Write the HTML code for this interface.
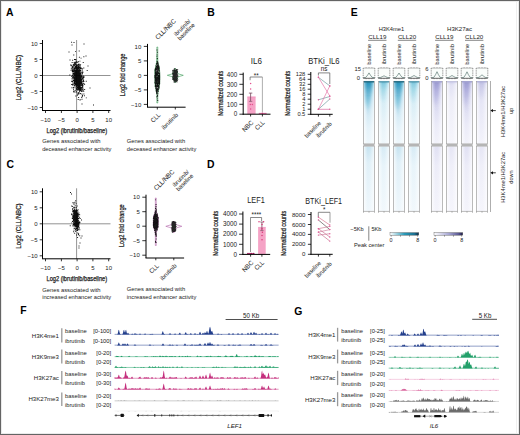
<!DOCTYPE html>
<html><head><meta charset="utf-8"><style>
html,body{margin:0;padding:0;background:#fff;}
svg{display:block;}
text{font-family:"Liberation Sans", sans-serif;}
</style></head><body>
<svg width="520" height="435" viewBox="0 0 520 435" font-family='"Liberation Sans", sans-serif'>
<defs><linearGradient id="k4b" x1="0" y1="0" x2="0" y2="1"><stop offset="0" stop-color="#2a8fb5"/><stop offset="0.04" stop-color="#48abd0"/><stop offset="0.12" stop-color="#7cc4e0"/><stop offset="0.25" stop-color="#a9d8ec"/><stop offset="0.45" stop-color="#cfe8f4"/><stop offset="0.75" stop-color="#e6f3fa"/><stop offset="1" stop-color="#eef7fc"/></linearGradient><linearGradient id="k4i" x1="0" y1="0" x2="0" y2="1"><stop offset="0" stop-color="#5aa8c0"/><stop offset="0.03" stop-color="#9ad6e8"/><stop offset="0.12" stop-color="#b8e2ee"/><stop offset="0.35" stop-color="#d8eef6"/><stop offset="0.7" stop-color="#e9f4f9"/><stop offset="1" stop-color="#eff7fb"/></linearGradient><linearGradient id="k4b2" x1="0" y1="0" x2="0" y2="1"><stop offset="0" stop-color="#c6e3f1"/><stop offset="0.25" stop-color="#e0f0f8"/><stop offset="1" stop-color="#eff7fc"/></linearGradient><linearGradient id="k4i2" x1="0" y1="0" x2="0" y2="1"><stop offset="0" stop-color="#d6ebf5"/><stop offset="0.3" stop-color="#e8f4fa"/><stop offset="1" stop-color="#f1f8fc"/></linearGradient><linearGradient id="acb" x1="0" y1="0" x2="0" y2="1"><stop offset="0" stop-color="#9c9ccf"/><stop offset="0.04" stop-color="#b4b4e0"/><stop offset="0.15" stop-color="#c6c6ea"/><stop offset="0.4" stop-color="#dcdcf2"/><stop offset="0.7" stop-color="#ebebf8"/><stop offset="1" stop-color="#f2f2fa"/></linearGradient><linearGradient id="aci" x1="0" y1="0" x2="0" y2="1"><stop offset="0" stop-color="#d0d0ec"/><stop offset="0.05" stop-color="#e2e2f4"/><stop offset="0.3" stop-color="#eeeef8"/><stop offset="1" stop-color="#f6f6fc"/></linearGradient><linearGradient id="aci8" x1="0" y1="0" x2="0" y2="1"><stop offset="0" stop-color="#c0c0e4"/><stop offset="0.05" stop-color="#d4d4ee"/><stop offset="0.3" stop-color="#e6e6f6"/><stop offset="1" stop-color="#f3f3fb"/></linearGradient><linearGradient id="acb2" x1="0" y1="0" x2="0" y2="1"><stop offset="0" stop-color="#e0e0f3"/><stop offset="0.3" stop-color="#ececf8"/><stop offset="1" stop-color="#f4f4fb"/></linearGradient><linearGradient id="aci2" x1="0" y1="0" x2="0" y2="1"><stop offset="0" stop-color="#e6e6f5"/><stop offset="0.3" stop-color="#efeff9"/><stop offset="1" stop-color="#f5f5fc"/></linearGradient><linearGradient id="vk4" x1="0" y1="0" x2="0" y2="1"><stop offset="0" stop-color="#1286b0" stop-opacity="0.5"/><stop offset="1" stop-color="#1286b0" stop-opacity="0"/></linearGradient><linearGradient id="vk4i" x1="0" y1="0" x2="0" y2="1"><stop offset="0" stop-color="#3aa8c8" stop-opacity="0.22"/><stop offset="1" stop-color="#3aa8c8" stop-opacity="0"/></linearGradient><linearGradient id="vac" x1="0" y1="0" x2="0" y2="1"><stop offset="0" stop-color="#7a78c0" stop-opacity="0.35"/><stop offset="1" stop-color="#7a78c0" stop-opacity="0"/></linearGradient><linearGradient id="vaci" x1="0" y1="0" x2="0" y2="1"><stop offset="0" stop-color="#9a98d0" stop-opacity="0.2"/><stop offset="1" stop-color="#9a98d0" stop-opacity="0"/></linearGradient><filter id="bl" x="-50%" y="-20%" width="200%" height="140%"><feGaussianBlur stdDeviation="1.3"/></filter><linearGradient id="hmask" x1="0" y1="0" x2="1" y2="0"><stop offset="0" stop-color="#ffffff" stop-opacity="0.55"/><stop offset="0.35" stop-color="#ffffff" stop-opacity="0.0"/><stop offset="0.6" stop-color="#ffffff" stop-opacity="0.05"/><stop offset="1" stop-color="#ffffff" stop-opacity="0.6"/></linearGradient><linearGradient id="cb1" x1="0" y1="0" x2="1" y2="0"><stop offset="0" stop-color="#ffffff" stop-opacity="1"/><stop offset="0.5" stop-color="#2a9ab8" stop-opacity="1"/><stop offset="0.85" stop-color="#1a6f90" stop-opacity="1"/><stop offset="1" stop-color="#0f2a45" stop-opacity="1"/></linearGradient><linearGradient id="cb2" x1="0" y1="0" x2="1" y2="0"><stop offset="0" stop-color="#ffffff" stop-opacity="1"/><stop offset="0.5" stop-color="#a8a8d4" stop-opacity="1"/><stop offset="0.85" stop-color="#5c5a94" stop-opacity="1"/><stop offset="1" stop-color="#1a1a40" stop-opacity="1"/></linearGradient></defs>
<rect x="0" y="0" width="520" height="435" fill="#fff"/>
<text x="6.00" y="15.50" font-size="10.4" fill="#000" font-weight="bold" >A</text>
<text x="207.30" y="15.80" font-size="10.4" fill="#000" font-weight="bold" >B</text>
<text x="6.50" y="167.50" font-size="10.4" fill="#000" font-weight="bold" >C</text>
<text x="207.00" y="167.60" font-size="10.4" fill="#000" font-weight="bold" >D</text>
<text x="350.80" y="15.60" font-size="10.4" fill="#000" font-weight="bold" >E</text>
<text x="20.30" y="314.30" font-size="10.4" fill="#000" font-weight="bold" >F</text>
<text x="294.30" y="314.60" font-size="10.4" fill="#000" font-weight="bold" >G</text>
<line x1="76.60" y1="40.00" x2="76.60" y2="110.50" stroke="#777" stroke-width="0.8" />
<line x1="42.50" y1="75.50" x2="110.50" y2="75.50" stroke="#777" stroke-width="0.8" />
<path d="M78.15 75.34h0.95v0.95h-0.95zM76.35 75.53h0.95v0.95h-0.95zM76.02 70.89h0.95v0.95h-0.95zM79.04 84.36h0.95v0.95h-0.95zM78.59 83.87h0.95v0.95h-0.95zM77.95 79.63h0.95v0.95h-0.95zM77.79 66.03h0.95v0.95h-0.95zM78.72 80.37h0.95v0.95h-0.95zM72.05 65.86h0.95v0.95h-0.95zM75.49 71.15h0.95v0.95h-0.95zM77.37 79.04h0.95v0.95h-0.95zM76.22 80.46h0.95v0.95h-0.95zM78.34 79.06h0.95v0.95h-0.95zM80.48 72.66h0.95v0.95h-0.95zM80.30 80.70h0.95v0.95h-0.95zM75.11 72.93h0.95v0.95h-0.95zM76.72 74.75h0.95v0.95h-0.95zM78.27 81.20h0.95v0.95h-0.95zM74.77 74.07h0.95v0.95h-0.95zM79.50 73.59h0.95v0.95h-0.95zM77.12 71.69h0.95v0.95h-0.95zM74.29 79.84h0.95v0.95h-0.95zM80.14 77.34h0.95v0.95h-0.95zM74.92 63.73h0.95v0.95h-0.95zM75.34 76.32h0.95v0.95h-0.95zM77.48 80.31h0.95v0.95h-0.95zM77.89 67.36h0.95v0.95h-0.95zM79.84 81.44h0.95v0.95h-0.95zM79.16 86.53h0.95v0.95h-0.95zM74.46 77.81h0.95v0.95h-0.95zM76.37 81.09h0.95v0.95h-0.95zM74.08 74.04h0.95v0.95h-0.95zM75.29 70.64h0.95v0.95h-0.95zM73.78 85.53h0.95v0.95h-0.95zM76.60 67.40h0.95v0.95h-0.95zM79.64 86.55h0.95v0.95h-0.95zM70.18 64.49h0.95v0.95h-0.95zM75.89 79.38h0.95v0.95h-0.95zM78.49 69.63h0.95v0.95h-0.95zM78.44 84.30h0.95v0.95h-0.95zM78.38 78.65h0.95v0.95h-0.95zM79.85 87.55h0.95v0.95h-0.95zM78.84 80.45h0.95v0.95h-0.95zM78.80 66.67h0.95v0.95h-0.95zM79.15 83.33h0.95v0.95h-0.95zM74.27 64.00h0.95v0.95h-0.95zM73.91 82.58h0.95v0.95h-0.95zM79.32 75.81h0.95v0.95h-0.95zM79.73 68.37h0.95v0.95h-0.95zM77.33 80.67h0.95v0.95h-0.95zM78.91 79.17h0.95v0.95h-0.95zM79.84 77.82h0.95v0.95h-0.95zM75.79 72.66h0.95v0.95h-0.95zM78.11 83.90h0.95v0.95h-0.95zM78.61 71.21h0.95v0.95h-0.95zM77.41 86.70h0.95v0.95h-0.95zM75.84 67.92h0.95v0.95h-0.95zM76.45 76.04h0.95v0.95h-0.95zM76.08 86.30h0.95v0.95h-0.95zM75.43 85.34h0.95v0.95h-0.95zM77.99 71.83h0.95v0.95h-0.95zM80.01 84.47h0.95v0.95h-0.95zM77.81 79.30h0.95v0.95h-0.95zM78.61 78.03h0.95v0.95h-0.95zM77.70 75.86h0.95v0.95h-0.95zM77.68 80.80h0.95v0.95h-0.95zM79.08 82.07h0.95v0.95h-0.95zM79.53 90.30h0.95v0.95h-0.95zM76.07 74.20h0.95v0.95h-0.95zM79.25 76.94h0.95v0.95h-0.95zM77.81 74.80h0.95v0.95h-0.95zM73.04 89.15h0.95v0.95h-0.95zM76.87 69.61h0.95v0.95h-0.95zM78.07 79.65h0.95v0.95h-0.95zM78.32 74.18h0.95v0.95h-0.95zM76.30 78.89h0.95v0.95h-0.95zM79.93 93.06h0.95v0.95h-0.95zM76.57 73.37h0.95v0.95h-0.95zM76.91 75.54h0.95v0.95h-0.95zM73.99 59.02h0.95v0.95h-0.95zM75.45 83.68h0.95v0.95h-0.95zM79.27 76.58h0.95v0.95h-0.95zM81.18 82.68h0.95v0.95h-0.95zM75.10 65.80h0.95v0.95h-0.95zM78.33 74.77h0.95v0.95h-0.95zM72.19 84.23h0.95v0.95h-0.95zM74.90 84.21h0.95v0.95h-0.95zM74.48 81.53h0.95v0.95h-0.95zM79.99 78.19h0.95v0.95h-0.95zM77.53 76.04h0.95v0.95h-0.95zM78.17 82.29h0.95v0.95h-0.95zM80.53 76.44h0.95v0.95h-0.95zM77.41 83.94h0.95v0.95h-0.95zM76.88 95.14h0.95v0.95h-0.95zM77.36 83.06h0.95v0.95h-0.95zM78.88 77.90h0.95v0.95h-0.95zM78.81 78.49h0.95v0.95h-0.95zM72.69 66.94h0.95v0.95h-0.95zM75.59 81.08h0.95v0.95h-0.95zM73.18 70.25h0.95v0.95h-0.95zM79.87 85.38h0.95v0.95h-0.95zM76.33 86.75h0.95v0.95h-0.95zM74.72 77.03h0.95v0.95h-0.95zM81.33 82.08h0.95v0.95h-0.95zM79.95 71.15h0.95v0.95h-0.95zM77.62 83.55h0.95v0.95h-0.95zM78.76 64.01h0.95v0.95h-0.95zM75.82 76.39h0.95v0.95h-0.95zM78.44 79.66h0.95v0.95h-0.95zM76.17 86.91h0.95v0.95h-0.95zM81.40 84.52h0.95v0.95h-0.95zM77.98 86.61h0.95v0.95h-0.95zM78.88 72.11h0.95v0.95h-0.95zM77.59 77.79h0.95v0.95h-0.95zM77.77 86.42h0.95v0.95h-0.95zM74.55 61.87h0.95v0.95h-0.95zM77.56 64.79h0.95v0.95h-0.95zM76.13 79.12h0.95v0.95h-0.95zM79.05 76.96h0.95v0.95h-0.95zM80.21 77.55h0.95v0.95h-0.95zM79.47 76.62h0.95v0.95h-0.95zM81.95 86.87h0.95v0.95h-0.95zM78.63 72.59h0.95v0.95h-0.95zM73.36 64.64h0.95v0.95h-0.95zM78.02 64.07h0.95v0.95h-0.95zM76.22 68.89h0.95v0.95h-0.95zM77.01 75.76h0.95v0.95h-0.95zM77.27 73.12h0.95v0.95h-0.95zM78.74 88.85h0.95v0.95h-0.95zM79.85 80.53h0.95v0.95h-0.95zM74.30 75.72h0.95v0.95h-0.95zM79.15 73.36h0.95v0.95h-0.95zM74.61 66.16h0.95v0.95h-0.95zM79.77 83.67h0.95v0.95h-0.95zM79.00 77.08h0.95v0.95h-0.95zM74.76 78.12h0.95v0.95h-0.95zM74.58 66.70h0.95v0.95h-0.95zM76.71 83.12h0.95v0.95h-0.95zM74.81 71.07h0.95v0.95h-0.95zM75.75 66.92h0.95v0.95h-0.95zM77.09 69.24h0.95v0.95h-0.95zM76.08 61.45h0.95v0.95h-0.95zM72.44 72.79h0.95v0.95h-0.95zM77.19 81.81h0.95v0.95h-0.95zM73.53 62.31h0.95v0.95h-0.95zM76.45 78.95h0.95v0.95h-0.95zM79.49 82.17h0.95v0.95h-0.95zM78.47 81.42h0.95v0.95h-0.95zM79.73 85.83h0.95v0.95h-0.95zM73.00 80.00h0.95v0.95h-0.95zM80.82 82.94h0.95v0.95h-0.95zM75.96 75.07h0.95v0.95h-0.95zM74.89 89.83h0.95v0.95h-0.95zM82.93 80.12h0.95v0.95h-0.95zM78.01 70.90h0.95v0.95h-0.95zM78.45 89.48h0.95v0.95h-0.95zM79.66 80.73h0.95v0.95h-0.95zM76.31 71.05h0.95v0.95h-0.95zM79.27 78.96h0.95v0.95h-0.95zM76.77 76.80h0.95v0.95h-0.95zM75.63 70.32h0.95v0.95h-0.95zM78.16 82.91h0.95v0.95h-0.95zM74.70 71.40h0.95v0.95h-0.95zM81.84 94.63h0.95v0.95h-0.95zM72.03 81.23h0.95v0.95h-0.95zM78.77 81.13h0.95v0.95h-0.95zM79.50 88.14h0.95v0.95h-0.95zM78.32 76.58h0.95v0.95h-0.95zM77.96 64.19h0.95v0.95h-0.95zM75.94 79.17h0.95v0.95h-0.95zM82.26 85.77h0.95v0.95h-0.95zM74.65 67.77h0.95v0.95h-0.95zM77.86 78.95h0.95v0.95h-0.95zM74.77 74.40h0.95v0.95h-0.95zM81.19 91.02h0.95v0.95h-0.95zM73.32 69.14h0.95v0.95h-0.95zM80.75 88.27h0.95v0.95h-0.95zM80.45 89.04h0.95v0.95h-0.95zM77.11 71.27h0.95v0.95h-0.95zM73.87 62.77h0.95v0.95h-0.95zM78.33 76.64h0.95v0.95h-0.95zM76.38 72.22h0.95v0.95h-0.95zM78.42 80.05h0.95v0.95h-0.95zM78.19 81.24h0.95v0.95h-0.95zM78.70 74.89h0.95v0.95h-0.95zM75.45 77.35h0.95v0.95h-0.95zM76.73 72.89h0.95v0.95h-0.95zM77.48 76.30h0.95v0.95h-0.95zM77.61 77.02h0.95v0.95h-0.95zM74.35 76.14h0.95v0.95h-0.95zM79.88 79.81h0.95v0.95h-0.95zM77.15 79.89h0.95v0.95h-0.95zM75.45 79.97h0.95v0.95h-0.95zM75.85 64.51h0.95v0.95h-0.95zM78.12 70.88h0.95v0.95h-0.95zM70.58 69.87h0.95v0.95h-0.95zM79.87 70.16h0.95v0.95h-0.95zM73.91 74.51h0.95v0.95h-0.95zM77.77 71.99h0.95v0.95h-0.95zM78.01 80.30h0.95v0.95h-0.95zM79.95 86.82h0.95v0.95h-0.95zM78.52 76.89h0.95v0.95h-0.95zM80.67 87.95h0.95v0.95h-0.95zM75.65 83.78h0.95v0.95h-0.95zM78.71 76.05h0.95v0.95h-0.95zM79.34 75.07h0.95v0.95h-0.95zM79.70 80.96h0.95v0.95h-0.95zM82.66 75.62h0.95v0.95h-0.95zM77.73 85.21h0.95v0.95h-0.95zM83.01 77.62h0.95v0.95h-0.95zM78.88 74.76h0.95v0.95h-0.95zM78.02 83.50h0.95v0.95h-0.95zM76.71 69.32h0.95v0.95h-0.95zM79.99 79.40h0.95v0.95h-0.95zM77.90 82.19h0.95v0.95h-0.95zM79.09 82.66h0.95v0.95h-0.95zM77.51 78.38h0.95v0.95h-0.95zM78.54 75.42h0.95v0.95h-0.95zM75.01 70.07h0.95v0.95h-0.95zM74.01 77.06h0.95v0.95h-0.95zM72.46 74.15h0.95v0.95h-0.95zM77.93 72.52h0.95v0.95h-0.95zM77.55 80.76h0.95v0.95h-0.95zM73.92 75.49h0.95v0.95h-0.95zM79.81 89.09h0.95v0.95h-0.95zM76.15 84.24h0.95v0.95h-0.95zM73.08 75.80h0.95v0.95h-0.95zM79.90 82.18h0.95v0.95h-0.95zM75.61 64.50h0.95v0.95h-0.95zM73.85 81.19h0.95v0.95h-0.95zM73.44 64.98h0.95v0.95h-0.95zM73.64 72.87h0.95v0.95h-0.95zM77.80 77.23h0.95v0.95h-0.95zM79.27 81.21h0.95v0.95h-0.95zM80.98 86.94h0.95v0.95h-0.95zM75.07 68.37h0.95v0.95h-0.95zM74.02 70.03h0.95v0.95h-0.95zM77.17 76.49h0.95v0.95h-0.95zM74.12 80.26h0.95v0.95h-0.95zM76.19 68.86h0.95v0.95h-0.95zM76.38 75.71h0.95v0.95h-0.95zM75.50 76.61h0.95v0.95h-0.95zM78.56 81.65h0.95v0.95h-0.95zM75.68 76.45h0.95v0.95h-0.95zM71.10 75.88h0.95v0.95h-0.95zM76.53 70.55h0.95v0.95h-0.95zM76.47 67.10h0.95v0.95h-0.95zM74.31 78.00h0.95v0.95h-0.95zM76.34 75.37h0.95v0.95h-0.95zM78.94 80.06h0.95v0.95h-0.95zM75.32 76.79h0.95v0.95h-0.95zM76.97 76.07h0.95v0.95h-0.95zM78.45 81.87h0.95v0.95h-0.95zM73.67 72.26h0.95v0.95h-0.95zM75.30 74.56h0.95v0.95h-0.95zM76.09 69.69h0.95v0.95h-0.95zM77.07 73.78h0.95v0.95h-0.95zM76.73 80.48h0.95v0.95h-0.95zM78.36 92.37h0.95v0.95h-0.95zM78.37 84.30h0.95v0.95h-0.95zM72.88 84.39h0.95v0.95h-0.95zM77.17 72.07h0.95v0.95h-0.95zM82.84 81.00h0.95v0.95h-0.95zM80.30 79.15h0.95v0.95h-0.95zM79.92 82.08h0.95v0.95h-0.95zM77.29 80.39h0.95v0.95h-0.95zM75.26 80.39h0.95v0.95h-0.95zM75.92 84.82h0.95v0.95h-0.95zM82.09 78.67h0.95v0.95h-0.95zM77.09 75.55h0.95v0.95h-0.95zM78.20 84.70h0.95v0.95h-0.95zM77.15 71.69h0.95v0.95h-0.95zM79.25 80.87h0.95v0.95h-0.95zM80.47 71.93h0.95v0.95h-0.95zM78.59 88.03h0.95v0.95h-0.95zM76.50 78.80h0.95v0.95h-0.95zM76.79 86.36h0.95v0.95h-0.95zM76.70 81.47h0.95v0.95h-0.95zM78.26 72.44h0.95v0.95h-0.95zM78.26 85.83h0.95v0.95h-0.95zM78.47 72.55h0.95v0.95h-0.95zM77.87 76.70h0.95v0.95h-0.95zM80.92 87.08h0.95v0.95h-0.95zM81.84 73.59h0.95v0.95h-0.95zM78.96 77.05h0.95v0.95h-0.95zM76.61 72.75h0.95v0.95h-0.95zM79.77 65.48h0.95v0.95h-0.95zM75.63 86.04h0.95v0.95h-0.95zM72.47 67.09h0.95v0.95h-0.95zM77.15 84.78h0.95v0.95h-0.95zM76.49 76.63h0.95v0.95h-0.95zM74.74 76.23h0.95v0.95h-0.95zM74.08 77.18h0.95v0.95h-0.95zM77.85 76.55h0.95v0.95h-0.95zM77.09 80.11h0.95v0.95h-0.95zM76.86 71.06h0.95v0.95h-0.95zM80.29 73.83h0.95v0.95h-0.95zM77.58 82.09h0.95v0.95h-0.95zM75.31 73.92h0.95v0.95h-0.95zM75.71 70.84h0.95v0.95h-0.95zM78.59 78.97h0.95v0.95h-0.95zM82.29 80.78h0.95v0.95h-0.95zM76.70 72.37h0.95v0.95h-0.95zM75.33 95.47h0.95v0.95h-0.95zM77.19 73.58h0.95v0.95h-0.95zM78.24 78.04h0.95v0.95h-0.95zM77.84 75.45h0.95v0.95h-0.95zM78.96 77.37h0.95v0.95h-0.95zM73.78 64.53h0.95v0.95h-0.95zM74.95 77.01h0.95v0.95h-0.95zM77.78 70.13h0.95v0.95h-0.95zM78.11 72.74h0.95v0.95h-0.95zM78.49 81.95h0.95v0.95h-0.95zM77.40 80.38h0.95v0.95h-0.95zM76.04 67.72h0.95v0.95h-0.95zM76.42 80.02h0.95v0.95h-0.95zM78.79 76.37h0.95v0.95h-0.95zM77.94 71.23h0.95v0.95h-0.95zM77.48 89.32h0.95v0.95h-0.95zM77.01 77.99h0.95v0.95h-0.95zM79.14 87.19h0.95v0.95h-0.95zM76.42 82.95h0.95v0.95h-0.95zM77.19 76.92h0.95v0.95h-0.95zM78.99 65.30h0.95v0.95h-0.95zM74.09 82.96h0.95v0.95h-0.95zM77.53 81.94h0.95v0.95h-0.95zM78.39 79.98h0.95v0.95h-0.95zM75.57 67.13h0.95v0.95h-0.95zM77.14 86.88h0.95v0.95h-0.95zM73.42 70.27h0.95v0.95h-0.95zM77.00 68.97h0.95v0.95h-0.95zM79.51 88.20h0.95v0.95h-0.95zM82.33 78.65h0.95v0.95h-0.95zM75.33 73.60h0.95v0.95h-0.95zM78.85 80.51h0.95v0.95h-0.95zM73.85 70.33h0.95v0.95h-0.95zM78.00 78.95h0.95v0.95h-0.95zM75.75 68.40h0.95v0.95h-0.95zM77.81 73.44h0.95v0.95h-0.95zM76.94 76.25h0.95v0.95h-0.95zM79.26 74.69h0.95v0.95h-0.95zM77.52 86.20h0.95v0.95h-0.95zM76.23 82.61h0.95v0.95h-0.95zM78.93 77.50h0.95v0.95h-0.95zM77.58 87.02h0.95v0.95h-0.95zM77.60 76.54h0.95v0.95h-0.95zM76.07 67.14h0.95v0.95h-0.95zM77.51 72.56h0.95v0.95h-0.95zM71.98 69.57h0.95v0.95h-0.95zM77.83 77.28h0.95v0.95h-0.95zM78.75 73.40h0.95v0.95h-0.95zM75.68 75.22h0.95v0.95h-0.95zM74.15 80.18h0.95v0.95h-0.95zM76.64 72.55h0.95v0.95h-0.95zM77.54 82.63h0.95v0.95h-0.95zM76.03 79.06h0.95v0.95h-0.95zM81.12 79.02h0.95v0.95h-0.95zM81.89 72.49h0.95v0.95h-0.95zM76.75 72.78h0.95v0.95h-0.95zM79.62 78.17h0.95v0.95h-0.95zM71.62 68.86h0.95v0.95h-0.95zM79.45 81.02h0.95v0.95h-0.95zM83.51 81.14h0.95v0.95h-0.95zM77.95 78.38h0.95v0.95h-0.95zM78.77 83.16h0.95v0.95h-0.95zM75.82 88.01h0.95v0.95h-0.95zM69.35 74.55h0.95v0.95h-0.95zM77.05 82.39h0.95v0.95h-0.95zM82.70 83.12h0.95v0.95h-0.95zM76.66 76.99h0.95v0.95h-0.95zM74.99 73.73h0.95v0.95h-0.95zM78.13 72.86h0.95v0.95h-0.95zM77.40 77.27h0.95v0.95h-0.95zM79.10 75.88h0.95v0.95h-0.95zM77.30 80.29h0.95v0.95h-0.95zM77.42 81.41h0.95v0.95h-0.95zM79.51 69.42h0.95v0.95h-0.95zM75.49 80.10h0.95v0.95h-0.95zM78.84 84.15h0.95v0.95h-0.95zM79.53 66.70h0.95v0.95h-0.95zM79.45 79.23h0.95v0.95h-0.95zM77.05 78.33h0.95v0.95h-0.95zM78.14 66.81h0.95v0.95h-0.95zM76.62 77.22h0.95v0.95h-0.95zM77.67 79.34h0.95v0.95h-0.95zM76.94 81.48h0.95v0.95h-0.95zM72.49 76.78h0.95v0.95h-0.95zM78.38 74.23h0.95v0.95h-0.95zM77.48 85.85h0.95v0.95h-0.95zM80.61 76.22h0.95v0.95h-0.95zM78.58 74.87h0.95v0.95h-0.95zM78.64 88.10h0.95v0.95h-0.95zM76.63 85.12h0.95v0.95h-0.95zM77.22 78.40h0.95v0.95h-0.95zM79.80 77.78h0.95v0.95h-0.95zM77.65 92.80h0.95v0.95h-0.95zM77.86 73.23h0.95v0.95h-0.95zM77.48 70.06h0.95v0.95h-0.95zM77.07 80.80h0.95v0.95h-0.95zM74.24 80.53h0.95v0.95h-0.95zM74.43 82.04h0.95v0.95h-0.95zM75.45 72.43h0.95v0.95h-0.95zM78.80 74.38h0.95v0.95h-0.95zM76.42 77.56h0.95v0.95h-0.95zM81.13 80.61h0.95v0.95h-0.95zM78.03 77.07h0.95v0.95h-0.95zM78.80 85.21h0.95v0.95h-0.95zM81.69 68.55h0.95v0.95h-0.95zM74.61 91.60h0.95v0.95h-0.95zM78.11 76.77h0.95v0.95h-0.95zM79.46 83.40h0.95v0.95h-0.95zM74.69 75.23h0.95v0.95h-0.95zM79.58 77.70h0.95v0.95h-0.95zM74.10 69.83h0.95v0.95h-0.95zM72.94 76.86h0.95v0.95h-0.95zM76.06 75.31h0.95v0.95h-0.95zM76.04 80.00h0.95v0.95h-0.95zM75.66 71.20h0.95v0.95h-0.95zM75.72 76.70h0.95v0.95h-0.95zM78.89 77.10h0.95v0.95h-0.95zM81.91 84.85h0.95v0.95h-0.95zM75.68 71.85h0.95v0.95h-0.95zM79.44 60.64h0.95v0.95h-0.95zM76.58 72.24h0.95v0.95h-0.95zM74.65 80.47h0.95v0.95h-0.95zM77.53 80.09h0.95v0.95h-0.95zM76.42 64.97h0.95v0.95h-0.95zM74.06 84.91h0.95v0.95h-0.95zM78.32 82.35h0.95v0.95h-0.95zM78.57 80.16h0.95v0.95h-0.95zM77.77 85.63h0.95v0.95h-0.95zM77.02 82.79h0.95v0.95h-0.95zM76.01 81.83h0.95v0.95h-0.95zM80.95 76.31h0.95v0.95h-0.95zM77.23 79.97h0.95v0.95h-0.95zM74.58 69.47h0.95v0.95h-0.95zM79.45 78.30h0.95v0.95h-0.95zM78.72 79.84h0.95v0.95h-0.95zM80.17 76.75h0.95v0.95h-0.95zM75.71 74.45h0.95v0.95h-0.95zM78.07 82.89h0.95v0.95h-0.95zM75.74 75.19h0.95v0.95h-0.95zM78.39 75.33h0.95v0.95h-0.95zM74.84 79.36h0.95v0.95h-0.95zM77.96 79.84h0.95v0.95h-0.95zM78.13 70.42h0.95v0.95h-0.95zM76.26 75.17h0.95v0.95h-0.95zM80.76 82.28h0.95v0.95h-0.95zM77.64 72.48h0.95v0.95h-0.95zM81.62 71.24h0.95v0.95h-0.95zM79.46 73.77h0.95v0.95h-0.95zM78.50 72.75h0.95v0.95h-0.95zM73.39 91.67h0.95v0.95h-0.95zM77.98 74.16h0.95v0.95h-0.95zM75.68 76.41h0.95v0.95h-0.95zM79.10 91.23h0.95v0.95h-0.95zM77.80 66.17h0.95v0.95h-0.95zM78.39 65.66h0.95v0.95h-0.95zM77.09 73.21h0.95v0.95h-0.95zM78.48 85.35h0.95v0.95h-0.95zM72.39 67.84h0.95v0.95h-0.95zM79.79 84.83h0.95v0.95h-0.95zM78.47 71.64h0.95v0.95h-0.95zM79.04 80.30h0.95v0.95h-0.95zM74.77 62.12h0.95v0.95h-0.95zM79.55 82.97h0.95v0.95h-0.95zM72.52 82.84h0.95v0.95h-0.95zM78.44 78.14h0.95v0.95h-0.95zM77.15 93.87h0.95v0.95h-0.95zM77.04 74.85h0.95v0.95h-0.95zM76.95 82.87h0.95v0.95h-0.95zM76.40 84.60h0.95v0.95h-0.95zM76.28 78.79h0.95v0.95h-0.95zM75.83 78.07h0.95v0.95h-0.95zM78.36 66.48h0.95v0.95h-0.95zM76.24 79.03h0.95v0.95h-0.95zM79.56 78.35h0.95v0.95h-0.95zM76.21 70.57h0.95v0.95h-0.95zM78.81 80.58h0.95v0.95h-0.95zM72.32 74.81h0.95v0.95h-0.95zM78.93 85.23h0.95v0.95h-0.95zM76.62 77.11h0.95v0.95h-0.95zM76.50 78.76h0.95v0.95h-0.95zM74.79 70.26h0.95v0.95h-0.95zM75.41 73.09h0.95v0.95h-0.95zM77.71 69.38h0.95v0.95h-0.95zM77.64 68.38h0.95v0.95h-0.95zM77.20 70.33h0.95v0.95h-0.95zM78.76 86.09h0.95v0.95h-0.95zM76.75 72.20h0.95v0.95h-0.95zM73.53 78.00h0.95v0.95h-0.95zM77.10 73.01h0.95v0.95h-0.95zM77.03 73.93h0.95v0.95h-0.95zM79.49 81.87h0.95v0.95h-0.95zM79.24 83.00h0.95v0.95h-0.95zM76.96 75.12h0.95v0.95h-0.95zM76.32 75.24h0.95v0.95h-0.95zM73.29 75.84h0.95v0.95h-0.95zM76.91 74.83h0.95v0.95h-0.95zM76.40 70.60h0.95v0.95h-0.95zM77.27 80.43h0.95v0.95h-0.95zM73.14 90.73h0.95v0.95h-0.95zM73.05 75.66h0.95v0.95h-0.95zM83.84 83.49h0.95v0.95h-0.95zM75.52 60.51h0.95v0.95h-0.95zM76.97 80.45h0.95v0.95h-0.95zM72.73 80.67h0.95v0.95h-0.95zM78.72 82.65h0.95v0.95h-0.95zM75.95 77.18h0.95v0.95h-0.95zM76.66 81.24h0.95v0.95h-0.95zM76.28 78.50h0.95v0.95h-0.95zM75.38 62.20h0.95v0.95h-0.95zM79.04 78.36h0.95v0.95h-0.95zM76.46 71.24h0.95v0.95h-0.95zM78.03 81.10h0.95v0.95h-0.95zM82.59 85.23h0.95v0.95h-0.95zM72.28 71.03h0.95v0.95h-0.95zM81.27 82.68h0.95v0.95h-0.95zM79.75 83.11h0.95v0.95h-0.95zM75.17 72.94h0.95v0.95h-0.95zM75.92 82.89h0.95v0.95h-0.95zM73.59 65.06h0.95v0.95h-0.95zM83.43 93.47h0.95v0.95h-0.95zM75.08 72.49h0.95v0.95h-0.95zM75.76 78.55h0.95v0.95h-0.95zM78.09 85.67h0.95v0.95h-0.95zM79.24 69.86h0.95v0.95h-0.95zM77.25 73.18h0.95v0.95h-0.95zM76.52 76.94h0.95v0.95h-0.95zM75.96 79.17h0.95v0.95h-0.95zM70.91 64.85h0.95v0.95h-0.95zM74.55 68.67h0.95v0.95h-0.95zM77.33 76.87h0.95v0.95h-0.95zM77.93 80.69h0.95v0.95h-0.95zM75.04 71.79h0.95v0.95h-0.95zM75.17 63.04h0.95v0.95h-0.95zM78.77 80.23h0.95v0.95h-0.95zM76.75 76.22h0.95v0.95h-0.95zM78.00 83.20h0.95v0.95h-0.95zM79.09 81.89h0.95v0.95h-0.95zM80.27 78.43h0.95v0.95h-0.95zM75.98 73.25h0.95v0.95h-0.95zM74.83 71.69h0.95v0.95h-0.95zM82.33 87.29h0.95v0.95h-0.95zM78.49 77.18h0.95v0.95h-0.95zM79.93 84.78h0.95v0.95h-0.95zM75.40 84.98h0.95v0.95h-0.95zM77.71 72.81h0.95v0.95h-0.95zM78.59 86.50h0.95v0.95h-0.95zM75.77 71.36h0.95v0.95h-0.95zM74.81 72.67h0.95v0.95h-0.95zM77.04 86.93h0.95v0.95h-0.95zM82.00 77.16h0.95v0.95h-0.95zM78.90 84.84h0.95v0.95h-0.95zM77.64 72.99h0.95v0.95h-0.95zM79.88 87.73h0.95v0.95h-0.95zM78.44 85.35h0.95v0.95h-0.95zM77.19 80.43h0.95v0.95h-0.95zM80.42 79.84h0.95v0.95h-0.95zM75.95 67.58h0.95v0.95h-0.95zM76.16 78.61h0.95v0.95h-0.95zM78.71 74.99h0.95v0.95h-0.95zM80.20 90.24h0.95v0.95h-0.95zM74.07 79.18h0.95v0.95h-0.95zM78.92 89.75h0.95v0.95h-0.95zM74.74 76.80h0.95v0.95h-0.95zM74.77 76.65h0.95v0.95h-0.95zM78.31 77.49h0.95v0.95h-0.95zM77.86 77.23h0.95v0.95h-0.95zM79.70 71.40h0.95v0.95h-0.95zM72.71 72.71h0.95v0.95h-0.95zM75.40 75.79h0.95v0.95h-0.95zM75.64 70.36h0.95v0.95h-0.95zM74.86 78.95h0.95v0.95h-0.95zM80.25 76.12h0.95v0.95h-0.95zM77.43 81.53h0.95v0.95h-0.95zM77.06 77.87h0.95v0.95h-0.95zM78.80 76.71h0.95v0.95h-0.95zM71.86 76.41h0.95v0.95h-0.95zM75.25 76.88h0.95v0.95h-0.95zM76.40 81.32h0.95v0.95h-0.95zM82.13 78.00h0.95v0.95h-0.95zM73.92 70.12h0.95v0.95h-0.95zM70.84 67.71h0.95v0.95h-0.95zM76.54 64.63h0.95v0.95h-0.95zM72.61 72.81h0.95v0.95h-0.95zM77.41 67.24h0.95v0.95h-0.95zM75.80 71.91h0.95v0.95h-0.95zM80.47 79.21h0.95v0.95h-0.95zM81.03 89.84h0.95v0.95h-0.95zM77.74 77.97h0.95v0.95h-0.95zM81.80 88.92h0.95v0.95h-0.95zM77.99 74.98h0.95v0.95h-0.95zM77.57 78.92h0.95v0.95h-0.95zM73.91 73.72h0.95v0.95h-0.95zM73.40 73.50h0.95v0.95h-0.95zM79.37 85.10h0.95v0.95h-0.95zM79.34 69.07h0.95v0.95h-0.95zM73.73 82.91h0.95v0.95h-0.95zM80.47 89.18h0.95v0.95h-0.95zM76.15 90.65h0.95v0.95h-0.95zM78.58 80.53h0.95v0.95h-0.95zM77.76 78.36h0.95v0.95h-0.95zM74.77 83.98h0.95v0.95h-0.95zM73.17 68.83h0.95v0.95h-0.95zM75.45 73.34h0.95v0.95h-0.95zM78.10 79.45h0.95v0.95h-0.95zM75.76 77.23h0.95v0.95h-0.95zM78.97 74.11h0.95v0.95h-0.95zM78.05 82.06h0.95v0.95h-0.95zM80.39 74.90h0.95v0.95h-0.95zM78.18 73.10h0.95v0.95h-0.95zM77.55 84.64h0.95v0.95h-0.95zM75.42 82.47h0.95v0.95h-0.95zM78.47 83.71h0.95v0.95h-0.95zM77.44 66.55h0.95v0.95h-0.95zM79.34 71.14h0.95v0.95h-0.95zM76.32 72.54h0.95v0.95h-0.95zM76.72 78.89h0.95v0.95h-0.95zM76.21 78.74h0.95v0.95h-0.95zM77.77 81.46h0.95v0.95h-0.95zM71.34 78.42h0.95v0.95h-0.95zM78.21 84.69h0.95v0.95h-0.95zM76.02 65.26h0.95v0.95h-0.95zM79.95 80.11h0.95v0.95h-0.95zM79.77 69.88h0.95v0.95h-0.95zM82.37 75.97h0.95v0.95h-0.95zM78.60 76.06h0.95v0.95h-0.95zM74.48 74.61h0.95v0.95h-0.95zM80.09 84.26h0.95v0.95h-0.95zM80.33 87.18h0.95v0.95h-0.95zM73.11 73.24h0.95v0.95h-0.95zM75.22 72.73h0.95v0.95h-0.95zM77.86 71.64h0.95v0.95h-0.95zM76.89 79.19h0.95v0.95h-0.95zM77.04 78.16h0.95v0.95h-0.95zM79.05 78.43h0.95v0.95h-0.95zM76.48 83.36h0.95v0.95h-0.95zM79.17 67.08h0.95v0.95h-0.95zM79.75 77.78h0.95v0.95h-0.95zM75.20 66.18h0.95v0.95h-0.95zM74.08 77.20h0.95v0.95h-0.95zM78.41 73.62h0.95v0.95h-0.95zM81.59 84.14h0.95v0.95h-0.95zM73.46 71.33h0.95v0.95h-0.95zM79.71 80.46h0.95v0.95h-0.95zM74.51 78.30h0.95v0.95h-0.95zM79.59 82.19h0.95v0.95h-0.95zM76.59 80.68h0.95v0.95h-0.95zM79.21 79.03h0.95v0.95h-0.95zM72.73 73.34h0.95v0.95h-0.95zM78.54 79.19h0.95v0.95h-0.95zM79.19 77.11h0.95v0.95h-0.95zM76.58 73.15h0.95v0.95h-0.95zM78.24 75.01h0.95v0.95h-0.95zM77.94 87.56h0.95v0.95h-0.95zM82.22 90.59h0.95v0.95h-0.95zM79.14 82.24h0.95v0.95h-0.95zM78.23 88.71h0.95v0.95h-0.95zM74.80 76.29h0.95v0.95h-0.95zM80.56 80.15h0.95v0.95h-0.95zM78.58 80.54h0.95v0.95h-0.95zM77.44 75.70h0.95v0.95h-0.95zM78.40 67.62h0.95v0.95h-0.95zM74.47 74.32h0.95v0.95h-0.95zM74.82 72.07h0.95v0.95h-0.95zM80.23 82.67h0.95v0.95h-0.95zM78.19 68.06h0.95v0.95h-0.95zM76.65 82.89h0.95v0.95h-0.95zM74.41 67.21h0.95v0.95h-0.95zM77.48 72.84h0.95v0.95h-0.95zM72.48 74.66h0.95v0.95h-0.95zM74.03 78.57h0.95v0.95h-0.95zM75.29 83.00h0.95v0.95h-0.95zM74.80 72.45h0.95v0.95h-0.95zM79.65 73.44h0.95v0.95h-0.95zM79.22 82.65h0.95v0.95h-0.95zM74.07 79.13h0.95v0.95h-0.95zM75.60 73.59h0.95v0.95h-0.95zM77.57 70.57h0.95v0.95h-0.95zM75.08 72.13h0.95v0.95h-0.95zM71.87 70.13h0.95v0.95h-0.95zM80.62 80.95h0.95v0.95h-0.95zM75.21 78.18h0.95v0.95h-0.95zM75.46 59.17h0.95v0.95h-0.95zM78.84 85.05h0.95v0.95h-0.95zM81.21 83.14h0.95v0.95h-0.95zM77.15 84.46h0.95v0.95h-0.95zM79.76 83.97h0.95v0.95h-0.95zM75.12 66.88h0.95v0.95h-0.95zM75.86 67.63h0.95v0.95h-0.95zM75.33 80.84h0.95v0.95h-0.95zM78.45 63.46h0.95v0.95h-0.95zM80.76 79.51h0.95v0.95h-0.95zM78.51 68.29h0.95v0.95h-0.95zM83.28 90.71h0.95v0.95h-0.95zM77.65 75.64h0.95v0.95h-0.95zM79.30 76.01h0.95v0.95h-0.95zM78.24 83.87h0.95v0.95h-0.95zM77.78 68.06h0.95v0.95h-0.95zM78.24 73.92h0.95v0.95h-0.95zM81.01 78.76h0.95v0.95h-0.95zM77.13 84.53h0.95v0.95h-0.95zM81.38 79.33h0.95v0.95h-0.95zM77.75 73.48h0.95v0.95h-0.95zM80.93 84.88h0.95v0.95h-0.95zM74.73 80.45h0.95v0.95h-0.95zM76.77 68.70h0.95v0.95h-0.95zM83.14 79.58h0.95v0.95h-0.95zM79.05 71.34h0.95v0.95h-0.95zM74.16 82.11h0.95v0.95h-0.95zM76.94 71.62h0.95v0.95h-0.95zM76.49 73.77h0.95v0.95h-0.95zM75.82 80.13h0.95v0.95h-0.95zM76.19 80.10h0.95v0.95h-0.95zM77.97 73.43h0.95v0.95h-0.95zM77.40 73.24h0.95v0.95h-0.95zM78.55 87.58h0.95v0.95h-0.95zM78.73 76.06h0.95v0.95h-0.95zM79.32 74.61h0.95v0.95h-0.95zM77.57 68.56h0.95v0.95h-0.95zM75.06 73.65h0.95v0.95h-0.95zM76.76 88.70h0.95v0.95h-0.95zM80.06 88.62h0.95v0.95h-0.95zM76.23 86.61h0.95v0.95h-0.95zM81.38 84.94h0.95v0.95h-0.95zM76.85 76.26h0.95v0.95h-0.95zM79.56 93.23h0.95v0.95h-0.95zM75.50 74.24h0.95v0.95h-0.95zM78.31 79.97h0.95v0.95h-0.95zM81.15 78.20h0.95v0.95h-0.95zM78.01 74.86h0.95v0.95h-0.95zM76.17 86.66h0.95v0.95h-0.95zM82.08 83.88h0.95v0.95h-0.95zM73.74 68.08h0.95v0.95h-0.95zM72.34 70.17h0.95v0.95h-0.95zM73.50 80.01h0.95v0.95h-0.95zM80.82 80.32h0.95v0.95h-0.95zM75.25 66.36h0.95v0.95h-0.95zM77.42 64.37h0.95v0.95h-0.95zM76.06 72.16h0.95v0.95h-0.95zM78.47 77.38h0.95v0.95h-0.95zM76.98 74.74h0.95v0.95h-0.95zM77.04 73.42h0.95v0.95h-0.95zM76.44 69.29h0.95v0.95h-0.95zM74.62 64.27h0.95v0.95h-0.95zM78.92 89.67h0.95v0.95h-0.95zM76.79 68.71h0.95v0.95h-0.95zM72.82 70.61h0.95v0.95h-0.95zM78.26 72.16h0.95v0.95h-0.95zM77.32 79.56h0.95v0.95h-0.95zM74.12 70.91h0.95v0.95h-0.95zM78.83 85.93h0.95v0.95h-0.95zM71.83 70.74h0.95v0.95h-0.95zM81.59 67.98h0.95v0.95h-0.95zM76.15 69.44h0.95v0.95h-0.95zM77.04 78.41h0.95v0.95h-0.95zM73.98 75.19h0.95v0.95h-0.95zM80.11 70.09h0.95v0.95h-0.95zM78.49 72.03h0.95v0.95h-0.95zM75.28 65.85h0.95v0.95h-0.95zM79.71 78.75h0.95v0.95h-0.95zM77.65 69.62h0.95v0.95h-0.95zM75.91 79.57h0.95v0.95h-0.95zM75.63 80.17h0.95v0.95h-0.95zM76.55 71.77h0.95v0.95h-0.95zM74.83 59.11h0.95v0.95h-0.95zM73.21 70.42h0.95v0.95h-0.95zM78.57 74.22h0.95v0.95h-0.95zM79.69 74.36h0.95v0.95h-0.95zM73.42 69.37h0.95v0.95h-0.95zM79.33 87.26h0.95v0.95h-0.95zM76.15 83.26h0.95v0.95h-0.95zM78.43 82.33h0.95v0.95h-0.95zM77.79 81.31h0.95v0.95h-0.95zM76.75 84.99h0.95v0.95h-0.95zM73.21 70.66h0.95v0.95h-0.95zM76.52 84.68h0.95v0.95h-0.95zM74.33 70.14h0.95v0.95h-0.95zM74.08 74.09h0.95v0.95h-0.95zM75.62 75.11h0.95v0.95h-0.95zM74.68 73.39h0.95v0.95h-0.95zM76.24 77.27h0.95v0.95h-0.95zM77.86 77.78h0.95v0.95h-0.95zM72.68 79.27h0.95v0.95h-0.95zM75.05 73.49h0.95v0.95h-0.95zM74.37 82.14h0.95v0.95h-0.95zM76.01 72.31h0.95v0.95h-0.95zM79.14 74.81h0.95v0.95h-0.95zM79.00 74.10h0.95v0.95h-0.95zM72.08 67.35h0.95v0.95h-0.95zM79.15 85.07h0.95v0.95h-0.95zM77.88 80.24h0.95v0.95h-0.95zM74.93 80.22h0.95v0.95h-0.95zM76.81 83.29h0.95v0.95h-0.95zM78.20 83.53h0.95v0.95h-0.95zM72.83 64.00h0.95v0.95h-0.95zM77.82 84.47h0.95v0.95h-0.95zM77.45 74.41h0.95v0.95h-0.95zM75.69 74.22h0.95v0.95h-0.95zM77.62 77.70h0.95v0.95h-0.95zM78.53 87.04h0.95v0.95h-0.95zM82.68 89.43h0.95v0.95h-0.95zM80.92 88.35h0.95v0.95h-0.95zM77.63 77.89h0.95v0.95h-0.95zM75.50 76.08h0.95v0.95h-0.95zM75.76 76.59h0.95v0.95h-0.95zM79.70 87.85h0.95v0.95h-0.95zM72.66 74.08h0.95v0.95h-0.95zM76.27 76.67h0.95v0.95h-0.95zM73.86 69.86h0.95v0.95h-0.95zM76.69 62.17h0.95v0.95h-0.95zM82.85 76.59h0.95v0.95h-0.95zM76.87 76.82h0.95v0.95h-0.95zM78.66 86.56h0.95v0.95h-0.95zM76.54 78.13h0.95v0.95h-0.95zM80.04 73.03h0.95v0.95h-0.95zM81.79 83.63h0.95v0.95h-0.95zM77.01 74.72h0.95v0.95h-0.95zM78.66 71.21h0.95v0.95h-0.95zM77.36 67.83h0.95v0.95h-0.95zM81.20 84.26h0.95v0.95h-0.95zM78.88 70.82h0.95v0.95h-0.95zM74.99 72.32h0.95v0.95h-0.95zM78.72 68.29h0.95v0.95h-0.95zM77.22 87.90h0.95v0.95h-0.95zM75.88 72.01h0.95v0.95h-0.95zM81.42 93.57h0.95v0.95h-0.95zM72.85 73.44h0.95v0.95h-0.95zM79.30 72.59h0.95v0.95h-0.95zM78.12 89.35h0.95v0.95h-0.95zM75.56 72.46h0.95v0.95h-0.95zM77.73 64.58h0.95v0.95h-0.95zM78.70 69.86h0.95v0.95h-0.95zM73.08 65.75h0.95v0.95h-0.95zM75.77 78.93h0.95v0.95h-0.95zM77.86 82.18h0.95v0.95h-0.95zM77.66 69.27h0.95v0.95h-0.95zM73.68 82.58h0.95v0.95h-0.95zM79.77 89.08h0.95v0.95h-0.95zM73.73 82.04h0.95v0.95h-0.95zM75.89 72.27h0.95v0.95h-0.95zM74.87 84.13h0.95v0.95h-0.95zM72.06 71.19h0.95v0.95h-0.95zM77.80 75.43h0.95v0.95h-0.95zM74.59 65.90h0.95v0.95h-0.95zM81.12 80.39h0.95v0.95h-0.95zM77.08 81.41h0.95v0.95h-0.95zM74.23 69.25h0.95v0.95h-0.95zM77.02 72.64h0.95v0.95h-0.95zM80.85 76.70h0.95v0.95h-0.95zM75.09 78.92h0.95v0.95h-0.95zM80.54 87.22h0.95v0.95h-0.95zM75.72 77.69h0.95v0.95h-0.95zM73.49 64.68h0.95v0.95h-0.95zM76.18 83.04h0.95v0.95h-0.95zM76.61 68.31h0.95v0.95h-0.95zM78.75 78.63h0.95v0.95h-0.95zM80.84 81.35h0.95v0.95h-0.95zM78.71 71.49h0.95v0.95h-0.95zM77.97 70.51h0.95v0.95h-0.95zM77.90 78.21h0.95v0.95h-0.95zM77.95 83.41h0.95v0.95h-0.95zM80.03 84.37h0.95v0.95h-0.95zM76.09 77.92h0.95v0.95h-0.95zM75.47 72.05h0.95v0.95h-0.95zM77.01 75.69h0.95v0.95h-0.95zM80.99 96.70h0.95v0.95h-0.95zM75.94 82.10h0.95v0.95h-0.95zM75.96 72.34h0.95v0.95h-0.95zM75.10 78.29h0.95v0.95h-0.95zM77.26 87.66h0.95v0.95h-0.95zM72.94 84.14h0.95v0.95h-0.95zM77.83 76.98h0.95v0.95h-0.95zM78.70 78.29h0.95v0.95h-0.95zM77.80 78.87h0.95v0.95h-0.95zM74.16 64.53h0.95v0.95h-0.95zM76.75 61.56h0.95v0.95h-0.95zM77.04 79.05h0.95v0.95h-0.95zM75.29 71.60h0.95v0.95h-0.95zM82.50 89.21h0.95v0.95h-0.95zM80.01 76.64h0.95v0.95h-0.95zM71.71 66.54h0.95v0.95h-0.95zM74.92 73.84h0.95v0.95h-0.95zM77.20 73.33h0.95v0.95h-0.95zM78.17 96.99h0.95v0.95h-0.95zM77.87 77.35h0.95v0.95h-0.95zM79.25 76.80h0.95v0.95h-0.95zM75.90 88.74h0.95v0.95h-0.95zM76.77 78.09h0.95v0.95h-0.95zM74.14 79.38h0.95v0.95h-0.95zM70.74 65.42h0.95v0.95h-0.95zM78.06 80.49h0.95v0.95h-0.95zM72.08 77.51h0.95v0.95h-0.95zM75.27 74.56h0.95v0.95h-0.95zM74.09 67.69h0.95v0.95h-0.95zM78.97 81.63h0.95v0.95h-0.95zM78.34 76.88h0.95v0.95h-0.95zM76.90 73.04h0.95v0.95h-0.95zM78.48 77.29h0.95v0.95h-0.95zM76.97 75.83h0.95v0.95h-0.95zM75.20 75.18h0.95v0.95h-0.95zM81.51 98.86h0.95v0.95h-0.95zM85.75 80.81h0.95v0.95h-0.95zM73.64 90.56h0.95v0.95h-0.95zM81.07 83.48h0.95v0.95h-0.95zM83.88 95.37h0.95v0.95h-0.95zM74.29 84.23h0.95v0.95h-0.95zM77.57 67.82h0.95v0.95h-0.95zM74.56 81.57h0.95v0.95h-0.95zM75.78 72.68h0.95v0.95h-0.95zM78.73 77.13h0.95v0.95h-0.95zM73.03 73.66h0.95v0.95h-0.95zM84.19 88.95h0.95v0.95h-0.95zM80.90 75.47h0.95v0.95h-0.95zM80.21 80.97h0.95v0.95h-0.95zM75.41 81.34h0.95v0.95h-0.95zM81.53 82.26h0.95v0.95h-0.95zM83.31 67.56h0.95v0.95h-0.95zM85.81 97.42h0.95v0.95h-0.95zM82.04 96.42h0.95v0.95h-0.95zM75.15 73.14h0.95v0.95h-0.95zM77.11 68.40h0.95v0.95h-0.95zM79.77 76.20h0.95v0.95h-0.95zM83.37 56.33h0.95v0.95h-0.95zM79.71 99.29h0.95v0.95h-0.95zM79.82 83.29h0.95v0.95h-0.95zM77.09 79.26h0.95v0.95h-0.95zM74.60 75.30h0.95v0.95h-0.95zM77.62 78.31h0.95v0.95h-0.95zM74.94 79.73h0.95v0.95h-0.95zM77.73 76.92h0.95v0.95h-0.95zM74.51 82.57h0.95v0.95h-0.95zM81.29 80.72h0.95v0.95h-0.95zM76.87 82.50h0.95v0.95h-0.95zM76.23 71.61h0.95v0.95h-0.95zM83.53 83.82h0.95v0.95h-0.95zM75.18 74.94h0.95v0.95h-0.95zM78.60 80.28h0.95v0.95h-0.95zM74.11 67.44h0.95v0.95h-0.95zM79.71 75.51h0.95v0.95h-0.95zM72.87 64.59h0.95v0.95h-0.95zM73.86 81.52h0.95v0.95h-0.95zM78.83 77.61h0.95v0.95h-0.95zM73.95 75.41h0.95v0.95h-0.95zM76.34 75.93h0.95v0.95h-0.95zM75.01 79.89h0.95v0.95h-0.95zM72.92 87.44h0.95v0.95h-0.95zM77.38 74.76h0.95v0.95h-0.95zM76.42 86.14h0.95v0.95h-0.95zM76.14 81.98h0.95v0.95h-0.95zM84.17 83.91h0.95v0.95h-0.95zM78.63 72.51h0.95v0.95h-0.95zM79.91 67.25h0.95v0.95h-0.95zM78.86 88.63h0.95v0.95h-0.95zM77.76 65.18h0.95v0.95h-0.95zM82.38 88.02h0.95v0.95h-0.95zM72.11 84.66h0.95v0.95h-0.95zM81.68 69.73h0.95v0.95h-0.95zM80.15 64.26h0.95v0.95h-0.95zM82.00 95.35h0.95v0.95h-0.95zM77.51 87.73h0.95v0.95h-0.95zM75.95 64.27h0.95v0.95h-0.95zM77.16 74.54h0.95v0.95h-0.95zM77.73 83.49h0.95v0.95h-0.95zM79.16 78.44h0.95v0.95h-0.95zM83.79 76.47h0.95v0.95h-0.95zM78.26 80.95h0.95v0.95h-0.95zM75.19 74.45h0.95v0.95h-0.95zM79.38 89.97h0.95v0.95h-0.95zM74.53 65.74h0.95v0.95h-0.95zM75.87 75.16h0.95v0.95h-0.95zM74.66 87.37h0.95v0.95h-0.95zM78.50 81.44h0.95v0.95h-0.95zM76.51 64.75h0.95v0.95h-0.95zM79.14 75.58h0.95v0.95h-0.95zM78.11 72.02h0.95v0.95h-0.95zM72.18 59.87h0.95v0.95h-0.95zM81.85 84.37h0.95v0.95h-0.95zM75.48 76.40h0.95v0.95h-0.95zM71.50 87.35h0.95v0.95h-0.95zM79.01 68.53h0.95v0.95h-0.95zM74.67 83.05h0.95v0.95h-0.95zM80.57 57.65h0.95v0.95h-0.95zM74.63 78.05h0.95v0.95h-0.95zM80.65 77.07h0.95v0.95h-0.95zM78.71 50.61h0.95v0.95h-0.95zM71.19 83.93h0.95v0.95h-0.95zM72.24 84.23h0.95v0.95h-0.95zM80.02 87.92h0.95v0.95h-0.95zM77.70 99.05h0.95v0.95h-0.95zM81.09 76.57h0.95v0.95h-0.95zM74.49 70.13h0.95v0.95h-0.95zM76.91 72.81h0.95v0.95h-0.95zM78.09 65.70h0.95v0.95h-0.95zM78.31 81.96h0.95v0.95h-0.95zM78.11 93.53h0.95v0.95h-0.95zM76.97 89.59h0.95v0.95h-0.95zM71.70 84.08h0.95v0.95h-0.95zM77.13 78.51h0.95v0.95h-0.95zM74.95 71.57h0.95v0.95h-0.95zM74.73 73.05h0.95v0.95h-0.95zM73.30 54.60h0.95v0.95h-0.95zM75.19 71.03h0.95v0.95h-0.95zM76.01 65.95h0.95v0.95h-0.95zM77.46 84.37h0.95v0.95h-0.95zM81.65 71.60h0.95v0.95h-0.95zM81.64 86.29h0.95v0.95h-0.95zM77.57 88.08h0.95v0.95h-0.95zM81.18 75.23h0.95v0.95h-0.95zM76.56 70.98h0.95v0.95h-0.95zM79.17 80.30h0.95v0.95h-0.95zM80.59 73.76h0.95v0.95h-0.95zM79.81 74.74h0.95v0.95h-0.95zM80.84 87.23h0.95v0.95h-0.95zM74.32 83.86h0.95v0.95h-0.95zM74.11 63.41h0.95v0.95h-0.95zM83.10 81.28h0.95v0.95h-0.95zM77.35 64.30h0.95v0.95h-0.95zM74.18 67.98h0.95v0.95h-0.95zM79.60 73.76h0.95v0.95h-0.95zM81.75 78.65h0.95v0.95h-0.95zM79.56 66.67h0.95v0.95h-0.95zM78.69 85.83h0.95v0.95h-0.95zM76.09 81.30h0.95v0.95h-0.95zM75.06 65.63h0.95v0.95h-0.95zM86.71 70.10h0.95v0.95h-0.95zM82.65 71.67h0.95v0.95h-0.95zM78.79 78.55h0.95v0.95h-0.95zM75.62 83.96h0.95v0.95h-0.95zM79.72 85.69h0.95v0.95h-0.95zM78.05 61.37h0.95v0.95h-0.95zM79.62 82.05h0.95v0.95h-0.95zM77.70 92.37h0.95v0.95h-0.95zM80.58 81.64h0.95v0.95h-0.95zM80.70 67.52h0.95v0.95h-0.95zM71.65 62.02h0.95v0.95h-0.95zM74.35 81.75h0.95v0.95h-0.95zM71.82 75.36h0.95v0.95h-0.95zM73.74 77.22h0.95v0.95h-0.95zM72.66 79.94h0.95v0.95h-0.95zM77.07 81.01h0.95v0.95h-0.95zM77.36 77.17h0.95v0.95h-0.95zM73.16 77.83h0.95v0.95h-0.95zM75.08 50.88h0.95v0.95h-0.95zM75.04 67.17h0.95v0.95h-0.95zM71.20 80.79h0.95v0.95h-0.95zM74.69 68.89h0.95v0.95h-0.95zM77.58 65.95h0.95v0.95h-0.95zM74.59 75.12h0.95v0.95h-0.95zM79.29 66.68h0.95v0.95h-0.95zM78.85 69.93h0.95v0.95h-0.95zM71.54 81.02h0.95v0.95h-0.95zM76.45 65.69h0.95v0.95h-0.95zM80.52 79.95h0.95v0.95h-0.95zM81.84 84.55h0.95v0.95h-0.95zM76.44 72.79h0.95v0.95h-0.95zM76.85 84.28h0.95v0.95h-0.95zM73.18 87.09h0.95v0.95h-0.95zM77.59 83.06h0.95v0.95h-0.95zM78.89 56.86h0.95v0.95h-0.95zM77.91 79.64h0.95v0.95h-0.95zM74.87 65.76h0.95v0.95h-0.95zM76.22 91.64h0.95v0.95h-0.95zM71.14 41.81h0.95v0.95h-0.95zM75.88 64.53h0.95v0.95h-0.95zM74.03 72.59h0.95v0.95h-0.95zM80.25 68.11h0.95v0.95h-0.95zM82.74 62.10h0.95v0.95h-0.95zM73.27 71.08h0.95v0.95h-0.95zM71.53 44.52h0.95v0.95h-0.95zM73.53 42.02h0.95v0.95h-0.95zM83.53 43.52h0.95v0.95h-0.95zM85.53 55.52h0.95v0.95h-0.95zM87.53 65.53h0.95v0.95h-0.95zM89.53 87.53h0.95v0.95h-0.95zM81.53 103.53h0.95v0.95h-0.95zM93.03 104.53h0.95v0.95h-0.95zM79.53 99.53h0.95v0.95h-0.95zM69.53 59.52h0.95v0.95h-0.95zM68.53 51.52h0.95v0.95h-0.95z" fill="#000" fill-opacity="0.95"/>
<line x1="42.50" y1="40.00" x2="42.50" y2="110.50" stroke="#000" stroke-width="1" />
<line x1="42.00" y1="110.50" x2="110.50" y2="110.50" stroke="#000" stroke-width="1" />
<line x1="39.70" y1="43.50" x2="42.50" y2="43.50" stroke="#000" stroke-width="0.8" />
<text x="37.60" y="45.70" font-size="6.0" fill="#222" text-anchor="end" >10</text>
<line x1="39.70" y1="59.50" x2="42.50" y2="59.50" stroke="#000" stroke-width="0.8" />
<text x="37.60" y="61.70" font-size="6.0" fill="#222" text-anchor="end" >5</text>
<line x1="39.70" y1="75.50" x2="42.50" y2="75.50" stroke="#000" stroke-width="0.8" />
<text x="37.60" y="77.70" font-size="6.0" fill="#222" text-anchor="end" >0</text>
<line x1="39.70" y1="91.50" x2="42.50" y2="91.50" stroke="#000" stroke-width="0.8" />
<text x="37.60" y="93.70" font-size="6.0" fill="#222" text-anchor="end" >−5</text>
<line x1="39.70" y1="107.50" x2="42.50" y2="107.50" stroke="#000" stroke-width="0.8" />
<text x="37.60" y="109.70" font-size="6.0" fill="#222" text-anchor="end" >−10</text>
<line x1="45.50" y1="110.50" x2="45.50" y2="113.00" stroke="#000" stroke-width="0.8" />
<text x="45.50" y="121.90" font-size="6.0" fill="#222" text-anchor="middle" >−10</text>
<line x1="61.40" y1="110.50" x2="61.40" y2="113.00" stroke="#000" stroke-width="0.8" />
<text x="61.40" y="121.90" font-size="6.0" fill="#222" text-anchor="middle" >−5</text>
<line x1="77.10" y1="110.50" x2="77.10" y2="113.00" stroke="#000" stroke-width="0.8" />
<text x="77.10" y="121.90" font-size="6.0" fill="#222" text-anchor="middle" >0</text>
<line x1="92.90" y1="110.50" x2="92.90" y2="113.00" stroke="#000" stroke-width="0.8" />
<text x="92.90" y="121.90" font-size="6.0" fill="#222" text-anchor="middle" >5</text>
<line x1="108.70" y1="110.50" x2="108.70" y2="113.00" stroke="#000" stroke-width="0.8" />
<text x="108.70" y="121.90" font-size="6.0" fill="#222" text-anchor="middle" >10</text>
<text x="20.70" y="77.70" font-size="6.7" fill="#1a1a1a" text-anchor="middle" textLength="45.30" lengthAdjust="spacingAndGlyphs" transform="rotate(-90 20.70 77.70)" stroke="#1a1a1a" stroke-width="0.25">Log2 (CLL/NBC)</text>
<text x="76.80" y="133.00" font-size="6.6" fill="#1a1a1a" text-anchor="middle" textLength="60.60" lengthAdjust="spacingAndGlyphs" stroke="#1a1a1a" stroke-width="0.25">Log2 (ibrutinib/baseline)</text>
<text x="42.20" y="143.20" font-size="5.8" fill="#222" textLength="58.40" lengthAdjust="spacingAndGlyphs" >Genes associated with</text>
<text x="42.20" y="150.50" font-size="5.8" fill="#222" textLength="69.20" lengthAdjust="spacingAndGlyphs" >deceased enhancer activity</text>
<line x1="76.60" y1="188.30" x2="76.60" y2="258.80" stroke="#777" stroke-width="0.8" />
<line x1="42.50" y1="223.80" x2="110.50" y2="223.80" stroke="#777" stroke-width="0.8" />
<path d="M76.83 222.96h0.95v0.95h-0.95zM75.90 213.81h0.95v0.95h-0.95zM73.04 209.83h0.95v0.95h-0.95zM75.90 224.66h0.95v0.95h-0.95zM75.40 212.51h0.95v0.95h-0.95zM76.09 223.61h0.95v0.95h-0.95zM73.87 209.99h0.95v0.95h-0.95zM76.87 221.12h0.95v0.95h-0.95zM76.38 228.29h0.95v0.95h-0.95zM75.16 216.61h0.95v0.95h-0.95zM74.99 225.06h0.95v0.95h-0.95zM72.52 225.55h0.95v0.95h-0.95zM75.10 223.01h0.95v0.95h-0.95zM76.79 221.32h0.95v0.95h-0.95zM74.64 213.11h0.95v0.95h-0.95zM76.50 220.23h0.95v0.95h-0.95zM73.53 214.37h0.95v0.95h-0.95zM77.83 209.41h0.95v0.95h-0.95zM75.09 218.06h0.95v0.95h-0.95zM75.86 211.55h0.95v0.95h-0.95zM77.19 216.35h0.95v0.95h-0.95zM76.11 223.28h0.95v0.95h-0.95zM74.44 222.66h0.95v0.95h-0.95zM74.51 217.40h0.95v0.95h-0.95zM74.72 212.68h0.95v0.95h-0.95zM77.44 218.30h0.95v0.95h-0.95zM72.40 202.26h0.95v0.95h-0.95zM74.28 214.43h0.95v0.95h-0.95zM76.36 221.13h0.95v0.95h-0.95zM74.88 219.17h0.95v0.95h-0.95zM76.35 221.50h0.95v0.95h-0.95zM73.96 209.81h0.95v0.95h-0.95zM72.98 212.15h0.95v0.95h-0.95zM75.70 219.76h0.95v0.95h-0.95zM74.37 219.59h0.95v0.95h-0.95zM74.12 218.02h0.95v0.95h-0.95zM76.74 220.93h0.95v0.95h-0.95zM78.44 227.80h0.95v0.95h-0.95zM74.36 215.00h0.95v0.95h-0.95zM75.34 214.33h0.95v0.95h-0.95zM77.80 228.93h0.95v0.95h-0.95zM72.33 208.03h0.95v0.95h-0.95zM75.41 212.56h0.95v0.95h-0.95zM75.95 219.03h0.95v0.95h-0.95zM75.53 227.93h0.95v0.95h-0.95zM77.73 214.79h0.95v0.95h-0.95zM74.66 220.74h0.95v0.95h-0.95zM72.07 208.88h0.95v0.95h-0.95zM74.03 206.80h0.95v0.95h-0.95zM76.94 219.25h0.95v0.95h-0.95zM74.46 218.33h0.95v0.95h-0.95zM77.70 215.32h0.95v0.95h-0.95zM74.62 210.20h0.95v0.95h-0.95zM76.41 219.15h0.95v0.95h-0.95zM75.96 217.00h0.95v0.95h-0.95zM75.85 223.10h0.95v0.95h-0.95zM74.97 216.74h0.95v0.95h-0.95zM74.61 214.20h0.95v0.95h-0.95zM75.62 217.52h0.95v0.95h-0.95zM78.22 225.71h0.95v0.95h-0.95zM76.08 216.80h0.95v0.95h-0.95zM76.78 220.50h0.95v0.95h-0.95zM75.91 219.13h0.95v0.95h-0.95zM74.12 216.68h0.95v0.95h-0.95zM77.91 223.39h0.95v0.95h-0.95zM76.57 222.34h0.95v0.95h-0.95zM75.07 220.36h0.95v0.95h-0.95zM75.29 210.11h0.95v0.95h-0.95zM74.88 220.02h0.95v0.95h-0.95zM76.69 214.20h0.95v0.95h-0.95zM76.82 210.00h0.95v0.95h-0.95zM79.26 222.22h0.95v0.95h-0.95zM75.03 215.44h0.95v0.95h-0.95zM75.41 216.49h0.95v0.95h-0.95zM74.34 217.98h0.95v0.95h-0.95zM75.12 224.40h0.95v0.95h-0.95zM75.97 216.49h0.95v0.95h-0.95zM74.57 216.34h0.95v0.95h-0.95zM75.24 220.80h0.95v0.95h-0.95zM74.57 212.79h0.95v0.95h-0.95zM77.77 217.93h0.95v0.95h-0.95zM76.17 213.54h0.95v0.95h-0.95zM74.52 215.10h0.95v0.95h-0.95zM75.69 217.39h0.95v0.95h-0.95zM78.54 223.34h0.95v0.95h-0.95zM76.97 215.84h0.95v0.95h-0.95zM77.31 224.00h0.95v0.95h-0.95zM76.29 215.23h0.95v0.95h-0.95zM75.95 218.49h0.95v0.95h-0.95zM76.28 217.68h0.95v0.95h-0.95zM77.83 224.60h0.95v0.95h-0.95zM76.79 218.00h0.95v0.95h-0.95zM75.16 226.29h0.95v0.95h-0.95zM74.61 226.39h0.95v0.95h-0.95zM76.71 221.74h0.95v0.95h-0.95zM76.88 226.44h0.95v0.95h-0.95zM74.10 216.62h0.95v0.95h-0.95zM75.78 212.77h0.95v0.95h-0.95zM74.37 217.84h0.95v0.95h-0.95zM74.80 221.68h0.95v0.95h-0.95zM74.60 216.84h0.95v0.95h-0.95zM78.65 227.30h0.95v0.95h-0.95zM73.22 218.24h0.95v0.95h-0.95zM75.81 220.41h0.95v0.95h-0.95zM76.54 220.77h0.95v0.95h-0.95zM76.61 217.42h0.95v0.95h-0.95zM76.36 223.21h0.95v0.95h-0.95zM74.59 216.99h0.95v0.95h-0.95zM74.44 222.49h0.95v0.95h-0.95zM74.37 218.23h0.95v0.95h-0.95zM75.46 212.06h0.95v0.95h-0.95zM75.56 218.90h0.95v0.95h-0.95zM74.00 223.40h0.95v0.95h-0.95zM75.89 218.69h0.95v0.95h-0.95zM74.55 223.19h0.95v0.95h-0.95zM76.30 222.60h0.95v0.95h-0.95zM78.00 225.80h0.95v0.95h-0.95zM78.89 221.77h0.95v0.95h-0.95zM74.93 219.02h0.95v0.95h-0.95zM73.99 217.32h0.95v0.95h-0.95zM72.88 218.88h0.95v0.95h-0.95zM76.07 218.60h0.95v0.95h-0.95zM75.68 223.98h0.95v0.95h-0.95zM75.52 225.97h0.95v0.95h-0.95zM72.81 218.35h0.95v0.95h-0.95zM73.92 215.22h0.95v0.95h-0.95zM77.20 226.32h0.95v0.95h-0.95zM75.55 213.63h0.95v0.95h-0.95zM75.51 221.38h0.95v0.95h-0.95zM75.12 219.14h0.95v0.95h-0.95zM72.76 216.38h0.95v0.95h-0.95zM77.22 218.58h0.95v0.95h-0.95zM76.05 226.02h0.95v0.95h-0.95zM74.76 215.38h0.95v0.95h-0.95zM76.57 223.41h0.95v0.95h-0.95zM75.65 216.18h0.95v0.95h-0.95zM76.10 218.02h0.95v0.95h-0.95zM73.26 217.04h0.95v0.95h-0.95zM76.60 219.31h0.95v0.95h-0.95zM74.68 213.62h0.95v0.95h-0.95zM75.57 223.31h0.95v0.95h-0.95zM77.88 215.85h0.95v0.95h-0.95zM77.45 223.07h0.95v0.95h-0.95zM77.15 214.42h0.95v0.95h-0.95zM73.77 210.96h0.95v0.95h-0.95zM77.81 222.63h0.95v0.95h-0.95zM74.03 214.50h0.95v0.95h-0.95zM73.02 219.98h0.95v0.95h-0.95zM76.69 222.13h0.95v0.95h-0.95zM75.97 216.85h0.95v0.95h-0.95zM76.44 222.80h0.95v0.95h-0.95zM77.91 221.56h0.95v0.95h-0.95zM75.44 216.71h0.95v0.95h-0.95zM76.60 216.49h0.95v0.95h-0.95zM75.91 217.05h0.95v0.95h-0.95zM75.70 219.69h0.95v0.95h-0.95zM76.49 227.35h0.95v0.95h-0.95zM77.54 225.89h0.95v0.95h-0.95zM76.13 225.41h0.95v0.95h-0.95zM77.13 223.52h0.95v0.95h-0.95zM75.50 216.05h0.95v0.95h-0.95zM75.40 218.40h0.95v0.95h-0.95zM75.37 225.32h0.95v0.95h-0.95zM72.11 210.90h0.95v0.95h-0.95zM74.37 216.84h0.95v0.95h-0.95zM76.30 219.09h0.95v0.95h-0.95zM77.05 227.52h0.95v0.95h-0.95zM74.82 221.26h0.95v0.95h-0.95zM77.72 221.83h0.95v0.95h-0.95zM73.73 225.49h0.95v0.95h-0.95zM78.22 223.32h0.95v0.95h-0.95zM74.03 223.01h0.95v0.95h-0.95zM76.13 217.55h0.95v0.95h-0.95zM74.69 221.03h0.95v0.95h-0.95zM76.27 214.74h0.95v0.95h-0.95zM76.62 212.60h0.95v0.95h-0.95zM75.94 219.12h0.95v0.95h-0.95zM73.89 212.60h0.95v0.95h-0.95zM73.97 222.34h0.95v0.95h-0.95zM74.93 228.99h0.95v0.95h-0.95zM74.82 213.15h0.95v0.95h-0.95zM76.81 221.34h0.95v0.95h-0.95zM75.01 217.24h0.95v0.95h-0.95zM74.60 217.89h0.95v0.95h-0.95zM75.21 206.63h0.95v0.95h-0.95zM75.90 220.23h0.95v0.95h-0.95zM75.47 216.00h0.95v0.95h-0.95zM75.41 218.96h0.95v0.95h-0.95zM73.90 224.34h0.95v0.95h-0.95zM74.25 220.24h0.95v0.95h-0.95zM77.34 217.50h0.95v0.95h-0.95zM74.71 213.82h0.95v0.95h-0.95zM76.43 216.18h0.95v0.95h-0.95zM72.65 214.32h0.95v0.95h-0.95zM75.37 221.49h0.95v0.95h-0.95zM76.78 217.49h0.95v0.95h-0.95zM74.47 214.76h0.95v0.95h-0.95zM76.17 219.73h0.95v0.95h-0.95zM76.59 216.54h0.95v0.95h-0.95zM76.37 229.79h0.95v0.95h-0.95zM73.86 228.00h0.95v0.95h-0.95zM75.94 225.78h0.95v0.95h-0.95zM75.15 219.68h0.95v0.95h-0.95zM73.41 215.97h0.95v0.95h-0.95zM77.02 217.13h0.95v0.95h-0.95zM75.77 224.50h0.95v0.95h-0.95zM74.25 216.49h0.95v0.95h-0.95zM77.20 213.26h0.95v0.95h-0.95zM76.10 222.21h0.95v0.95h-0.95zM73.84 216.67h0.95v0.95h-0.95zM77.40 225.35h0.95v0.95h-0.95zM76.26 214.45h0.95v0.95h-0.95zM75.70 213.71h0.95v0.95h-0.95zM74.37 214.41h0.95v0.95h-0.95zM76.41 221.40h0.95v0.95h-0.95zM75.03 223.88h0.95v0.95h-0.95zM78.32 226.60h0.95v0.95h-0.95zM76.14 218.98h0.95v0.95h-0.95zM74.83 215.29h0.95v0.95h-0.95zM74.82 212.69h0.95v0.95h-0.95zM77.46 219.98h0.95v0.95h-0.95zM77.21 223.57h0.95v0.95h-0.95zM75.00 217.29h0.95v0.95h-0.95zM75.61 217.39h0.95v0.95h-0.95zM75.36 209.76h0.95v0.95h-0.95zM73.85 211.50h0.95v0.95h-0.95zM74.85 219.13h0.95v0.95h-0.95zM76.43 227.01h0.95v0.95h-0.95zM78.08 226.57h0.95v0.95h-0.95zM75.75 216.64h0.95v0.95h-0.95zM75.89 225.26h0.95v0.95h-0.95zM74.83 219.45h0.95v0.95h-0.95zM75.09 219.31h0.95v0.95h-0.95zM76.92 219.42h0.95v0.95h-0.95zM76.57 225.71h0.95v0.95h-0.95zM76.80 219.99h0.95v0.95h-0.95zM73.92 217.63h0.95v0.95h-0.95zM74.96 224.35h0.95v0.95h-0.95zM74.81 223.49h0.95v0.95h-0.95zM75.26 227.81h0.95v0.95h-0.95zM78.07 223.10h0.95v0.95h-0.95zM76.92 214.41h0.95v0.95h-0.95zM72.64 215.07h0.95v0.95h-0.95zM76.92 222.49h0.95v0.95h-0.95zM72.00 218.05h0.95v0.95h-0.95zM75.08 218.76h0.95v0.95h-0.95zM74.90 217.20h0.95v0.95h-0.95zM73.65 210.43h0.95v0.95h-0.95zM78.73 227.66h0.95v0.95h-0.95zM74.34 217.29h0.95v0.95h-0.95zM77.20 220.93h0.95v0.95h-0.95zM74.40 222.50h0.95v0.95h-0.95zM75.81 219.80h0.95v0.95h-0.95zM78.03 225.93h0.95v0.95h-0.95zM77.49 221.54h0.95v0.95h-0.95zM77.35 217.13h0.95v0.95h-0.95zM75.79 216.98h0.95v0.95h-0.95zM74.87 223.43h0.95v0.95h-0.95zM72.72 215.65h0.95v0.95h-0.95zM75.55 219.82h0.95v0.95h-0.95zM75.99 217.46h0.95v0.95h-0.95zM74.17 208.87h0.95v0.95h-0.95zM75.22 219.44h0.95v0.95h-0.95zM78.38 222.84h0.95v0.95h-0.95zM73.98 216.89h0.95v0.95h-0.95zM75.27 216.12h0.95v0.95h-0.95zM74.73 221.84h0.95v0.95h-0.95zM74.77 223.82h0.95v0.95h-0.95zM76.62 223.00h0.95v0.95h-0.95zM78.71 221.25h0.95v0.95h-0.95zM75.14 217.76h0.95v0.95h-0.95zM76.98 221.31h0.95v0.95h-0.95zM75.06 212.60h0.95v0.95h-0.95zM75.91 215.47h0.95v0.95h-0.95zM76.45 225.60h0.95v0.95h-0.95zM75.70 218.51h0.95v0.95h-0.95zM74.72 204.84h0.95v0.95h-0.95zM76.10 221.72h0.95v0.95h-0.95zM74.30 217.12h0.95v0.95h-0.95zM77.04 218.16h0.95v0.95h-0.95zM77.27 218.53h0.95v0.95h-0.95zM73.30 206.68h0.95v0.95h-0.95zM75.68 220.34h0.95v0.95h-0.95zM73.60 211.06h0.95v0.95h-0.95zM74.57 225.02h0.95v0.95h-0.95zM73.43 214.27h0.95v0.95h-0.95zM76.04 216.38h0.95v0.95h-0.95zM73.17 221.88h0.95v0.95h-0.95zM75.64 226.03h0.95v0.95h-0.95zM77.40 216.20h0.95v0.95h-0.95zM73.81 218.63h0.95v0.95h-0.95zM74.15 215.96h0.95v0.95h-0.95zM74.45 214.18h0.95v0.95h-0.95zM76.54 223.24h0.95v0.95h-0.95zM78.41 212.40h0.95v0.95h-0.95zM75.06 214.27h0.95v0.95h-0.95zM76.57 219.18h0.95v0.95h-0.95zM75.93 217.45h0.95v0.95h-0.95zM76.97 229.13h0.95v0.95h-0.95zM75.29 213.83h0.95v0.95h-0.95zM74.53 215.17h0.95v0.95h-0.95zM76.10 219.93h0.95v0.95h-0.95zM76.49 217.66h0.95v0.95h-0.95zM73.65 218.10h0.95v0.95h-0.95zM75.58 223.24h0.95v0.95h-0.95zM75.40 224.85h0.95v0.95h-0.95zM76.31 221.77h0.95v0.95h-0.95zM71.84 206.08h0.95v0.95h-0.95zM76.72 213.65h0.95v0.95h-0.95zM75.57 209.96h0.95v0.95h-0.95zM76.87 224.27h0.95v0.95h-0.95zM75.28 222.26h0.95v0.95h-0.95zM75.82 218.97h0.95v0.95h-0.95zM76.74 221.04h0.95v0.95h-0.95zM74.45 218.03h0.95v0.95h-0.95zM75.73 216.33h0.95v0.95h-0.95zM72.80 211.05h0.95v0.95h-0.95zM74.52 217.05h0.95v0.95h-0.95zM71.78 217.73h0.95v0.95h-0.95zM74.97 217.39h0.95v0.95h-0.95zM73.35 222.75h0.95v0.95h-0.95zM75.97 217.56h0.95v0.95h-0.95zM77.44 221.37h0.95v0.95h-0.95zM74.77 224.09h0.95v0.95h-0.95zM75.47 222.08h0.95v0.95h-0.95zM77.09 215.17h0.95v0.95h-0.95zM73.98 216.00h0.95v0.95h-0.95zM74.12 217.07h0.95v0.95h-0.95zM76.67 223.86h0.95v0.95h-0.95zM76.95 225.76h0.95v0.95h-0.95zM76.55 216.07h0.95v0.95h-0.95zM74.49 215.88h0.95v0.95h-0.95zM75.47 218.22h0.95v0.95h-0.95zM75.46 224.77h0.95v0.95h-0.95zM75.71 220.72h0.95v0.95h-0.95zM73.26 212.97h0.95v0.95h-0.95zM75.93 217.97h0.95v0.95h-0.95zM76.37 220.57h0.95v0.95h-0.95zM74.95 219.26h0.95v0.95h-0.95zM74.44 221.08h0.95v0.95h-0.95zM74.24 212.56h0.95v0.95h-0.95zM73.94 212.14h0.95v0.95h-0.95zM74.31 215.43h0.95v0.95h-0.95zM74.42 218.81h0.95v0.95h-0.95zM72.95 216.99h0.95v0.95h-0.95zM74.43 219.72h0.95v0.95h-0.95zM71.96 220.97h0.95v0.95h-0.95zM75.35 215.16h0.95v0.95h-0.95zM73.51 207.26h0.95v0.95h-0.95zM75.72 219.48h0.95v0.95h-0.95zM74.90 211.81h0.95v0.95h-0.95zM74.31 219.74h0.95v0.95h-0.95zM75.93 222.62h0.95v0.95h-0.95zM74.93 219.11h0.95v0.95h-0.95zM76.00 221.67h0.95v0.95h-0.95zM76.85 224.51h0.95v0.95h-0.95zM74.84 216.05h0.95v0.95h-0.95zM75.61 223.46h0.95v0.95h-0.95zM76.47 220.87h0.95v0.95h-0.95zM72.26 218.16h0.95v0.95h-0.95zM75.90 219.66h0.95v0.95h-0.95zM74.58 219.68h0.95v0.95h-0.95zM76.10 224.87h0.95v0.95h-0.95zM74.16 216.01h0.95v0.95h-0.95zM74.27 220.76h0.95v0.95h-0.95zM77.60 214.19h0.95v0.95h-0.95zM77.78 225.36h0.95v0.95h-0.95zM77.19 225.63h0.95v0.95h-0.95zM76.08 210.88h0.95v0.95h-0.95zM76.97 225.02h0.95v0.95h-0.95zM75.98 209.56h0.95v0.95h-0.95zM75.72 225.63h0.95v0.95h-0.95zM76.66 219.64h0.95v0.95h-0.95zM76.96 218.61h0.95v0.95h-0.95zM76.51 219.42h0.95v0.95h-0.95zM73.57 219.44h0.95v0.95h-0.95zM79.19 214.21h0.95v0.95h-0.95zM77.48 220.38h0.95v0.95h-0.95zM78.57 224.54h0.95v0.95h-0.95zM75.07 221.71h0.95v0.95h-0.95zM72.93 219.11h0.95v0.95h-0.95zM76.64 218.11h0.95v0.95h-0.95zM74.43 208.54h0.95v0.95h-0.95zM77.85 223.02h0.95v0.95h-0.95zM74.06 214.53h0.95v0.95h-0.95zM72.96 209.93h0.95v0.95h-0.95zM78.67 221.62h0.95v0.95h-0.95zM76.68 213.47h0.95v0.95h-0.95zM75.12 221.10h0.95v0.95h-0.95zM73.48 229.67h0.95v0.95h-0.95zM75.78 218.70h0.95v0.95h-0.95zM79.31 229.37h0.95v0.95h-0.95zM77.14 230.02h0.95v0.95h-0.95zM78.00 223.79h0.95v0.95h-0.95zM76.34 221.51h0.95v0.95h-0.95zM74.85 218.13h0.95v0.95h-0.95zM77.40 213.05h0.95v0.95h-0.95zM72.41 216.86h0.95v0.95h-0.95zM75.65 220.31h0.95v0.95h-0.95zM78.11 219.88h0.95v0.95h-0.95zM75.10 218.51h0.95v0.95h-0.95zM75.02 215.40h0.95v0.95h-0.95zM75.53 216.89h0.95v0.95h-0.95zM78.03 234.21h0.95v0.95h-0.95zM77.61 214.86h0.95v0.95h-0.95zM77.18 223.23h0.95v0.95h-0.95zM77.09 222.50h0.95v0.95h-0.95zM77.87 222.31h0.95v0.95h-0.95zM78.00 223.92h0.95v0.95h-0.95zM75.20 216.58h0.95v0.95h-0.95zM76.37 215.48h0.95v0.95h-0.95zM75.42 223.07h0.95v0.95h-0.95zM79.47 221.87h0.95v0.95h-0.95zM74.79 225.04h0.95v0.95h-0.95zM76.33 218.58h0.95v0.95h-0.95zM76.03 218.85h0.95v0.95h-0.95zM76.72 224.77h0.95v0.95h-0.95zM75.80 213.68h0.95v0.95h-0.95zM75.62 218.55h0.95v0.95h-0.95zM73.28 216.27h0.95v0.95h-0.95zM74.25 212.96h0.95v0.95h-0.95zM71.15 213.82h0.95v0.95h-0.95zM74.67 224.62h0.95v0.95h-0.95zM75.79 215.50h0.95v0.95h-0.95zM75.83 207.29h0.95v0.95h-0.95zM75.94 215.28h0.95v0.95h-0.95zM75.64 216.68h0.95v0.95h-0.95zM75.59 219.54h0.95v0.95h-0.95zM72.36 210.13h0.95v0.95h-0.95zM77.42 218.82h0.95v0.95h-0.95zM75.91 216.37h0.95v0.95h-0.95zM76.29 219.82h0.95v0.95h-0.95zM74.11 223.86h0.95v0.95h-0.95zM75.46 220.36h0.95v0.95h-0.95zM74.16 217.50h0.95v0.95h-0.95zM73.62 215.20h0.95v0.95h-0.95zM78.25 213.68h0.95v0.95h-0.95zM76.61 227.31h0.95v0.95h-0.95zM74.66 222.64h0.95v0.95h-0.95zM71.28 205.47h0.95v0.95h-0.95zM77.58 219.71h0.95v0.95h-0.95zM74.13 218.82h0.95v0.95h-0.95zM74.01 217.85h0.95v0.95h-0.95zM74.32 212.23h0.95v0.95h-0.95zM74.16 217.08h0.95v0.95h-0.95zM73.70 214.71h0.95v0.95h-0.95zM77.58 220.18h0.95v0.95h-0.95zM78.44 218.00h0.95v0.95h-0.95zM74.87 211.14h0.95v0.95h-0.95zM74.57 213.39h0.95v0.95h-0.95zM76.35 219.52h0.95v0.95h-0.95zM75.48 224.53h0.95v0.95h-0.95zM74.48 212.97h0.95v0.95h-0.95zM74.76 220.46h0.95v0.95h-0.95zM78.39 223.38h0.95v0.95h-0.95zM75.12 212.09h0.95v0.95h-0.95zM73.55 223.98h0.95v0.95h-0.95zM75.35 220.03h0.95v0.95h-0.95zM76.42 212.09h0.95v0.95h-0.95zM75.01 220.08h0.95v0.95h-0.95zM76.68 221.19h0.95v0.95h-0.95zM76.80 222.77h0.95v0.95h-0.95zM74.18 221.02h0.95v0.95h-0.95zM75.43 216.97h0.95v0.95h-0.95zM76.68 205.54h0.95v0.95h-0.95zM73.85 217.18h0.95v0.95h-0.95zM74.71 210.16h0.95v0.95h-0.95zM74.75 219.18h0.95v0.95h-0.95zM74.05 216.99h0.95v0.95h-0.95zM74.92 215.37h0.95v0.95h-0.95zM76.04 215.89h0.95v0.95h-0.95zM75.61 218.33h0.95v0.95h-0.95zM77.52 221.00h0.95v0.95h-0.95zM76.22 221.96h0.95v0.95h-0.95zM74.32 218.23h0.95v0.95h-0.95zM76.24 217.36h0.95v0.95h-0.95zM75.14 220.13h0.95v0.95h-0.95zM72.59 212.53h0.95v0.95h-0.95zM77.13 220.59h0.95v0.95h-0.95zM73.89 220.85h0.95v0.95h-0.95zM75.90 218.66h0.95v0.95h-0.95zM75.60 212.47h0.95v0.95h-0.95zM73.23 218.77h0.95v0.95h-0.95zM76.49 209.63h0.95v0.95h-0.95zM73.59 223.65h0.95v0.95h-0.95zM76.89 211.63h0.95v0.95h-0.95zM75.28 225.75h0.95v0.95h-0.95zM76.19 234.49h0.95v0.95h-0.95zM77.36 211.26h0.95v0.95h-0.95zM76.23 218.87h0.95v0.95h-0.95zM73.02 220.86h0.95v0.95h-0.95zM73.99 210.12h0.95v0.95h-0.95zM74.22 232.85h0.95v0.95h-0.95zM77.27 232.43h0.95v0.95h-0.95zM75.23 210.78h0.95v0.95h-0.95zM73.75 225.50h0.95v0.95h-0.95zM74.56 201.86h0.95v0.95h-0.95zM75.67 210.80h0.95v0.95h-0.95zM73.49 203.78h0.95v0.95h-0.95zM71.07 213.43h0.95v0.95h-0.95zM75.75 218.41h0.95v0.95h-0.95zM72.05 215.65h0.95v0.95h-0.95zM71.29 222.38h0.95v0.95h-0.95zM77.23 225.21h0.95v0.95h-0.95zM79.23 235.21h0.95v0.95h-0.95zM76.50 223.63h0.95v0.95h-0.95zM72.20 220.77h0.95v0.95h-0.95zM78.14 233.33h0.95v0.95h-0.95zM72.38 218.02h0.95v0.95h-0.95zM78.17 233.51h0.95v0.95h-0.95zM76.19 210.16h0.95v0.95h-0.95zM77.13 237.11h0.95v0.95h-0.95zM74.82 224.02h0.95v0.95h-0.95zM77.69 215.03h0.95v0.95h-0.95zM78.51 247.45h0.95v0.95h-0.95zM77.42 219.44h0.95v0.95h-0.95zM77.10 217.86h0.95v0.95h-0.95zM73.68 227.77h0.95v0.95h-0.95zM74.40 211.15h0.95v0.95h-0.95zM76.95 227.80h0.95v0.95h-0.95zM73.13 231.37h0.95v0.95h-0.95zM74.38 224.83h0.95v0.95h-0.95zM76.42 221.40h0.95v0.95h-0.95zM74.10 212.05h0.95v0.95h-0.95zM75.18 210.36h0.95v0.95h-0.95zM73.54 213.10h0.95v0.95h-0.95zM74.07 222.44h0.95v0.95h-0.95zM74.92 230.56h0.95v0.95h-0.95zM76.98 227.94h0.95v0.95h-0.95zM74.07 211.49h0.95v0.95h-0.95zM73.88 213.22h0.95v0.95h-0.95zM79.87 218.16h0.95v0.95h-0.95zM79.11 216.87h0.95v0.95h-0.95zM72.62 224.43h0.95v0.95h-0.95zM75.22 200.34h0.95v0.95h-0.95zM75.60 203.16h0.95v0.95h-0.95zM77.41 229.50h0.95v0.95h-0.95zM74.71 218.70h0.95v0.95h-0.95zM74.99 222.79h0.95v0.95h-0.95zM74.13 215.86h0.95v0.95h-0.95zM74.98 230.73h0.95v0.95h-0.95zM72.96 223.84h0.95v0.95h-0.95zM71.44 214.31h0.95v0.95h-0.95zM77.07 218.80h0.95v0.95h-0.95zM74.55 223.19h0.95v0.95h-0.95zM75.18 225.85h0.95v0.95h-0.95zM76.54 223.77h0.95v0.95h-0.95zM69.76 225.24h0.95v0.95h-0.95zM76.34 209.18h0.95v0.95h-0.95zM81.08 219.59h0.95v0.95h-0.95zM70.03 192.03h0.95v0.95h-0.95zM71.03 193.53h0.95v0.95h-0.95zM73.53 202.53h0.95v0.95h-0.95zM79.53 242.53h0.95v0.95h-0.95zM78.53 245.53h0.95v0.95h-0.95zM80.53 237.53h0.95v0.95h-0.95zM81.53 235.53h0.95v0.95h-0.95z" fill="#000" fill-opacity="0.95"/>
<line x1="42.50" y1="188.30" x2="42.50" y2="258.80" stroke="#000" stroke-width="1" />
<line x1="42.00" y1="258.80" x2="110.50" y2="258.80" stroke="#000" stroke-width="1" />
<line x1="39.70" y1="191.80" x2="42.50" y2="191.80" stroke="#000" stroke-width="0.8" />
<text x="37.60" y="194.00" font-size="6.0" fill="#222" text-anchor="end" >10</text>
<line x1="39.70" y1="207.80" x2="42.50" y2="207.80" stroke="#000" stroke-width="0.8" />
<text x="37.60" y="210.00" font-size="6.0" fill="#222" text-anchor="end" >5</text>
<line x1="39.70" y1="223.80" x2="42.50" y2="223.80" stroke="#000" stroke-width="0.8" />
<text x="37.60" y="226.00" font-size="6.0" fill="#222" text-anchor="end" >0</text>
<line x1="39.70" y1="239.80" x2="42.50" y2="239.80" stroke="#000" stroke-width="0.8" />
<text x="37.60" y="242.00" font-size="6.0" fill="#222" text-anchor="end" >−5</text>
<line x1="39.70" y1="255.80" x2="42.50" y2="255.80" stroke="#000" stroke-width="0.8" />
<text x="37.60" y="258.00" font-size="6.0" fill="#222" text-anchor="end" >−10</text>
<line x1="45.50" y1="258.80" x2="45.50" y2="261.30" stroke="#000" stroke-width="0.8" />
<text x="45.50" y="270.20" font-size="6.0" fill="#222" text-anchor="middle" >−10</text>
<line x1="61.40" y1="258.80" x2="61.40" y2="261.30" stroke="#000" stroke-width="0.8" />
<text x="61.40" y="270.20" font-size="6.0" fill="#222" text-anchor="middle" >−5</text>
<line x1="77.10" y1="258.80" x2="77.10" y2="261.30" stroke="#000" stroke-width="0.8" />
<text x="77.10" y="270.20" font-size="6.0" fill="#222" text-anchor="middle" >0</text>
<line x1="92.90" y1="258.80" x2="92.90" y2="261.30" stroke="#000" stroke-width="0.8" />
<text x="92.90" y="270.20" font-size="6.0" fill="#222" text-anchor="middle" >5</text>
<line x1="108.70" y1="258.80" x2="108.70" y2="261.30" stroke="#000" stroke-width="0.8" />
<text x="108.70" y="270.20" font-size="6.0" fill="#222" text-anchor="middle" >10</text>
<text x="20.70" y="226.00" font-size="6.7" fill="#1a1a1a" text-anchor="middle" textLength="45.30" lengthAdjust="spacingAndGlyphs" transform="rotate(-90 20.70 226.00)" stroke="#1a1a1a" stroke-width="0.25">Log2 (CLL/NBC)</text>
<text x="76.80" y="281.30" font-size="6.6" fill="#1a1a1a" text-anchor="middle" textLength="60.60" lengthAdjust="spacingAndGlyphs" stroke="#1a1a1a" stroke-width="0.25">Log2 (ibrutinib/baseline)</text>
<text x="42.20" y="291.50" font-size="5.8" fill="#222" textLength="58.40" lengthAdjust="spacingAndGlyphs" >Genes associated with</text>
<text x="42.20" y="298.80" font-size="5.8" fill="#222" textLength="69.00" lengthAdjust="spacingAndGlyphs" >increased enhancer activity</text>
<path d="M156.85 47.00 L156.85 48.40 L156.85 49.80 L156.85 51.20 L156.85 52.60 L156.85 54.00 L156.85 55.40 L156.85 56.80 L156.83 58.20 L156.80 59.60 L156.70 61.00 L156.53 62.40 L156.27 63.80 L155.95 65.20 L155.63 66.60 L155.35 68.00 L155.13 69.40 L154.99 70.80 L154.90 72.20 L154.87 73.60 L154.85 75.00 L154.85 76.40 L154.85 77.80 L154.85 79.20 L154.86 80.60 L154.88 82.00 L154.93 83.40 L155.04 84.80 L155.21 86.20 L155.46 87.60 L155.77 89.00 L156.09 90.40 L156.39 91.80 L156.61 93.20 L156.75 94.60 L156.82 96.00 L156.84 97.40 L156.85 98.80 L156.85 100.20 L156.85 101.60 L156.85 103.00 L157.75 103.00 L157.75 101.60 L157.75 100.20 L157.75 98.80 L157.76 97.40 L157.78 96.00 L157.85 94.60 L157.99 93.20 L158.21 91.80 L158.51 90.40 L158.83 89.00 L159.14 87.60 L159.39 86.20 L159.56 84.80 L159.67 83.40 L159.72 82.00 L159.74 80.60 L159.75 79.20 L159.75 77.80 L159.75 76.40 L159.75 75.00 L159.73 73.60 L159.70 72.20 L159.61 70.80 L159.47 69.40 L159.25 68.00 L158.97 66.60 L158.65 65.20 L158.33 63.80 L158.07 62.40 L157.90 61.00 L157.80 59.60 L157.77 58.20 L157.75 56.80 L157.75 55.40 L157.75 54.00 L157.75 52.60 L157.75 51.20 L157.75 49.80 L157.75 48.40 L157.75 47.00Z" fill="none" stroke="#3c9a58" stroke-width="0.6"/>
<path d="M154.63 75.28h0.9v0.9h-0.9zM156.38 56.26h0.9v0.9h-0.9zM158.10 75.22h0.9v0.9h-0.9zM159.19 76.14h0.9v0.9h-0.9zM154.68 69.89h0.9v0.9h-0.9zM154.91 70.68h0.9v0.9h-0.9zM156.21 60.64h0.9v0.9h-0.9zM155.52 74.97h0.9v0.9h-0.9zM156.42 84.53h0.9v0.9h-0.9zM158.89 78.21h0.9v0.9h-0.9zM158.03 87.70h0.9v0.9h-0.9zM156.33 91.94h0.9v0.9h-0.9zM158.49 71.45h0.9v0.9h-0.9zM155.72 72.63h0.9v0.9h-0.9zM158.96 69.82h0.9v0.9h-0.9zM156.92 82.91h0.9v0.9h-0.9zM155.94 63.08h0.9v0.9h-0.9zM154.85 85.23h0.9v0.9h-0.9zM157.23 76.25h0.9v0.9h-0.9zM155.90 72.93h0.9v0.9h-0.9zM158.14 75.28h0.9v0.9h-0.9zM158.70 68.11h0.9v0.9h-0.9zM156.38 89.01h0.9v0.9h-0.9zM157.24 76.85h0.9v0.9h-0.9zM157.75 85.31h0.9v0.9h-0.9zM155.98 74.18h0.9v0.9h-0.9zM155.40 79.83h0.9v0.9h-0.9zM158.69 76.26h0.9v0.9h-0.9zM156.93 81.42h0.9v0.9h-0.9zM158.67 79.08h0.9v0.9h-0.9zM156.72 84.73h0.9v0.9h-0.9zM156.78 58.83h0.9v0.9h-0.9zM157.45 83.27h0.9v0.9h-0.9zM155.08 67.81h0.9v0.9h-0.9zM158.29 78.09h0.9v0.9h-0.9zM155.68 72.33h0.9v0.9h-0.9zM156.86 63.46h0.9v0.9h-0.9zM155.39 78.09h0.9v0.9h-0.9zM154.72 77.16h0.9v0.9h-0.9zM158.60 75.15h0.9v0.9h-0.9zM157.47 90.05h0.9v0.9h-0.9zM157.38 85.97h0.9v0.9h-0.9zM157.89 83.08h0.9v0.9h-0.9zM157.63 74.56h0.9v0.9h-0.9zM157.80 74.43h0.9v0.9h-0.9zM155.14 77.36h0.9v0.9h-0.9zM155.25 68.87h0.9v0.9h-0.9zM156.71 82.00h0.9v0.9h-0.9zM156.16 79.20h0.9v0.9h-0.9zM155.43 81.81h0.9v0.9h-0.9zM154.53 71.68h0.9v0.9h-0.9zM157.34 74.22h0.9v0.9h-0.9zM156.84 58.11h0.9v0.9h-0.9zM158.49 78.13h0.9v0.9h-0.9zM157.28 77.51h0.9v0.9h-0.9zM158.63 83.29h0.9v0.9h-0.9zM157.80 72.59h0.9v0.9h-0.9zM155.77 66.03h0.9v0.9h-0.9zM156.66 59.16h0.9v0.9h-0.9zM157.22 67.51h0.9v0.9h-0.9z" fill="#3c9a58" fill-opacity="0.9"/>
<path d="M157.82 72.89h0.9v0.9h-0.9zM156.45 91.38h0.9v0.9h-0.9zM155.52 80.90h0.9v0.9h-0.9zM157.14 71.10h0.9v0.9h-0.9zM155.13 73.68h0.9v0.9h-0.9zM158.50 82.93h0.9v0.9h-0.9zM155.12 73.42h0.9v0.9h-0.9zM156.34 83.71h0.9v0.9h-0.9zM155.62 68.91h0.9v0.9h-0.9zM157.06 84.69h0.9v0.9h-0.9zM157.91 84.30h0.9v0.9h-0.9zM156.50 81.89h0.9v0.9h-0.9zM158.49 75.39h0.9v0.9h-0.9zM154.97 73.58h0.9v0.9h-0.9zM157.29 100.09h0.9v0.9h-0.9zM156.93 65.00h0.9v0.9h-0.9zM156.83 84.03h0.9v0.9h-0.9zM156.77 80.17h0.9v0.9h-0.9zM158.67 75.58h0.9v0.9h-0.9zM155.01 69.10h0.9v0.9h-0.9zM155.10 71.44h0.9v0.9h-0.9zM158.58 74.86h0.9v0.9h-0.9zM156.49 93.40h0.9v0.9h-0.9zM157.34 78.83h0.9v0.9h-0.9zM157.42 66.58h0.9v0.9h-0.9zM156.17 92.61h0.9v0.9h-0.9zM155.60 72.80h0.9v0.9h-0.9zM157.97 84.44h0.9v0.9h-0.9zM155.88 82.99h0.9v0.9h-0.9zM155.66 89.43h0.9v0.9h-0.9zM157.11 73.79h0.9v0.9h-0.9zM158.29 75.78h0.9v0.9h-0.9zM156.92 72.15h0.9v0.9h-0.9zM155.34 86.27h0.9v0.9h-0.9zM157.22 83.50h0.9v0.9h-0.9zM157.66 72.50h0.9v0.9h-0.9zM155.23 83.08h0.9v0.9h-0.9zM156.15 86.04h0.9v0.9h-0.9zM157.31 93.32h0.9v0.9h-0.9zM155.17 83.30h0.9v0.9h-0.9zM156.83 79.87h0.9v0.9h-0.9zM157.03 74.37h0.9v0.9h-0.9zM155.25 83.53h0.9v0.9h-0.9zM157.02 82.95h0.9v0.9h-0.9zM155.46 69.60h0.9v0.9h-0.9zM156.37 76.73h0.9v0.9h-0.9zM155.55 78.22h0.9v0.9h-0.9zM158.70 80.94h0.9v0.9h-0.9zM159.07 76.86h0.9v0.9h-0.9zM157.00 63.28h0.9v0.9h-0.9zM157.79 78.06h0.9v0.9h-0.9zM155.12 78.74h0.9v0.9h-0.9zM156.25 89.93h0.9v0.9h-0.9zM156.93 84.70h0.9v0.9h-0.9zM155.81 78.56h0.9v0.9h-0.9zM157.24 79.58h0.9v0.9h-0.9zM157.54 65.77h0.9v0.9h-0.9zM154.86 69.35h0.9v0.9h-0.9zM159.26 77.33h0.9v0.9h-0.9zM155.20 87.59h0.9v0.9h-0.9zM158.18 68.24h0.9v0.9h-0.9zM156.15 68.95h0.9v0.9h-0.9zM158.95 80.27h0.9v0.9h-0.9zM154.67 68.99h0.9v0.9h-0.9zM154.79 74.11h0.9v0.9h-0.9zM157.74 77.46h0.9v0.9h-0.9zM155.94 89.73h0.9v0.9h-0.9zM155.34 74.65h0.9v0.9h-0.9zM155.45 80.61h0.9v0.9h-0.9zM158.67 66.66h0.9v0.9h-0.9zM157.16 95.65h0.9v0.9h-0.9zM158.01 67.98h0.9v0.9h-0.9zM155.35 77.15h0.9v0.9h-0.9zM157.27 65.96h0.9v0.9h-0.9zM155.01 84.81h0.9v0.9h-0.9zM157.56 65.75h0.9v0.9h-0.9zM159.18 74.34h0.9v0.9h-0.9zM157.71 80.82h0.9v0.9h-0.9zM158.49 76.93h0.9v0.9h-0.9zM159.02 72.85h0.9v0.9h-0.9zM158.25 69.79h0.9v0.9h-0.9zM158.37 70.02h0.9v0.9h-0.9zM158.26 72.56h0.9v0.9h-0.9zM159.13 81.58h0.9v0.9h-0.9zM157.01 72.28h0.9v0.9h-0.9zM159.18 80.70h0.9v0.9h-0.9zM158.29 75.76h0.9v0.9h-0.9zM155.51 76.86h0.9v0.9h-0.9zM156.81 71.52h0.9v0.9h-0.9zM158.89 78.55h0.9v0.9h-0.9zM156.32 72.20h0.9v0.9h-0.9zM157.78 65.77h0.9v0.9h-0.9zM159.05 80.25h0.9v0.9h-0.9zM157.90 65.67h0.9v0.9h-0.9zM157.61 74.28h0.9v0.9h-0.9zM158.53 78.90h0.9v0.9h-0.9zM158.09 85.92h0.9v0.9h-0.9zM154.83 86.09h0.9v0.9h-0.9zM154.90 77.31h0.9v0.9h-0.9zM157.37 80.15h0.9v0.9h-0.9zM156.66 69.54h0.9v0.9h-0.9zM156.12 74.28h0.9v0.9h-0.9zM158.55 81.70h0.9v0.9h-0.9zM154.82 72.30h0.9v0.9h-0.9zM157.65 74.51h0.9v0.9h-0.9zM158.22 69.02h0.9v0.9h-0.9zM154.87 85.63h0.9v0.9h-0.9zM158.28 85.18h0.9v0.9h-0.9zM159.14 79.55h0.9v0.9h-0.9zM156.18 82.73h0.9v0.9h-0.9zM157.40 79.69h0.9v0.9h-0.9zM157.39 93.22h0.9v0.9h-0.9zM156.88 82.71h0.9v0.9h-0.9zM158.47 82.09h0.9v0.9h-0.9zM155.16 76.69h0.9v0.9h-0.9zM155.23 76.85h0.9v0.9h-0.9zM159.08 77.01h0.9v0.9h-0.9zM156.30 63.42h0.9v0.9h-0.9zM156.12 81.05h0.9v0.9h-0.9zM158.47 85.02h0.9v0.9h-0.9zM157.86 64.24h0.9v0.9h-0.9zM157.30 89.59h0.9v0.9h-0.9zM156.63 86.74h0.9v0.9h-0.9zM159.10 82.06h0.9v0.9h-0.9zM157.46 69.63h0.9v0.9h-0.9zM156.32 85.81h0.9v0.9h-0.9zM158.12 65.44h0.9v0.9h-0.9zM156.84 75.42h0.9v0.9h-0.9zM157.31 93.16h0.9v0.9h-0.9zM156.59 73.01h0.9v0.9h-0.9zM157.89 67.95h0.9v0.9h-0.9zM157.83 86.82h0.9v0.9h-0.9zM154.77 69.09h0.9v0.9h-0.9zM159.11 75.12h0.9v0.9h-0.9zM158.80 80.82h0.9v0.9h-0.9zM157.22 83.44h0.9v0.9h-0.9zM157.39 66.97h0.9v0.9h-0.9zM155.88 85.16h0.9v0.9h-0.9zM157.07 77.56h0.9v0.9h-0.9zM156.47 70.60h0.9v0.9h-0.9zM157.86 88.23h0.9v0.9h-0.9zM157.73 75.51h0.9v0.9h-0.9zM157.23 62.41h0.9v0.9h-0.9zM157.27 90.72h0.9v0.9h-0.9zM158.46 81.62h0.9v0.9h-0.9zM155.05 79.00h0.9v0.9h-0.9zM156.92 70.12h0.9v0.9h-0.9zM158.04 80.38h0.9v0.9h-0.9zM155.21 73.82h0.9v0.9h-0.9zM155.84 76.07h0.9v0.9h-0.9zM156.27 79.44h0.9v0.9h-0.9zM156.53 96.58h0.9v0.9h-0.9zM155.97 81.90h0.9v0.9h-0.9zM156.54 75.26h0.9v0.9h-0.9zM156.33 81.75h0.9v0.9h-0.9zM156.28 80.86h0.9v0.9h-0.9zM155.42 83.04h0.9v0.9h-0.9zM158.89 75.66h0.9v0.9h-0.9zM157.12 62.91h0.9v0.9h-0.9zM158.23 81.62h0.9v0.9h-0.9zM156.70 81.16h0.9v0.9h-0.9zM157.73 66.21h0.9v0.9h-0.9zM155.74 72.86h0.9v0.9h-0.9zM156.95 65.71h0.9v0.9h-0.9zM156.35 90.28h0.9v0.9h-0.9zM158.20 72.91h0.9v0.9h-0.9zM154.58 72.64h0.9v0.9h-0.9zM156.13 81.72h0.9v0.9h-0.9zM154.70 76.48h0.9v0.9h-0.9zM157.09 82.85h0.9v0.9h-0.9zM156.41 77.33h0.9v0.9h-0.9zM157.79 65.31h0.9v0.9h-0.9zM157.56 82.16h0.9v0.9h-0.9zM159.16 81.35h0.9v0.9h-0.9zM158.08 69.07h0.9v0.9h-0.9zM156.41 68.12h0.9v0.9h-0.9zM156.32 72.35h0.9v0.9h-0.9zM155.28 79.53h0.9v0.9h-0.9zM158.60 70.25h0.9v0.9h-0.9zM157.54 67.77h0.9v0.9h-0.9zM158.86 75.17h0.9v0.9h-0.9zM154.71 81.79h0.9v0.9h-0.9zM156.43 82.33h0.9v0.9h-0.9zM157.12 61.81h0.9v0.9h-0.9zM155.86 68.67h0.9v0.9h-0.9zM158.52 82.84h0.9v0.9h-0.9zM155.11 80.62h0.9v0.9h-0.9zM157.17 62.59h0.9v0.9h-0.9zM158.84 77.29h0.9v0.9h-0.9zM158.49 67.86h0.9v0.9h-0.9zM157.59 76.41h0.9v0.9h-0.9zM157.56 62.60h0.9v0.9h-0.9zM157.32 85.99h0.9v0.9h-0.9zM157.37 76.59h0.9v0.9h-0.9zM158.47 79.93h0.9v0.9h-0.9zM155.47 76.27h0.9v0.9h-0.9zM154.86 82.39h0.9v0.9h-0.9zM158.06 67.56h0.9v0.9h-0.9zM156.70 58.13h0.9v0.9h-0.9zM158.54 76.11h0.9v0.9h-0.9zM155.62 88.04h0.9v0.9h-0.9zM155.73 77.29h0.9v0.9h-0.9zM157.10 84.95h0.9v0.9h-0.9zM158.38 80.12h0.9v0.9h-0.9zM156.08 91.22h0.9v0.9h-0.9zM155.48 80.65h0.9v0.9h-0.9zM156.02 72.16h0.9v0.9h-0.9zM157.19 71.88h0.9v0.9h-0.9zM157.60 90.62h0.9v0.9h-0.9zM154.51 80.54h0.9v0.9h-0.9zM158.01 68.02h0.9v0.9h-0.9zM156.53 86.15h0.9v0.9h-0.9zM154.67 78.69h0.9v0.9h-0.9zM157.22 68.48h0.9v0.9h-0.9zM156.44 67.92h0.9v0.9h-0.9zM155.85 66.68h0.9v0.9h-0.9zM157.78 91.13h0.9v0.9h-0.9zM156.00 76.67h0.9v0.9h-0.9zM156.74 80.04h0.9v0.9h-0.9zM155.02 76.79h0.9v0.9h-0.9zM157.53 65.72h0.9v0.9h-0.9zM156.62 80.42h0.9v0.9h-0.9zM156.37 74.29h0.9v0.9h-0.9zM155.77 81.30h0.9v0.9h-0.9zM156.67 89.01h0.9v0.9h-0.9zM155.34 80.98h0.9v0.9h-0.9zM156.11 88.57h0.9v0.9h-0.9zM158.40 65.78h0.9v0.9h-0.9zM158.07 72.57h0.9v0.9h-0.9zM157.13 93.66h0.9v0.9h-0.9zM157.92 71.46h0.9v0.9h-0.9zM154.45 81.94h0.9v0.9h-0.9zM155.67 75.12h0.9v0.9h-0.9zM156.35 66.22h0.9v0.9h-0.9zM159.24 82.75h0.9v0.9h-0.9zM156.07 86.50h0.9v0.9h-0.9zM156.14 81.70h0.9v0.9h-0.9zM158.84 78.38h0.9v0.9h-0.9zM154.86 79.94h0.9v0.9h-0.9zM155.10 68.95h0.9v0.9h-0.9zM158.49 88.18h0.9v0.9h-0.9zM156.78 88.85h0.9v0.9h-0.9zM158.34 69.74h0.9v0.9h-0.9zM157.17 79.64h0.9v0.9h-0.9zM156.89 79.75h0.9v0.9h-0.9zM154.46 78.55h0.9v0.9h-0.9zM158.83 82.80h0.9v0.9h-0.9zM159.22 72.40h0.9v0.9h-0.9zM158.41 76.20h0.9v0.9h-0.9zM158.40 69.42h0.9v0.9h-0.9zM155.42 77.89h0.9v0.9h-0.9zM157.28 77.99h0.9v0.9h-0.9zM158.50 76.29h0.9v0.9h-0.9zM158.28 77.78h0.9v0.9h-0.9zM158.79 74.79h0.9v0.9h-0.9zM157.02 77.57h0.9v0.9h-0.9zM158.77 80.02h0.9v0.9h-0.9zM155.86 65.96h0.9v0.9h-0.9zM155.57 78.13h0.9v0.9h-0.9zM154.96 83.41h0.9v0.9h-0.9zM157.30 72.78h0.9v0.9h-0.9zM156.63 80.70h0.9v0.9h-0.9zM157.28 80.76h0.9v0.9h-0.9zM156.58 69.05h0.9v0.9h-0.9zM156.70 76.64h0.9v0.9h-0.9zM156.35 74.49h0.9v0.9h-0.9zM155.59 71.30h0.9v0.9h-0.9zM157.36 66.13h0.9v0.9h-0.9zM155.06 73.91h0.9v0.9h-0.9zM158.65 68.82h0.9v0.9h-0.9zM155.54 74.77h0.9v0.9h-0.9zM159.28 75.41h0.9v0.9h-0.9zM158.32 84.77h0.9v0.9h-0.9zM154.86 68.50h0.9v0.9h-0.9zM155.23 67.48h0.9v0.9h-0.9zM155.89 90.95h0.9v0.9h-0.9zM154.59 74.95h0.9v0.9h-0.9zM155.45 78.13h0.9v0.9h-0.9zM157.04 95.04h0.9v0.9h-0.9zM158.44 87.13h0.9v0.9h-0.9zM158.14 77.90h0.9v0.9h-0.9zM154.87 78.28h0.9v0.9h-0.9zM155.95 89.15h0.9v0.9h-0.9zM158.38 74.99h0.9v0.9h-0.9zM154.91 81.92h0.9v0.9h-0.9zM158.13 85.03h0.9v0.9h-0.9zM155.70 90.41h0.9v0.9h-0.9zM158.03 65.95h0.9v0.9h-0.9zM157.44 72.07h0.9v0.9h-0.9zM155.53 65.46h0.9v0.9h-0.9zM154.84 69.22h0.9v0.9h-0.9zM156.36 70.84h0.9v0.9h-0.9zM154.39 75.23h0.9v0.9h-0.9zM158.50 77.00h0.9v0.9h-0.9zM158.41 75.33h0.9v0.9h-0.9zM157.60 73.21h0.9v0.9h-0.9zM159.22 73.65h0.9v0.9h-0.9zM157.08 78.68h0.9v0.9h-0.9zM158.00 74.97h0.9v0.9h-0.9zM158.60 79.82h0.9v0.9h-0.9zM156.19 79.14h0.9v0.9h-0.9zM155.87 74.11h0.9v0.9h-0.9zM157.38 77.39h0.9v0.9h-0.9zM159.22 72.65h0.9v0.9h-0.9zM154.92 76.14h0.9v0.9h-0.9zM156.95 73.32h0.9v0.9h-0.9zM156.68 67.19h0.9v0.9h-0.9zM157.47 68.10h0.9v0.9h-0.9zM158.86 82.94h0.9v0.9h-0.9zM158.91 75.54h0.9v0.9h-0.9zM157.56 63.21h0.9v0.9h-0.9zM157.75 76.65h0.9v0.9h-0.9zM156.26 62.54h0.9v0.9h-0.9zM158.94 83.79h0.9v0.9h-0.9zM156.06 65.65h0.9v0.9h-0.9zM155.86 81.42h0.9v0.9h-0.9zM154.84 73.04h0.9v0.9h-0.9zM156.57 82.68h0.9v0.9h-0.9zM158.26 88.33h0.9v0.9h-0.9zM158.16 75.69h0.9v0.9h-0.9zM156.62 55.63h0.9v0.9h-0.9zM154.45 77.06h0.9v0.9h-0.9zM155.65 85.09h0.9v0.9h-0.9zM156.45 90.32h0.9v0.9h-0.9zM157.71 65.54h0.9v0.9h-0.9zM158.32 79.61h0.9v0.9h-0.9zM156.89 60.87h0.9v0.9h-0.9zM156.26 88.57h0.9v0.9h-0.9zM159.07 70.55h0.9v0.9h-0.9zM155.28 84.23h0.9v0.9h-0.9zM156.98 65.96h0.9v0.9h-0.9zM159.04 74.87h0.9v0.9h-0.9zM157.21 62.62h0.9v0.9h-0.9zM158.73 86.53h0.9v0.9h-0.9zM155.80 81.61h0.9v0.9h-0.9zM158.88 79.93h0.9v0.9h-0.9zM159.30 77.57h0.9v0.9h-0.9zM157.78 80.79h0.9v0.9h-0.9zM157.72 84.54h0.9v0.9h-0.9zM155.59 76.72h0.9v0.9h-0.9zM156.25 64.01h0.9v0.9h-0.9zM155.97 88.83h0.9v0.9h-0.9zM155.65 79.12h0.9v0.9h-0.9zM157.16 87.97h0.9v0.9h-0.9zM156.09 67.23h0.9v0.9h-0.9zM154.81 70.12h0.9v0.9h-0.9zM156.16 78.27h0.9v0.9h-0.9zM155.06 77.59h0.9v0.9h-0.9zM159.05 83.96h0.9v0.9h-0.9zM157.76 82.98h0.9v0.9h-0.9zM155.24 75.09h0.9v0.9h-0.9zM155.90 90.27h0.9v0.9h-0.9zM156.60 84.61h0.9v0.9h-0.9zM159.01 76.58h0.9v0.9h-0.9zM156.06 73.60h0.9v0.9h-0.9zM158.49 78.01h0.9v0.9h-0.9zM155.48 75.36h0.9v0.9h-0.9zM157.58 85.67h0.9v0.9h-0.9zM156.11 65.94h0.9v0.9h-0.9zM158.84 82.10h0.9v0.9h-0.9zM157.63 71.45h0.9v0.9h-0.9zM155.49 68.32h0.9v0.9h-0.9zM159.26 79.23h0.9v0.9h-0.9zM156.27 79.82h0.9v0.9h-0.9zM155.51 71.21h0.9v0.9h-0.9zM154.94 68.77h0.9v0.9h-0.9zM156.25 92.25h0.9v0.9h-0.9zM159.17 78.47h0.9v0.9h-0.9zM158.01 86.49h0.9v0.9h-0.9zM156.97 76.97h0.9v0.9h-0.9zM155.07 84.50h0.9v0.9h-0.9zM155.78 77.20h0.9v0.9h-0.9zM156.60 90.96h0.9v0.9h-0.9zM155.32 77.57h0.9v0.9h-0.9zM155.48 71.52h0.9v0.9h-0.9zM157.54 71.50h0.9v0.9h-0.9zM157.67 78.77h0.9v0.9h-0.9zM158.53 75.21h0.9v0.9h-0.9zM156.54 77.23h0.9v0.9h-0.9zM154.93 78.95h0.9v0.9h-0.9zM155.64 65.14h0.9v0.9h-0.9zM154.94 80.11h0.9v0.9h-0.9zM155.52 72.27h0.9v0.9h-0.9zM156.55 77.67h0.9v0.9h-0.9zM156.70 79.03h0.9v0.9h-0.9zM155.08 86.20h0.9v0.9h-0.9zM155.47 73.20h0.9v0.9h-0.9zM158.70 76.69h0.9v0.9h-0.9zM158.61 67.02h0.9v0.9h-0.9zM159.07 79.41h0.9v0.9h-0.9zM156.97 74.12h0.9v0.9h-0.9zM158.67 77.36h0.9v0.9h-0.9zM158.92 82.36h0.9v0.9h-0.9zM156.66 80.10h0.9v0.9h-0.9zM156.62 76.69h0.9v0.9h-0.9zM155.94 74.00h0.9v0.9h-0.9zM156.16 80.24h0.9v0.9h-0.9zM155.57 88.10h0.9v0.9h-0.9zM155.50 85.95h0.9v0.9h-0.9zM154.40 76.16h0.9v0.9h-0.9zM156.72 69.36h0.9v0.9h-0.9zM155.52 76.47h0.9v0.9h-0.9zM156.85 67.39h0.9v0.9h-0.9zM155.36 68.10h0.9v0.9h-0.9zM158.27 70.12h0.9v0.9h-0.9zM157.89 89.12h0.9v0.9h-0.9zM156.19 72.75h0.9v0.9h-0.9zM155.49 81.10h0.9v0.9h-0.9zM155.44 79.68h0.9v0.9h-0.9zM154.53 75.18h0.9v0.9h-0.9zM155.32 73.07h0.9v0.9h-0.9zM158.09 78.65h0.9v0.9h-0.9zM156.71 61.05h0.9v0.9h-0.9zM157.58 67.82h0.9v0.9h-0.9zM156.57 95.98h0.9v0.9h-0.9zM156.74 78.55h0.9v0.9h-0.9zM159.31 75.66h0.9v0.9h-0.9zM158.51 73.11h0.9v0.9h-0.9zM155.37 73.29h0.9v0.9h-0.9zM155.67 85.66h0.9v0.9h-0.9zM159.16 77.03h0.9v0.9h-0.9zM156.07 73.57h0.9v0.9h-0.9zM157.63 84.23h0.9v0.9h-0.9zM155.30 84.52h0.9v0.9h-0.9zM155.99 87.72h0.9v0.9h-0.9zM156.62 77.06h0.9v0.9h-0.9zM155.68 65.67h0.9v0.9h-0.9zM155.57 72.39h0.9v0.9h-0.9zM156.19 91.45h0.9v0.9h-0.9zM156.05 90.66h0.9v0.9h-0.9zM158.30 66.86h0.9v0.9h-0.9zM154.63 75.62h0.9v0.9h-0.9zM156.62 81.75h0.9v0.9h-0.9zM157.20 63.32h0.9v0.9h-0.9zM158.37 85.89h0.9v0.9h-0.9zM158.98 83.00h0.9v0.9h-0.9zM156.39 75.40h0.9v0.9h-0.9zM156.33 93.46h0.9v0.9h-0.9zM154.50 82.56h0.9v0.9h-0.9zM159.18 75.46h0.9v0.9h-0.9zM158.37 68.66h0.9v0.9h-0.9zM158.37 81.66h0.9v0.9h-0.9zM154.98 71.72h0.9v0.9h-0.9zM155.69 69.37h0.9v0.9h-0.9zM158.31 71.39h0.9v0.9h-0.9zM158.56 68.37h0.9v0.9h-0.9zM154.77 82.01h0.9v0.9h-0.9zM158.84 75.85h0.9v0.9h-0.9zM155.63 74.94h0.9v0.9h-0.9zM156.97 77.68h0.9v0.9h-0.9zM157.67 84.47h0.9v0.9h-0.9zM157.24 88.54h0.9v0.9h-0.9zM156.71 82.76h0.9v0.9h-0.9zM154.52 70.48h0.9v0.9h-0.9zM156.78 64.71h0.9v0.9h-0.9zM157.57 71.69h0.9v0.9h-0.9zM156.22 90.28h0.9v0.9h-0.9zM156.50 73.52h0.9v0.9h-0.9zM156.40 82.18h0.9v0.9h-0.9zM159.16 75.66h0.9v0.9h-0.9zM158.01 81.64h0.9v0.9h-0.9zM156.15 73.72h0.9v0.9h-0.9zM157.06 83.37h0.9v0.9h-0.9zM156.63 54.44h0.9v0.9h-0.9zM156.56 49.48h0.9v0.9h-0.9zM156.79 69.48h0.9v0.9h-0.9zM156.92 51.75h0.9v0.9h-0.9zM156.91 98.44h0.9v0.9h-0.9zM157.01 66.76h0.9v0.9h-0.9zM156.59 71.16h0.9v0.9h-0.9zM156.46 73.56h0.9v0.9h-0.9zM156.58 84.05h0.9v0.9h-0.9zM157.12 88.96h0.9v0.9h-0.9zM156.96 82.22h0.9v0.9h-0.9zM157.22 85.61h0.9v0.9h-0.9zM157.06 58.15h0.9v0.9h-0.9zM156.65 63.80h0.9v0.9h-0.9zM156.93 91.92h0.9v0.9h-0.9z" fill="#000" fill-opacity="0.9"/>
<path d="M175.30 68.00 L178.10 73.80 L183.30 75.30 L178.10 76.80 L175.30 82.80 L172.50 76.80 L167.30 75.30 L172.50 73.80Z" fill="none" stroke="#3c9a58" stroke-width="0.6"/>
<path d="M173.00 78.73h0.8v0.8h-0.8zM174.50 73.10h0.8v0.8h-0.8zM175.03 78.84h0.8v0.8h-0.8zM173.99 74.51h0.8v0.8h-0.8zM174.95 75.18h0.8v0.8h-0.8zM176.47 77.19h0.8v0.8h-0.8zM174.92 77.21h0.8v0.8h-0.8zM176.70 74.42h0.8v0.8h-0.8zM174.88 75.53h0.8v0.8h-0.8zM176.67 80.53h0.8v0.8h-0.8zM174.78 76.68h0.8v0.8h-0.8zM176.10 72.91h0.8v0.8h-0.8zM175.98 73.48h0.8v0.8h-0.8zM175.02 72.45h0.8v0.8h-0.8zM175.06 76.16h0.8v0.8h-0.8zM175.33 75.63h0.8v0.8h-0.8zM173.65 71.38h0.8v0.8h-0.8zM176.93 74.44h0.8v0.8h-0.8zM173.86 74.51h0.8v0.8h-0.8zM174.94 72.84h0.8v0.8h-0.8zM174.26 78.60h0.8v0.8h-0.8zM175.11 76.66h0.8v0.8h-0.8zM173.84 73.79h0.8v0.8h-0.8zM174.09 74.42h0.8v0.8h-0.8zM172.92 76.58h0.8v0.8h-0.8zM175.75 78.43h0.8v0.8h-0.8zM176.58 76.71h0.8v0.8h-0.8zM172.98 76.79h0.8v0.8h-0.8zM175.41 75.07h0.8v0.8h-0.8zM173.63 72.76h0.8v0.8h-0.8zM175.47 76.25h0.8v0.8h-0.8zM174.63 73.57h0.8v0.8h-0.8zM174.26 73.32h0.8v0.8h-0.8zM176.11 74.72h0.8v0.8h-0.8zM174.52 69.87h0.8v0.8h-0.8zM175.26 79.94h0.8v0.8h-0.8zM175.84 75.38h0.8v0.8h-0.8zM173.54 71.77h0.8v0.8h-0.8zM173.26 69.72h0.8v0.8h-0.8zM175.85 75.68h0.8v0.8h-0.8zM174.14 73.60h0.8v0.8h-0.8zM175.59 76.16h0.8v0.8h-0.8zM172.77 75.70h0.8v0.8h-0.8zM172.06 73.20h0.8v0.8h-0.8zM173.95 75.66h0.8v0.8h-0.8zM176.58 72.86h0.8v0.8h-0.8zM175.44 79.02h0.8v0.8h-0.8zM175.09 75.76h0.8v0.8h-0.8zM174.84 73.07h0.8v0.8h-0.8zM173.92 80.86h0.8v0.8h-0.8zM175.08 72.84h0.8v0.8h-0.8zM175.83 77.68h0.8v0.8h-0.8zM174.75 71.89h0.8v0.8h-0.8zM173.52 74.07h0.8v0.8h-0.8zM174.36 75.14h0.8v0.8h-0.8zM175.38 77.76h0.8v0.8h-0.8zM174.99 72.47h0.8v0.8h-0.8zM174.19 73.79h0.8v0.8h-0.8zM176.09 73.39h0.8v0.8h-0.8zM172.98 73.61h0.8v0.8h-0.8zM175.80 72.49h0.8v0.8h-0.8zM173.72 81.60h0.8v0.8h-0.8zM174.53 73.79h0.8v0.8h-0.8zM175.35 70.52h0.8v0.8h-0.8zM175.21 74.74h0.8v0.8h-0.8zM174.60 81.87h0.8v0.8h-0.8zM175.83 77.37h0.8v0.8h-0.8zM174.24 72.92h0.8v0.8h-0.8zM175.70 79.75h0.8v0.8h-0.8zM173.68 75.35h0.8v0.8h-0.8zM175.49 77.65h0.8v0.8h-0.8zM176.55 81.74h0.8v0.8h-0.8zM175.20 77.40h0.8v0.8h-0.8zM174.28 75.09h0.8v0.8h-0.8zM175.17 75.86h0.8v0.8h-0.8zM176.11 76.93h0.8v0.8h-0.8zM174.29 75.87h0.8v0.8h-0.8zM176.64 77.41h0.8v0.8h-0.8zM175.37 72.30h0.8v0.8h-0.8zM175.50 76.61h0.8v0.8h-0.8zM174.80 76.47h0.8v0.8h-0.8zM176.79 74.58h0.8v0.8h-0.8zM173.33 80.29h0.8v0.8h-0.8zM174.15 76.26h0.8v0.8h-0.8zM173.12 73.29h0.8v0.8h-0.8zM174.84 76.00h0.8v0.8h-0.8zM175.90 73.22h0.8v0.8h-0.8zM176.21 79.49h0.8v0.8h-0.8zM175.64 73.62h0.8v0.8h-0.8zM176.19 74.78h0.8v0.8h-0.8zM174.86 76.71h0.8v0.8h-0.8zM174.10 76.62h0.8v0.8h-0.8zM176.58 77.37h0.8v0.8h-0.8zM175.52 73.78h0.8v0.8h-0.8zM175.95 69.72h0.8v0.8h-0.8zM173.76 77.63h0.8v0.8h-0.8zM175.03 80.32h0.8v0.8h-0.8zM173.37 69.52h0.8v0.8h-0.8zM174.60 77.62h0.8v0.8h-0.8zM173.17 78.33h0.8v0.8h-0.8zM175.99 74.59h0.8v0.8h-0.8zM175.66 72.79h0.8v0.8h-0.8zM175.28 73.78h0.8v0.8h-0.8zM177.40 75.90h0.8v0.8h-0.8zM175.77 71.05h0.8v0.8h-0.8zM173.64 78.98h0.8v0.8h-0.8zM177.48 75.15h0.8v0.8h-0.8zM172.99 74.16h0.8v0.8h-0.8zM174.09 75.84h0.8v0.8h-0.8zM173.97 73.15h0.8v0.8h-0.8zM174.38 75.82h0.8v0.8h-0.8zM174.65 72.09h0.8v0.8h-0.8zM173.94 76.16h0.8v0.8h-0.8zM173.05 78.35h0.8v0.8h-0.8zM174.47 76.17h0.8v0.8h-0.8zM174.18 79.79h0.8v0.8h-0.8zM173.40 72.84h0.8v0.8h-0.8zM175.59 81.07h0.8v0.8h-0.8zM174.52 71.53h0.8v0.8h-0.8zM176.60 71.92h0.8v0.8h-0.8zM172.63 76.20h0.8v0.8h-0.8zM175.92 75.55h0.8v0.8h-0.8zM175.43 74.91h0.8v0.8h-0.8zM175.13 74.56h0.8v0.8h-0.8zM174.11 75.56h0.8v0.8h-0.8zM175.08 75.98h0.8v0.8h-0.8zM174.14 74.78h0.8v0.8h-0.8zM175.18 71.75h0.8v0.8h-0.8zM172.20 77.47h0.8v0.8h-0.8zM176.41 73.24h0.8v0.8h-0.8zM174.10 77.75h0.8v0.8h-0.8zM173.80 79.11h0.8v0.8h-0.8zM177.07 72.44h0.8v0.8h-0.8zM174.66 73.54h0.8v0.8h-0.8zM173.77 69.77h0.8v0.8h-0.8zM174.75 71.24h0.8v0.8h-0.8zM176.09 69.19h0.8v0.8h-0.8zM174.22 73.79h0.8v0.8h-0.8zM175.73 72.93h0.8v0.8h-0.8zM174.44 79.67h0.8v0.8h-0.8zM176.70 79.92h0.8v0.8h-0.8zM175.23 79.08h0.8v0.8h-0.8zM175.65 70.26h0.8v0.8h-0.8zM175.12 73.63h0.8v0.8h-0.8zM174.58 69.04h0.8v0.8h-0.8zM173.85 75.63h0.8v0.8h-0.8zM176.77 75.81h0.8v0.8h-0.8zM174.13 75.62h0.8v0.8h-0.8zM173.87 68.20h0.8v0.8h-0.8zM174.24 76.17h0.8v0.8h-0.8zM175.83 75.71h0.8v0.8h-0.8zM176.54 72.43h0.8v0.8h-0.8zM176.23 76.46h0.8v0.8h-0.8zM174.90 70.15h0.8v0.8h-0.8zM177.16 79.88h0.8v0.8h-0.8zM174.90 79.01h0.8v0.8h-0.8zM174.20 75.47h0.8v0.8h-0.8zM174.12 78.32h0.8v0.8h-0.8zM172.59 75.29h0.8v0.8h-0.8zM176.89 70.21h0.8v0.8h-0.8zM175.14 75.08h0.8v0.8h-0.8zM177.22 74.80h0.8v0.8h-0.8zM172.24 70.23h0.8v0.8h-0.8zM174.30 74.40h0.8v0.8h-0.8zM173.49 74.24h0.8v0.8h-0.8zM173.51 70.67h0.8v0.8h-0.8zM174.85 76.90h0.8v0.8h-0.8zM173.69 77.47h0.8v0.8h-0.8zM174.40 76.74h0.8v0.8h-0.8zM175.95 75.18h0.8v0.8h-0.8zM174.51 75.00h0.8v0.8h-0.8zM174.97 69.70h0.8v0.8h-0.8zM174.19 77.35h0.8v0.8h-0.8zM172.91 74.69h0.8v0.8h-0.8zM175.35 70.72h0.8v0.8h-0.8zM174.55 78.96h0.8v0.8h-0.8zM174.47 69.67h0.8v0.8h-0.8zM174.59 70.00h0.8v0.8h-0.8zM175.24 80.95h0.8v0.8h-0.8zM176.07 74.42h0.8v0.8h-0.8zM175.27 73.71h0.8v0.8h-0.8zM175.40 75.53h0.8v0.8h-0.8zM175.70 70.29h0.8v0.8h-0.8zM172.33 77.67h0.8v0.8h-0.8zM176.58 72.09h0.8v0.8h-0.8zM175.67 74.97h0.8v0.8h-0.8zM175.90 76.64h0.8v0.8h-0.8zM174.24 72.90h0.8v0.8h-0.8zM175.59 76.08h0.8v0.8h-0.8zM175.28 76.70h0.8v0.8h-0.8zM176.15 73.38h0.8v0.8h-0.8zM176.10 76.38h0.8v0.8h-0.8zM172.14 78.07h0.8v0.8h-0.8zM174.15 75.56h0.8v0.8h-0.8zM174.36 75.28h0.8v0.8h-0.8zM175.12 73.92h0.8v0.8h-0.8zM174.00 75.99h0.8v0.8h-0.8zM175.51 72.44h0.8v0.8h-0.8zM175.39 72.24h0.8v0.8h-0.8zM173.83 73.74h0.8v0.8h-0.8zM176.78 78.58h0.8v0.8h-0.8zM174.84 74.57h0.8v0.8h-0.8zM173.39 77.92h0.8v0.8h-0.8zM176.18 72.15h0.8v0.8h-0.8zM174.34 77.74h0.8v0.8h-0.8zM175.30 72.45h0.8v0.8h-0.8zM174.33 70.45h0.8v0.8h-0.8zM172.10 74.17h0.8v0.8h-0.8zM175.77 76.77h0.8v0.8h-0.8zM173.27 78.27h0.8v0.8h-0.8zM173.97 70.84h0.8v0.8h-0.8zM177.24 70.77h0.8v0.8h-0.8zM174.54 71.81h0.8v0.8h-0.8zM175.42 75.55h0.8v0.8h-0.8zM173.66 79.50h0.8v0.8h-0.8zM175.07 77.69h0.8v0.8h-0.8zM175.07 71.19h0.8v0.8h-0.8zM176.75 70.46h0.8v0.8h-0.8zM176.05 72.59h0.8v0.8h-0.8zM174.20 79.03h0.8v0.8h-0.8zM175.05 72.05h0.8v0.8h-0.8zM175.93 71.57h0.8v0.8h-0.8zM174.03 75.46h0.8v0.8h-0.8zM175.73 72.72h0.8v0.8h-0.8zM176.83 70.30h0.8v0.8h-0.8zM174.68 72.41h0.8v0.8h-0.8zM176.76 71.96h0.8v0.8h-0.8zM176.39 77.52h0.8v0.8h-0.8zM175.00 76.98h0.8v0.8h-0.8zM175.66 80.29h0.8v0.8h-0.8zM175.56 76.29h0.8v0.8h-0.8zM175.22 77.24h0.8v0.8h-0.8zM173.07 74.37h0.8v0.8h-0.8zM173.41 81.46h0.8v0.8h-0.8zM177.11 72.63h0.8v0.8h-0.8zM174.21 78.79h0.8v0.8h-0.8zM174.87 75.74h0.8v0.8h-0.8zM174.52 68.57h0.8v0.8h-0.8zM176.24 75.83h0.8v0.8h-0.8zM172.31 71.06h0.8v0.8h-0.8zM175.28 69.87h0.8v0.8h-0.8zM175.07 75.16h0.8v0.8h-0.8zM174.48 75.37h0.8v0.8h-0.8zM175.42 70.54h0.8v0.8h-0.8zM175.56 76.13h0.8v0.8h-0.8zM173.48 78.88h0.8v0.8h-0.8zM177.35 69.20h0.8v0.8h-0.8zM175.36 71.98h0.8v0.8h-0.8zM175.74 74.85h0.8v0.8h-0.8zM174.70 73.25h0.8v0.8h-0.8zM175.18 72.99h0.8v0.8h-0.8zM173.79 76.56h0.8v0.8h-0.8zM176.22 79.11h0.8v0.8h-0.8zM174.77 76.32h0.8v0.8h-0.8zM173.01 74.14h0.8v0.8h-0.8zM173.78 77.00h0.8v0.8h-0.8zM176.05 73.29h0.8v0.8h-0.8zM174.30 71.96h0.8v0.8h-0.8zM177.04 77.64h0.8v0.8h-0.8zM176.17 72.69h0.8v0.8h-0.8zM175.35 72.81h0.8v0.8h-0.8zM173.59 76.45h0.8v0.8h-0.8zM176.97 78.18h0.8v0.8h-0.8zM175.21 75.07h0.8v0.8h-0.8zM176.96 71.15h0.8v0.8h-0.8zM173.43 75.10h0.8v0.8h-0.8zM173.22 77.35h0.8v0.8h-0.8zM172.45 72.70h0.8v0.8h-0.8zM177.44 79.30h0.8v0.8h-0.8zM174.15 72.87h0.8v0.8h-0.8zM174.25 73.05h0.8v0.8h-0.8zM176.58 76.67h0.8v0.8h-0.8zM175.41 71.68h0.8v0.8h-0.8zM176.65 69.13h0.8v0.8h-0.8zM174.09 74.62h0.8v0.8h-0.8zM174.78 79.80h0.8v0.8h-0.8zM176.14 79.28h0.8v0.8h-0.8zM173.98 80.20h0.8v0.8h-0.8zM175.32 75.08h0.8v0.8h-0.8zM176.65 74.28h0.8v0.8h-0.8zM176.05 72.61h0.8v0.8h-0.8zM172.65 79.26h0.8v0.8h-0.8zM173.86 71.80h0.8v0.8h-0.8zM175.35 73.15h0.8v0.8h-0.8zM174.99 74.34h0.8v0.8h-0.8zM174.81 73.43h0.8v0.8h-0.8zM175.76 76.45h0.8v0.8h-0.8zM174.77 72.40h0.8v0.8h-0.8zM174.69 72.46h0.8v0.8h-0.8zM176.00 70.31h0.8v0.8h-0.8zM174.76 77.05h0.8v0.8h-0.8zM174.38 72.71h0.8v0.8h-0.8zM173.12 72.77h0.8v0.8h-0.8zM173.56 70.97h0.8v0.8h-0.8zM175.60 76.75h0.8v0.8h-0.8zM172.69 69.87h0.8v0.8h-0.8zM172.61 76.64h0.8v0.8h-0.8zM174.33 79.45h0.8v0.8h-0.8zM174.90 75.17h0.8v0.8h-0.8zM174.74 73.11h0.8v0.8h-0.8zM176.33 73.94h0.8v0.8h-0.8zM174.86 74.61h0.8v0.8h-0.8zM174.17 73.21h0.8v0.8h-0.8zM174.91 72.54h0.8v0.8h-0.8zM176.18 80.78h0.8v0.8h-0.8zM176.82 75.66h0.8v0.8h-0.8zM175.14 78.14h0.8v0.8h-0.8zM173.64 74.37h0.8v0.8h-0.8zM174.54 75.70h0.8v0.8h-0.8zM173.42 69.83h0.8v0.8h-0.8zM175.15 81.10h0.8v0.8h-0.8zM175.13 76.49h0.8v0.8h-0.8zM175.43 73.41h0.8v0.8h-0.8zM174.54 78.37h0.8v0.8h-0.8zM176.08 76.54h0.8v0.8h-0.8zM175.09 73.35h0.8v0.8h-0.8zM175.59 72.53h0.8v0.8h-0.8zM176.22 73.72h0.8v0.8h-0.8zM176.84 72.46h0.8v0.8h-0.8zM173.93 73.91h0.8v0.8h-0.8zM175.66 72.01h0.8v0.8h-0.8zM176.98 72.16h0.8v0.8h-0.8zM175.50 79.00h0.8v0.8h-0.8zM174.87 70.35h0.8v0.8h-0.8zM172.82 72.58h0.8v0.8h-0.8zM177.43 76.26h0.8v0.8h-0.8zM175.83 73.19h0.8v0.8h-0.8zM173.79 79.01h0.8v0.8h-0.8zM175.21 73.81h0.8v0.8h-0.8zM173.58 76.41h0.8v0.8h-0.8zM174.78 75.59h0.8v0.8h-0.8zM173.06 77.94h0.8v0.8h-0.8zM174.32 73.09h0.8v0.8h-0.8zM175.73 73.89h0.8v0.8h-0.8zM175.87 72.64h0.8v0.8h-0.8zM176.01 78.16h0.8v0.8h-0.8zM173.95 74.25h0.8v0.8h-0.8zM175.67 74.08h0.8v0.8h-0.8zM175.57 75.29h0.8v0.8h-0.8zM173.88 76.74h0.8v0.8h-0.8zM176.56 71.91h0.8v0.8h-0.8zM173.08 73.34h0.8v0.8h-0.8zM173.94 80.85h0.8v0.8h-0.8zM176.01 71.91h0.8v0.8h-0.8zM173.90 71.28h0.8v0.8h-0.8zM173.96 78.25h0.8v0.8h-0.8zM174.96 75.31h0.8v0.8h-0.8zM174.64 72.85h0.8v0.8h-0.8zM174.87 73.30h0.8v0.8h-0.8zM173.44 77.37h0.8v0.8h-0.8zM172.49 71.96h0.8v0.8h-0.8zM174.81 79.71h0.8v0.8h-0.8zM174.83 74.86h0.8v0.8h-0.8zM175.27 78.11h0.8v0.8h-0.8zM174.71 77.62h0.8v0.8h-0.8zM174.84 74.51h0.8v0.8h-0.8zM176.15 68.94h0.8v0.8h-0.8zM173.76 69.85h0.8v0.8h-0.8zM174.96 77.05h0.8v0.8h-0.8zM176.86 77.50h0.8v0.8h-0.8zM176.49 80.86h0.8v0.8h-0.8zM177.26 74.18h0.8v0.8h-0.8zM174.80 72.08h0.8v0.8h-0.8zM174.65 78.09h0.8v0.8h-0.8zM174.49 74.51h0.8v0.8h-0.8zM172.06 79.27h0.8v0.8h-0.8zM176.12 78.97h0.8v0.8h-0.8zM175.55 74.67h0.8v0.8h-0.8zM176.18 71.80h0.8v0.8h-0.8zM176.51 71.96h0.8v0.8h-0.8zM174.51 74.72h0.8v0.8h-0.8zM174.68 73.34h0.8v0.8h-0.8zM173.34 70.89h0.8v0.8h-0.8zM174.88 80.22h0.8v0.8h-0.8zM175.26 76.67h0.8v0.8h-0.8zM173.15 76.43h0.8v0.8h-0.8zM175.63 71.86h0.8v0.8h-0.8zM173.58 78.09h0.8v0.8h-0.8zM173.67 73.05h0.8v0.8h-0.8zM175.30 76.99h0.8v0.8h-0.8zM174.15 75.01h0.8v0.8h-0.8zM174.94 76.00h0.8v0.8h-0.8zM175.28 72.52h0.8v0.8h-0.8zM175.99 72.77h0.8v0.8h-0.8zM174.11 76.90h0.8v0.8h-0.8zM174.98 76.78h0.8v0.8h-0.8zM173.85 72.64h0.8v0.8h-0.8zM173.60 69.58h0.8v0.8h-0.8zM176.29 76.01h0.8v0.8h-0.8zM175.08 72.89h0.8v0.8h-0.8zM175.80 76.00h0.8v0.8h-0.8zM176.31 76.32h0.8v0.8h-0.8zM174.02 77.35h0.8v0.8h-0.8zM172.21 76.17h0.8v0.8h-0.8zM174.92 74.33h0.8v0.8h-0.8zM174.55 76.75h0.8v0.8h-0.8zM176.42 77.56h0.8v0.8h-0.8zM174.28 72.21h0.8v0.8h-0.8zM175.46 75.73h0.8v0.8h-0.8zM175.86 75.36h0.8v0.8h-0.8zM175.79 71.12h0.8v0.8h-0.8zM176.18 78.63h0.8v0.8h-0.8zM174.63 76.26h0.8v0.8h-0.8zM174.81 76.18h0.8v0.8h-0.8zM174.20 69.82h0.8v0.8h-0.8zM174.31 74.77h0.8v0.8h-0.8zM174.63 71.92h0.8v0.8h-0.8zM174.98 73.71h0.8v0.8h-0.8zM175.10 74.74h0.8v0.8h-0.8zM175.06 78.08h0.8v0.8h-0.8zM173.49 76.20h0.8v0.8h-0.8zM175.68 73.62h0.8v0.8h-0.8zM174.18 73.81h0.8v0.8h-0.8zM175.93 70.93h0.8v0.8h-0.8zM175.18 73.21h0.8v0.8h-0.8zM175.52 78.52h0.8v0.8h-0.8zM176.00 74.48h0.8v0.8h-0.8zM174.15 77.12h0.8v0.8h-0.8zM174.25 75.05h0.8v0.8h-0.8zM175.24 71.62h0.8v0.8h-0.8zM176.83 72.42h0.8v0.8h-0.8zM174.27 72.53h0.8v0.8h-0.8zM174.30 75.19h0.8v0.8h-0.8zM174.20 75.07h0.8v0.8h-0.8zM172.13 70.35h0.8v0.8h-0.8zM176.65 70.77h0.8v0.8h-0.8zM175.08 76.32h0.8v0.8h-0.8zM174.73 73.41h0.8v0.8h-0.8zM173.30 75.86h0.8v0.8h-0.8zM173.88 72.35h0.8v0.8h-0.8zM173.69 78.93h0.8v0.8h-0.8z" fill="#000" fill-opacity="0.85"/>
<line x1="147.50" y1="43.90" x2="147.50" y2="107.20" stroke="#000" stroke-width="1" />
<line x1="147.00" y1="107.20" x2="185.60" y2="107.20" stroke="#000" stroke-width="1" />
<line x1="143.80" y1="46.40" x2="147.50" y2="46.40" stroke="#000" stroke-width="0.8" />
<text x="141.30" y="48.60" font-size="6.0" fill="#222" text-anchor="end" >10</text>
<line x1="143.80" y1="60.90" x2="147.50" y2="60.90" stroke="#000" stroke-width="0.8" />
<text x="141.30" y="63.10" font-size="6.0" fill="#222" text-anchor="end" >5</text>
<line x1="143.80" y1="75.40" x2="147.50" y2="75.40" stroke="#000" stroke-width="0.8" />
<text x="141.30" y="77.60" font-size="6.0" fill="#222" text-anchor="end" >0</text>
<line x1="143.80" y1="89.90" x2="147.50" y2="89.90" stroke="#000" stroke-width="0.8" />
<text x="141.30" y="92.10" font-size="6.0" fill="#222" text-anchor="end" >−5</text>
<line x1="143.80" y1="104.40" x2="147.50" y2="104.40" stroke="#000" stroke-width="0.8" />
<text x="141.30" y="106.60" font-size="6.0" fill="#222" text-anchor="end" >−10</text>
<line x1="157.30" y1="107.20" x2="157.30" y2="109.50" stroke="#000" stroke-width="0.8" />
<line x1="175.30" y1="107.20" x2="175.30" y2="109.50" stroke="#000" stroke-width="0.8" />
<text x="125.40" y="74.90" font-size="6.7" fill="#1a1a1a" text-anchor="middle" textLength="42.60" lengthAdjust="spacingAndGlyphs" transform="rotate(-90 125.40 74.90)" stroke="#1a1a1a" stroke-width="0.25">Log2 fold change</text>
<text x="158.00" y="40.00" font-size="6.7" fill="#1a1a1a" textLength="26.00" lengthAdjust="spacingAndGlyphs" transform="rotate(-45 158.00 40.00)" >CLL/NBC</text>
<text x="176.30" y="36.40" font-size="5.9" fill="#1a1a1a" textLength="21.00" lengthAdjust="spacingAndGlyphs" transform="rotate(-45 176.30 36.40)" >ibrutinib/</text>
<text x="180.00" y="40.70" font-size="5.9" fill="#1a1a1a" textLength="21.50" lengthAdjust="spacingAndGlyphs" transform="rotate(-45 180.00 40.70)" >baseline</text>
<text x="160.70" y="115.60" font-size="6.4" fill="#1a1a1a" text-anchor="end" textLength="10.50" lengthAdjust="spacingAndGlyphs" transform="rotate(-45 160.70 115.60)" >CLL</text>
<text x="178.50" y="115.40" font-size="6.0" fill="#1a1a1a" text-anchor="end" textLength="20.50" lengthAdjust="spacingAndGlyphs" transform="rotate(-45 178.50 115.40)" >ibrutinib</text>
<text x="126.80" y="143.40" font-size="5.8" fill="#222" textLength="58.40" lengthAdjust="spacingAndGlyphs" >Genes associated with</text>
<text x="126.80" y="150.70" font-size="5.8" fill="#222" textLength="69.50" lengthAdjust="spacingAndGlyphs" >deceased enhancer activity</text>
<path d="M155.35 198.00 L155.35 199.19 L155.35 200.38 L155.35 201.56 L155.35 202.75 L155.35 203.94 L155.35 205.12 L155.35 206.31 L155.35 207.50 L155.35 208.69 L155.32 209.88 L155.22 211.06 L155.00 212.25 L154.64 213.44 L154.22 214.62 L153.84 215.81 L153.58 217.00 L153.43 218.19 L153.37 219.38 L153.35 220.56 L153.35 221.75 L153.35 222.94 L153.36 224.12 L153.40 225.31 L153.50 226.50 L153.71 227.69 L154.05 228.88 L154.46 230.06 L154.86 231.25 L155.14 232.44 L155.29 233.62 L155.34 234.81 L155.35 236.00 L155.35 237.19 L155.35 238.38 L155.35 239.56 L155.35 240.75 L155.35 241.94 L155.35 243.12 L155.35 244.31 L155.35 245.50 L156.25 245.50 L156.25 244.31 L156.25 243.12 L156.25 241.94 L156.25 240.75 L156.25 239.56 L156.25 238.38 L156.25 237.19 L156.25 236.00 L156.26 234.81 L156.31 233.62 L156.46 232.44 L156.74 231.25 L157.14 230.06 L157.55 228.88 L157.89 227.69 L158.10 226.50 L158.20 225.31 L158.24 224.12 L158.25 222.94 L158.25 221.75 L158.25 220.56 L158.23 219.38 L158.17 218.19 L158.02 217.00 L157.76 215.81 L157.38 214.62 L156.96 213.44 L156.60 212.25 L156.38 211.06 L156.28 209.88 L156.25 208.69 L156.25 207.50 L156.25 206.31 L156.25 205.12 L156.25 203.94 L156.25 202.75 L156.25 201.56 L156.25 200.38 L156.25 199.19 L156.25 198.00Z" fill="none" stroke="#b060a8" stroke-width="0.6"/>
<path d="M154.43 227.53h0.9v0.9h-0.9zM155.16 233.61h0.9v0.9h-0.9zM154.24 221.10h0.9v0.9h-0.9zM156.57 215.01h0.9v0.9h-0.9zM154.47 215.07h0.9v0.9h-0.9zM156.46 213.53h0.9v0.9h-0.9zM156.69 218.14h0.9v0.9h-0.9zM156.22 221.94h0.9v0.9h-0.9zM154.41 221.39h0.9v0.9h-0.9zM154.75 223.25h0.9v0.9h-0.9zM153.32 222.39h0.9v0.9h-0.9zM155.66 217.95h0.9v0.9h-0.9zM156.13 225.52h0.9v0.9h-0.9zM156.08 222.57h0.9v0.9h-0.9zM155.75 228.72h0.9v0.9h-0.9zM154.71 229.65h0.9v0.9h-0.9zM153.18 222.54h0.9v0.9h-0.9zM157.48 221.86h0.9v0.9h-0.9zM154.54 229.41h0.9v0.9h-0.9zM155.24 228.02h0.9v0.9h-0.9zM154.12 221.67h0.9v0.9h-0.9zM153.78 216.37h0.9v0.9h-0.9zM156.69 220.10h0.9v0.9h-0.9zM157.04 221.30h0.9v0.9h-0.9zM154.50 223.93h0.9v0.9h-0.9zM155.23 222.67h0.9v0.9h-0.9zM155.58 211.93h0.9v0.9h-0.9zM154.40 226.81h0.9v0.9h-0.9zM155.46 221.51h0.9v0.9h-0.9zM156.66 223.15h0.9v0.9h-0.9zM157.38 217.41h0.9v0.9h-0.9zM154.08 218.18h0.9v0.9h-0.9zM155.09 227.44h0.9v0.9h-0.9zM157.31 219.41h0.9v0.9h-0.9zM155.22 228.60h0.9v0.9h-0.9zM155.42 216.14h0.9v0.9h-0.9zM154.94 230.47h0.9v0.9h-0.9zM154.19 224.07h0.9v0.9h-0.9zM154.38 215.03h0.9v0.9h-0.9zM156.38 218.87h0.9v0.9h-0.9zM157.51 218.48h0.9v0.9h-0.9zM156.62 227.09h0.9v0.9h-0.9zM155.31 219.61h0.9v0.9h-0.9zM153.28 215.78h0.9v0.9h-0.9zM156.41 215.53h0.9v0.9h-0.9zM155.45 211.24h0.9v0.9h-0.9zM155.90 230.97h0.9v0.9h-0.9zM155.59 214.30h0.9v0.9h-0.9zM155.19 204.64h0.9v0.9h-0.9z" fill="#b060a8" fill-opacity="0.9"/>
<path d="M153.17 226.97h0.9v0.9h-0.9zM153.31 220.80h0.9v0.9h-0.9zM156.03 220.02h0.9v0.9h-0.9zM154.82 211.46h0.9v0.9h-0.9zM153.69 227.17h0.9v0.9h-0.9zM154.85 215.72h0.9v0.9h-0.9zM153.06 221.34h0.9v0.9h-0.9zM154.62 221.17h0.9v0.9h-0.9zM155.79 209.44h0.9v0.9h-0.9zM155.79 223.84h0.9v0.9h-0.9zM156.11 211.60h0.9v0.9h-0.9zM155.55 213.90h0.9v0.9h-0.9zM154.83 211.80h0.9v0.9h-0.9zM154.67 215.73h0.9v0.9h-0.9zM154.72 220.86h0.9v0.9h-0.9zM154.33 214.77h0.9v0.9h-0.9zM155.02 215.51h0.9v0.9h-0.9zM156.17 221.44h0.9v0.9h-0.9zM154.24 224.03h0.9v0.9h-0.9zM156.49 227.32h0.9v0.9h-0.9zM155.44 219.00h0.9v0.9h-0.9zM154.73 213.04h0.9v0.9h-0.9zM154.80 226.99h0.9v0.9h-0.9zM154.31 218.80h0.9v0.9h-0.9zM155.27 226.18h0.9v0.9h-0.9zM155.11 221.13h0.9v0.9h-0.9zM154.66 218.05h0.9v0.9h-0.9zM156.62 219.88h0.9v0.9h-0.9zM156.45 226.06h0.9v0.9h-0.9zM156.77 222.53h0.9v0.9h-0.9zM156.10 225.14h0.9v0.9h-0.9zM156.30 218.31h0.9v0.9h-0.9zM153.15 226.02h0.9v0.9h-0.9zM157.66 223.35h0.9v0.9h-0.9zM156.83 214.05h0.9v0.9h-0.9zM156.87 220.37h0.9v0.9h-0.9zM153.39 222.15h0.9v0.9h-0.9zM156.73 226.13h0.9v0.9h-0.9zM154.70 221.07h0.9v0.9h-0.9zM154.39 215.67h0.9v0.9h-0.9zM157.09 222.20h0.9v0.9h-0.9zM154.97 225.25h0.9v0.9h-0.9zM154.46 217.50h0.9v0.9h-0.9zM153.67 224.75h0.9v0.9h-0.9zM154.25 221.03h0.9v0.9h-0.9zM154.97 230.36h0.9v0.9h-0.9zM156.98 216.86h0.9v0.9h-0.9zM153.88 225.71h0.9v0.9h-0.9zM157.36 219.74h0.9v0.9h-0.9zM155.05 223.37h0.9v0.9h-0.9zM154.28 216.07h0.9v0.9h-0.9zM153.05 225.67h0.9v0.9h-0.9zM152.99 217.71h0.9v0.9h-0.9zM154.72 224.72h0.9v0.9h-0.9zM156.25 221.87h0.9v0.9h-0.9zM155.93 216.97h0.9v0.9h-0.9zM155.90 222.51h0.9v0.9h-0.9zM157.13 220.62h0.9v0.9h-0.9zM157.36 224.83h0.9v0.9h-0.9zM155.72 222.26h0.9v0.9h-0.9zM154.69 228.29h0.9v0.9h-0.9zM156.03 225.96h0.9v0.9h-0.9zM155.86 222.58h0.9v0.9h-0.9zM153.92 218.95h0.9v0.9h-0.9zM157.27 217.36h0.9v0.9h-0.9zM153.44 223.98h0.9v0.9h-0.9zM157.08 225.32h0.9v0.9h-0.9zM154.07 221.23h0.9v0.9h-0.9zM153.15 217.31h0.9v0.9h-0.9zM156.82 218.96h0.9v0.9h-0.9zM156.73 223.05h0.9v0.9h-0.9zM155.25 217.80h0.9v0.9h-0.9zM153.99 221.41h0.9v0.9h-0.9zM156.71 215.29h0.9v0.9h-0.9zM155.54 215.30h0.9v0.9h-0.9zM153.94 214.61h0.9v0.9h-0.9zM154.35 227.50h0.9v0.9h-0.9zM157.81 221.64h0.9v0.9h-0.9zM153.57 216.06h0.9v0.9h-0.9zM152.91 218.13h0.9v0.9h-0.9zM155.03 225.67h0.9v0.9h-0.9zM155.39 224.20h0.9v0.9h-0.9zM155.43 219.61h0.9v0.9h-0.9zM156.82 229.25h0.9v0.9h-0.9zM155.32 224.51h0.9v0.9h-0.9zM154.78 226.88h0.9v0.9h-0.9zM157.23 223.80h0.9v0.9h-0.9zM154.64 218.87h0.9v0.9h-0.9zM154.47 227.60h0.9v0.9h-0.9zM155.19 232.51h0.9v0.9h-0.9zM153.85 227.98h0.9v0.9h-0.9zM154.51 218.07h0.9v0.9h-0.9zM154.58 216.32h0.9v0.9h-0.9zM154.94 224.16h0.9v0.9h-0.9zM157.56 217.71h0.9v0.9h-0.9zM153.69 218.23h0.9v0.9h-0.9zM154.88 218.72h0.9v0.9h-0.9zM154.11 216.78h0.9v0.9h-0.9zM157.01 222.95h0.9v0.9h-0.9zM154.80 216.09h0.9v0.9h-0.9zM153.95 221.42h0.9v0.9h-0.9zM157.65 220.32h0.9v0.9h-0.9zM155.34 218.39h0.9v0.9h-0.9zM155.25 214.58h0.9v0.9h-0.9zM156.31 224.52h0.9v0.9h-0.9zM153.53 221.15h0.9v0.9h-0.9zM155.72 228.87h0.9v0.9h-0.9zM154.43 224.43h0.9v0.9h-0.9zM155.57 226.91h0.9v0.9h-0.9zM155.91 225.45h0.9v0.9h-0.9zM153.62 225.92h0.9v0.9h-0.9zM155.58 218.78h0.9v0.9h-0.9zM153.96 222.79h0.9v0.9h-0.9zM155.13 215.03h0.9v0.9h-0.9zM156.60 224.73h0.9v0.9h-0.9zM154.77 215.77h0.9v0.9h-0.9zM155.68 208.76h0.9v0.9h-0.9zM156.08 225.84h0.9v0.9h-0.9zM153.32 227.05h0.9v0.9h-0.9zM157.40 225.90h0.9v0.9h-0.9zM157.08 220.11h0.9v0.9h-0.9zM155.45 225.78h0.9v0.9h-0.9zM154.18 230.13h0.9v0.9h-0.9zM156.92 225.79h0.9v0.9h-0.9zM156.27 218.06h0.9v0.9h-0.9zM154.87 211.61h0.9v0.9h-0.9zM157.34 219.48h0.9v0.9h-0.9zM154.53 220.93h0.9v0.9h-0.9zM153.87 227.96h0.9v0.9h-0.9zM153.67 224.67h0.9v0.9h-0.9zM157.45 220.46h0.9v0.9h-0.9zM157.30 225.53h0.9v0.9h-0.9zM155.27 232.13h0.9v0.9h-0.9zM155.70 210.30h0.9v0.9h-0.9zM156.90 219.30h0.9v0.9h-0.9zM155.62 232.98h0.9v0.9h-0.9zM155.61 223.76h0.9v0.9h-0.9zM154.27 213.83h0.9v0.9h-0.9zM156.11 214.97h0.9v0.9h-0.9zM155.25 212.82h0.9v0.9h-0.9zM153.84 223.56h0.9v0.9h-0.9zM156.53 225.54h0.9v0.9h-0.9zM157.01 220.43h0.9v0.9h-0.9zM154.83 221.66h0.9v0.9h-0.9zM154.70 224.13h0.9v0.9h-0.9zM155.36 233.94h0.9v0.9h-0.9zM156.62 220.37h0.9v0.9h-0.9zM156.58 221.54h0.9v0.9h-0.9zM153.93 224.96h0.9v0.9h-0.9zM154.60 218.18h0.9v0.9h-0.9zM154.88 220.72h0.9v0.9h-0.9zM155.43 214.13h0.9v0.9h-0.9zM155.36 230.96h0.9v0.9h-0.9zM156.46 222.33h0.9v0.9h-0.9zM154.63 218.25h0.9v0.9h-0.9zM154.23 222.42h0.9v0.9h-0.9zM156.03 219.45h0.9v0.9h-0.9zM155.71 216.62h0.9v0.9h-0.9zM153.94 222.10h0.9v0.9h-0.9zM156.84 221.26h0.9v0.9h-0.9zM155.85 224.69h0.9v0.9h-0.9zM155.89 215.90h0.9v0.9h-0.9zM154.52 227.78h0.9v0.9h-0.9zM156.79 227.82h0.9v0.9h-0.9zM156.92 223.29h0.9v0.9h-0.9zM155.15 214.07h0.9v0.9h-0.9zM154.04 215.71h0.9v0.9h-0.9zM154.87 210.38h0.9v0.9h-0.9zM153.98 224.75h0.9v0.9h-0.9zM153.63 224.93h0.9v0.9h-0.9zM153.81 217.79h0.9v0.9h-0.9zM155.23 218.62h0.9v0.9h-0.9zM155.54 220.00h0.9v0.9h-0.9zM156.80 215.94h0.9v0.9h-0.9zM152.94 223.78h0.9v0.9h-0.9zM153.07 224.63h0.9v0.9h-0.9zM154.15 215.82h0.9v0.9h-0.9zM156.74 218.85h0.9v0.9h-0.9zM154.00 218.70h0.9v0.9h-0.9zM155.57 229.26h0.9v0.9h-0.9zM155.25 218.62h0.9v0.9h-0.9zM153.26 217.61h0.9v0.9h-0.9zM153.76 216.69h0.9v0.9h-0.9zM155.56 215.42h0.9v0.9h-0.9zM157.19 219.21h0.9v0.9h-0.9zM153.33 225.21h0.9v0.9h-0.9zM154.11 222.75h0.9v0.9h-0.9zM154.22 226.61h0.9v0.9h-0.9zM154.36 224.60h0.9v0.9h-0.9zM156.68 216.78h0.9v0.9h-0.9zM156.46 222.73h0.9v0.9h-0.9zM152.91 224.28h0.9v0.9h-0.9zM156.49 227.68h0.9v0.9h-0.9zM157.61 226.50h0.9v0.9h-0.9zM156.63 221.91h0.9v0.9h-0.9zM154.91 222.90h0.9v0.9h-0.9zM154.48 226.17h0.9v0.9h-0.9zM153.22 219.41h0.9v0.9h-0.9zM155.10 227.34h0.9v0.9h-0.9zM155.04 219.59h0.9v0.9h-0.9zM154.77 212.00h0.9v0.9h-0.9zM155.15 212.61h0.9v0.9h-0.9zM156.02 227.52h0.9v0.9h-0.9zM155.68 216.27h0.9v0.9h-0.9zM154.08 219.47h0.9v0.9h-0.9zM154.59 212.01h0.9v0.9h-0.9zM154.71 217.95h0.9v0.9h-0.9zM154.64 231.87h0.9v0.9h-0.9zM155.24 214.92h0.9v0.9h-0.9zM154.11 214.31h0.9v0.9h-0.9zM156.48 219.05h0.9v0.9h-0.9zM154.44 229.21h0.9v0.9h-0.9zM156.08 216.89h0.9v0.9h-0.9zM153.34 215.73h0.9v0.9h-0.9zM155.81 217.33h0.9v0.9h-0.9zM154.53 223.17h0.9v0.9h-0.9zM156.62 227.03h0.9v0.9h-0.9zM156.89 219.35h0.9v0.9h-0.9zM153.77 227.57h0.9v0.9h-0.9zM157.53 221.32h0.9v0.9h-0.9zM152.98 219.65h0.9v0.9h-0.9zM153.75 220.76h0.9v0.9h-0.9zM154.87 216.72h0.9v0.9h-0.9zM153.67 216.27h0.9v0.9h-0.9zM154.79 217.42h0.9v0.9h-0.9zM155.28 234.23h0.9v0.9h-0.9zM154.46 223.40h0.9v0.9h-0.9zM155.50 234.85h0.9v0.9h-0.9zM156.62 224.08h0.9v0.9h-0.9zM154.31 217.12h0.9v0.9h-0.9zM155.09 222.71h0.9v0.9h-0.9zM157.22 222.50h0.9v0.9h-0.9zM154.35 226.81h0.9v0.9h-0.9zM154.99 225.09h0.9v0.9h-0.9zM157.34 226.60h0.9v0.9h-0.9zM155.65 224.56h0.9v0.9h-0.9zM154.93 219.29h0.9v0.9h-0.9zM157.18 226.95h0.9v0.9h-0.9zM154.36 222.72h0.9v0.9h-0.9zM153.78 214.67h0.9v0.9h-0.9zM156.41 224.89h0.9v0.9h-0.9zM152.97 224.29h0.9v0.9h-0.9zM155.22 219.67h0.9v0.9h-0.9zM152.93 223.42h0.9v0.9h-0.9zM153.26 223.66h0.9v0.9h-0.9zM153.33 224.49h0.9v0.9h-0.9zM153.54 223.66h0.9v0.9h-0.9zM156.71 227.34h0.9v0.9h-0.9zM157.04 223.49h0.9v0.9h-0.9zM154.22 229.59h0.9v0.9h-0.9zM157.56 223.99h0.9v0.9h-0.9zM156.89 215.78h0.9v0.9h-0.9zM153.41 225.30h0.9v0.9h-0.9zM155.65 228.77h0.9v0.9h-0.9zM156.44 224.62h0.9v0.9h-0.9zM153.78 220.51h0.9v0.9h-0.9zM154.35 220.21h0.9v0.9h-0.9zM154.50 228.19h0.9v0.9h-0.9zM156.86 220.20h0.9v0.9h-0.9zM155.33 219.87h0.9v0.9h-0.9zM155.39 221.88h0.9v0.9h-0.9zM155.37 224.05h0.9v0.9h-0.9zM154.91 220.61h0.9v0.9h-0.9zM157.16 216.71h0.9v0.9h-0.9zM155.84 235.75h0.9v0.9h-0.9zM156.88 225.24h0.9v0.9h-0.9zM155.91 220.18h0.9v0.9h-0.9zM156.02 226.58h0.9v0.9h-0.9zM155.66 238.48h0.9v0.9h-0.9zM157.16 219.61h0.9v0.9h-0.9zM153.73 220.81h0.9v0.9h-0.9zM153.82 221.15h0.9v0.9h-0.9zM156.15 221.03h0.9v0.9h-0.9zM153.38 219.32h0.9v0.9h-0.9zM155.97 214.25h0.9v0.9h-0.9zM153.07 222.68h0.9v0.9h-0.9zM154.84 226.23h0.9v0.9h-0.9zM155.27 233.62h0.9v0.9h-0.9zM156.39 216.00h0.9v0.9h-0.9zM156.00 227.13h0.9v0.9h-0.9zM153.84 225.36h0.9v0.9h-0.9zM155.64 234.09h0.9v0.9h-0.9zM157.71 217.43h0.9v0.9h-0.9zM154.88 212.03h0.9v0.9h-0.9zM156.56 223.64h0.9v0.9h-0.9zM157.00 218.92h0.9v0.9h-0.9zM155.77 209.79h0.9v0.9h-0.9zM155.23 220.56h0.9v0.9h-0.9zM156.73 215.36h0.9v0.9h-0.9zM156.63 228.27h0.9v0.9h-0.9zM153.63 220.04h0.9v0.9h-0.9zM155.69 218.82h0.9v0.9h-0.9zM153.36 222.64h0.9v0.9h-0.9zM153.73 226.04h0.9v0.9h-0.9zM157.09 220.80h0.9v0.9h-0.9zM154.52 218.00h0.9v0.9h-0.9zM154.84 218.03h0.9v0.9h-0.9zM154.82 226.99h0.9v0.9h-0.9zM152.91 221.96h0.9v0.9h-0.9zM152.89 224.74h0.9v0.9h-0.9zM157.58 217.77h0.9v0.9h-0.9zM152.97 222.08h0.9v0.9h-0.9zM153.41 225.41h0.9v0.9h-0.9zM155.37 219.87h0.9v0.9h-0.9zM154.72 218.46h0.9v0.9h-0.9zM155.85 234.70h0.9v0.9h-0.9zM157.09 223.54h0.9v0.9h-0.9zM152.96 219.83h0.9v0.9h-0.9zM156.32 219.30h0.9v0.9h-0.9zM155.46 212.54h0.9v0.9h-0.9zM155.55 222.69h0.9v0.9h-0.9zM154.19 218.82h0.9v0.9h-0.9zM155.71 223.52h0.9v0.9h-0.9zM155.85 222.86h0.9v0.9h-0.9zM156.82 214.50h0.9v0.9h-0.9zM154.49 224.07h0.9v0.9h-0.9zM157.09 215.46h0.9v0.9h-0.9zM154.52 219.92h0.9v0.9h-0.9zM156.38 223.26h0.9v0.9h-0.9zM155.96 228.22h0.9v0.9h-0.9zM155.16 222.52h0.9v0.9h-0.9zM156.49 216.10h0.9v0.9h-0.9zM155.95 220.53h0.9v0.9h-0.9zM156.89 223.79h0.9v0.9h-0.9zM157.31 221.64h0.9v0.9h-0.9zM154.23 229.29h0.9v0.9h-0.9zM154.55 225.46h0.9v0.9h-0.9zM157.46 226.03h0.9v0.9h-0.9zM156.01 221.44h0.9v0.9h-0.9zM154.06 227.85h0.9v0.9h-0.9zM154.90 233.63h0.9v0.9h-0.9zM155.25 220.63h0.9v0.9h-0.9zM154.91 221.83h0.9v0.9h-0.9zM156.93 226.60h0.9v0.9h-0.9zM156.75 220.06h0.9v0.9h-0.9zM154.39 218.33h0.9v0.9h-0.9zM155.37 215.74h0.9v0.9h-0.9zM154.52 226.05h0.9v0.9h-0.9zM155.05 208.11h0.9v0.9h-0.9zM155.13 210.87h0.9v0.9h-0.9zM153.14 223.81h0.9v0.9h-0.9zM154.96 221.72h0.9v0.9h-0.9zM157.58 225.63h0.9v0.9h-0.9zM156.59 214.80h0.9v0.9h-0.9zM154.78 218.10h0.9v0.9h-0.9zM153.18 221.03h0.9v0.9h-0.9zM155.50 228.63h0.9v0.9h-0.9zM154.89 217.34h0.9v0.9h-0.9zM153.45 225.73h0.9v0.9h-0.9zM155.84 220.49h0.9v0.9h-0.9zM154.55 212.46h0.9v0.9h-0.9zM156.59 213.17h0.9v0.9h-0.9zM155.61 231.59h0.9v0.9h-0.9zM154.25 224.52h0.9v0.9h-0.9zM156.36 229.91h0.9v0.9h-0.9zM154.17 216.96h0.9v0.9h-0.9zM154.39 217.14h0.9v0.9h-0.9zM156.65 219.24h0.9v0.9h-0.9zM155.56 218.14h0.9v0.9h-0.9zM157.46 218.49h0.9v0.9h-0.9zM157.65 216.96h0.9v0.9h-0.9zM155.58 227.12h0.9v0.9h-0.9zM156.48 222.58h0.9v0.9h-0.9zM155.27 228.54h0.9v0.9h-0.9zM156.02 220.16h0.9v0.9h-0.9zM156.68 213.76h0.9v0.9h-0.9zM152.92 219.89h0.9v0.9h-0.9zM153.28 217.09h0.9v0.9h-0.9zM156.36 228.78h0.9v0.9h-0.9zM154.04 222.97h0.9v0.9h-0.9zM156.37 218.87h0.9v0.9h-0.9zM155.49 224.03h0.9v0.9h-0.9zM155.77 217.98h0.9v0.9h-0.9zM155.57 241.98h0.9v0.9h-0.9zM155.15 241.85h0.9v0.9h-0.9zM155.26 222.03h0.9v0.9h-0.9zM155.40 206.51h0.9v0.9h-0.9zM155.70 233.77h0.9v0.9h-0.9zM155.17 199.40h0.9v0.9h-0.9zM155.70 220.98h0.9v0.9h-0.9zM155.62 205.97h0.9v0.9h-0.9zM155.39 216.62h0.9v0.9h-0.9zM155.00 240.77h0.9v0.9h-0.9zM155.07 213.54h0.9v0.9h-0.9zM155.41 230.43h0.9v0.9h-0.9zM155.59 204.09h0.9v0.9h-0.9zM155.06 221.63h0.9v0.9h-0.9zM155.61 235.88h0.9v0.9h-0.9zM155.70 208.41h0.9v0.9h-0.9z" fill="#000" fill-opacity="0.9"/>
<path d="M173.80 221.00 L176.60 224.80 L181.80 226.30 L176.60 227.80 L173.80 232.80 L171.00 227.80 L165.80 226.30 L171.00 224.80Z" fill="none" stroke="#b060a8" stroke-width="0.6"/>
<path d="M173.68 224.15h0.8v0.8h-0.8zM175.51 223.76h0.8v0.8h-0.8zM173.62 225.94h0.8v0.8h-0.8zM173.59 224.61h0.8v0.8h-0.8zM171.92 221.86h0.8v0.8h-0.8zM173.31 228.74h0.8v0.8h-0.8zM171.36 229.53h0.8v0.8h-0.8zM174.87 224.01h0.8v0.8h-0.8zM171.53 223.41h0.8v0.8h-0.8zM173.06 223.55h0.8v0.8h-0.8zM174.71 225.86h0.8v0.8h-0.8zM174.96 230.08h0.8v0.8h-0.8zM172.90 227.73h0.8v0.8h-0.8zM171.92 224.34h0.8v0.8h-0.8zM174.66 229.90h0.8v0.8h-0.8zM172.51 226.18h0.8v0.8h-0.8zM173.89 228.02h0.8v0.8h-0.8zM172.23 226.39h0.8v0.8h-0.8zM172.83 226.65h0.8v0.8h-0.8zM174.00 228.23h0.8v0.8h-0.8zM172.97 227.29h0.8v0.8h-0.8zM174.18 230.69h0.8v0.8h-0.8zM174.25 229.89h0.8v0.8h-0.8zM173.80 227.99h0.8v0.8h-0.8zM171.57 222.54h0.8v0.8h-0.8zM174.02 222.96h0.8v0.8h-0.8zM173.59 228.77h0.8v0.8h-0.8zM175.25 226.18h0.8v0.8h-0.8zM171.61 224.65h0.8v0.8h-0.8zM174.12 224.92h0.8v0.8h-0.8zM173.17 228.16h0.8v0.8h-0.8zM173.35 228.41h0.8v0.8h-0.8zM173.01 223.68h0.8v0.8h-0.8zM174.38 228.22h0.8v0.8h-0.8zM172.38 222.46h0.8v0.8h-0.8zM175.59 226.28h0.8v0.8h-0.8zM172.11 222.32h0.8v0.8h-0.8zM173.92 227.19h0.8v0.8h-0.8zM173.37 224.03h0.8v0.8h-0.8zM171.60 227.39h0.8v0.8h-0.8zM174.02 225.83h0.8v0.8h-0.8zM174.60 228.74h0.8v0.8h-0.8zM171.92 225.68h0.8v0.8h-0.8zM174.19 230.02h0.8v0.8h-0.8zM174.47 223.95h0.8v0.8h-0.8zM173.26 229.09h0.8v0.8h-0.8zM172.64 224.43h0.8v0.8h-0.8zM173.32 223.28h0.8v0.8h-0.8zM173.79 222.51h0.8v0.8h-0.8zM172.20 231.83h0.8v0.8h-0.8zM172.87 229.16h0.8v0.8h-0.8zM173.27 227.61h0.8v0.8h-0.8zM172.69 229.92h0.8v0.8h-0.8zM172.62 228.20h0.8v0.8h-0.8zM173.39 226.62h0.8v0.8h-0.8zM171.81 229.31h0.8v0.8h-0.8zM174.80 221.67h0.8v0.8h-0.8zM175.11 227.11h0.8v0.8h-0.8zM173.61 222.67h0.8v0.8h-0.8zM175.18 227.79h0.8v0.8h-0.8zM172.95 225.73h0.8v0.8h-0.8zM173.30 228.14h0.8v0.8h-0.8zM174.17 223.55h0.8v0.8h-0.8zM174.80 222.79h0.8v0.8h-0.8zM173.07 224.37h0.8v0.8h-0.8zM174.55 227.04h0.8v0.8h-0.8zM172.41 227.52h0.8v0.8h-0.8zM174.48 224.16h0.8v0.8h-0.8zM172.75 225.54h0.8v0.8h-0.8zM174.57 228.58h0.8v0.8h-0.8zM172.69 222.53h0.8v0.8h-0.8zM173.76 223.73h0.8v0.8h-0.8zM174.52 224.41h0.8v0.8h-0.8zM172.74 228.85h0.8v0.8h-0.8zM173.98 225.06h0.8v0.8h-0.8zM172.36 226.52h0.8v0.8h-0.8zM173.99 230.51h0.8v0.8h-0.8zM173.61 224.39h0.8v0.8h-0.8zM172.14 222.51h0.8v0.8h-0.8zM173.77 224.98h0.8v0.8h-0.8zM172.61 226.21h0.8v0.8h-0.8zM171.68 221.65h0.8v0.8h-0.8zM173.78 230.80h0.8v0.8h-0.8zM174.62 223.44h0.8v0.8h-0.8zM172.98 227.56h0.8v0.8h-0.8zM174.57 224.02h0.8v0.8h-0.8zM175.08 226.91h0.8v0.8h-0.8zM172.80 227.01h0.8v0.8h-0.8zM172.68 224.06h0.8v0.8h-0.8zM173.66 226.68h0.8v0.8h-0.8zM173.86 227.76h0.8v0.8h-0.8zM173.19 222.68h0.8v0.8h-0.8zM173.89 223.01h0.8v0.8h-0.8zM172.81 221.86h0.8v0.8h-0.8zM172.77 223.27h0.8v0.8h-0.8zM174.95 225.11h0.8v0.8h-0.8zM171.93 225.12h0.8v0.8h-0.8zM174.17 224.97h0.8v0.8h-0.8zM173.65 227.60h0.8v0.8h-0.8zM173.49 229.36h0.8v0.8h-0.8zM172.05 229.69h0.8v0.8h-0.8zM172.53 225.37h0.8v0.8h-0.8zM175.03 226.45h0.8v0.8h-0.8zM175.00 224.36h0.8v0.8h-0.8zM174.84 222.72h0.8v0.8h-0.8zM174.42 223.29h0.8v0.8h-0.8zM173.55 225.62h0.8v0.8h-0.8zM173.59 225.86h0.8v0.8h-0.8zM172.40 225.35h0.8v0.8h-0.8zM173.51 225.01h0.8v0.8h-0.8zM173.88 223.14h0.8v0.8h-0.8zM171.72 231.31h0.8v0.8h-0.8zM173.11 224.23h0.8v0.8h-0.8zM173.50 225.96h0.8v0.8h-0.8zM173.37 223.68h0.8v0.8h-0.8zM173.31 225.92h0.8v0.8h-0.8zM173.53 230.63h0.8v0.8h-0.8zM171.80 221.37h0.8v0.8h-0.8zM173.05 227.72h0.8v0.8h-0.8zM172.02 224.00h0.8v0.8h-0.8zM173.31 224.95h0.8v0.8h-0.8zM173.04 223.79h0.8v0.8h-0.8zM174.20 228.62h0.8v0.8h-0.8zM173.22 227.58h0.8v0.8h-0.8zM174.19 221.73h0.8v0.8h-0.8zM174.70 230.49h0.8v0.8h-0.8zM173.68 229.47h0.8v0.8h-0.8zM173.39 227.05h0.8v0.8h-0.8zM173.13 229.75h0.8v0.8h-0.8zM173.08 228.32h0.8v0.8h-0.8zM171.78 225.90h0.8v0.8h-0.8zM173.10 223.62h0.8v0.8h-0.8zM174.34 223.40h0.8v0.8h-0.8zM173.10 226.14h0.8v0.8h-0.8zM171.37 227.82h0.8v0.8h-0.8zM175.37 228.80h0.8v0.8h-0.8zM173.34 226.81h0.8v0.8h-0.8zM174.08 226.39h0.8v0.8h-0.8zM173.52 224.40h0.8v0.8h-0.8zM173.04 227.45h0.8v0.8h-0.8zM173.74 227.10h0.8v0.8h-0.8zM172.39 228.09h0.8v0.8h-0.8zM172.97 224.26h0.8v0.8h-0.8zM173.65 229.58h0.8v0.8h-0.8zM175.35 221.93h0.8v0.8h-0.8zM172.10 226.95h0.8v0.8h-0.8zM173.54 223.07h0.8v0.8h-0.8zM175.03 230.33h0.8v0.8h-0.8zM173.10 224.77h0.8v0.8h-0.8zM172.41 231.86h0.8v0.8h-0.8zM173.74 230.76h0.8v0.8h-0.8zM174.70 226.19h0.8v0.8h-0.8zM172.56 227.40h0.8v0.8h-0.8zM173.42 221.17h0.8v0.8h-0.8zM174.78 227.49h0.8v0.8h-0.8zM174.03 230.02h0.8v0.8h-0.8zM174.21 230.56h0.8v0.8h-0.8zM173.84 226.56h0.8v0.8h-0.8zM172.76 227.12h0.8v0.8h-0.8zM173.53 225.55h0.8v0.8h-0.8zM171.91 224.52h0.8v0.8h-0.8zM173.91 221.46h0.8v0.8h-0.8zM173.51 227.50h0.8v0.8h-0.8zM174.27 222.31h0.8v0.8h-0.8zM171.28 224.70h0.8v0.8h-0.8zM171.88 230.71h0.8v0.8h-0.8zM172.96 227.56h0.8v0.8h-0.8zM174.91 223.74h0.8v0.8h-0.8zM173.66 230.08h0.8v0.8h-0.8zM173.11 224.72h0.8v0.8h-0.8zM173.27 227.34h0.8v0.8h-0.8zM171.75 226.97h0.8v0.8h-0.8zM174.85 223.90h0.8v0.8h-0.8zM174.33 221.39h0.8v0.8h-0.8zM171.98 227.90h0.8v0.8h-0.8zM171.51 229.73h0.8v0.8h-0.8zM172.98 226.94h0.8v0.8h-0.8zM174.60 229.71h0.8v0.8h-0.8zM175.23 226.49h0.8v0.8h-0.8zM172.91 228.92h0.8v0.8h-0.8zM173.82 224.65h0.8v0.8h-0.8zM172.92 225.54h0.8v0.8h-0.8zM173.28 225.45h0.8v0.8h-0.8zM172.88 228.95h0.8v0.8h-0.8zM173.36 222.60h0.8v0.8h-0.8zM174.14 226.67h0.8v0.8h-0.8zM173.95 224.72h0.8v0.8h-0.8zM175.12 226.34h0.8v0.8h-0.8zM173.55 225.73h0.8v0.8h-0.8zM174.64 227.64h0.8v0.8h-0.8zM172.92 223.06h0.8v0.8h-0.8zM171.23 225.05h0.8v0.8h-0.8zM174.49 229.91h0.8v0.8h-0.8zM175.46 229.82h0.8v0.8h-0.8zM174.32 230.74h0.8v0.8h-0.8zM174.96 221.54h0.8v0.8h-0.8zM172.18 227.20h0.8v0.8h-0.8zM174.17 226.06h0.8v0.8h-0.8zM173.58 228.93h0.8v0.8h-0.8zM174.18 224.29h0.8v0.8h-0.8zM173.32 223.56h0.8v0.8h-0.8zM171.93 228.25h0.8v0.8h-0.8zM171.40 227.06h0.8v0.8h-0.8zM172.14 223.04h0.8v0.8h-0.8zM174.13 225.62h0.8v0.8h-0.8zM174.33 225.74h0.8v0.8h-0.8zM173.19 226.20h0.8v0.8h-0.8zM173.16 227.42h0.8v0.8h-0.8zM174.46 226.32h0.8v0.8h-0.8zM174.58 224.14h0.8v0.8h-0.8zM173.18 222.49h0.8v0.8h-0.8zM175.01 224.25h0.8v0.8h-0.8zM174.69 227.01h0.8v0.8h-0.8zM172.38 221.33h0.8v0.8h-0.8zM174.24 227.35h0.8v0.8h-0.8zM171.71 228.50h0.8v0.8h-0.8zM173.33 227.49h0.8v0.8h-0.8zM173.88 226.28h0.8v0.8h-0.8zM171.69 225.03h0.8v0.8h-0.8zM171.94 222.58h0.8v0.8h-0.8zM173.26 221.81h0.8v0.8h-0.8zM172.68 229.97h0.8v0.8h-0.8zM172.24 223.52h0.8v0.8h-0.8zM172.90 226.11h0.8v0.8h-0.8zM172.42 225.16h0.8v0.8h-0.8zM172.17 227.40h0.8v0.8h-0.8zM172.72 227.60h0.8v0.8h-0.8zM172.49 228.33h0.8v0.8h-0.8zM173.85 227.27h0.8v0.8h-0.8zM175.07 225.66h0.8v0.8h-0.8zM172.49 226.44h0.8v0.8h-0.8zM172.56 228.04h0.8v0.8h-0.8zM173.41 224.23h0.8v0.8h-0.8zM175.14 226.46h0.8v0.8h-0.8zM174.54 225.10h0.8v0.8h-0.8zM173.73 225.40h0.8v0.8h-0.8zM172.15 230.66h0.8v0.8h-0.8zM174.20 226.04h0.8v0.8h-0.8zM171.62 224.07h0.8v0.8h-0.8zM173.60 222.79h0.8v0.8h-0.8zM175.27 226.49h0.8v0.8h-0.8zM171.83 230.04h0.8v0.8h-0.8zM174.33 229.13h0.8v0.8h-0.8zM173.25 230.95h0.8v0.8h-0.8zM173.55 224.17h0.8v0.8h-0.8zM174.03 230.72h0.8v0.8h-0.8zM174.20 231.19h0.8v0.8h-0.8zM172.37 224.07h0.8v0.8h-0.8zM171.86 231.67h0.8v0.8h-0.8zM173.08 224.81h0.8v0.8h-0.8zM172.82 223.06h0.8v0.8h-0.8zM175.81 225.92h0.8v0.8h-0.8zM172.87 225.70h0.8v0.8h-0.8zM174.35 226.29h0.8v0.8h-0.8zM172.99 223.36h0.8v0.8h-0.8zM174.10 228.07h0.8v0.8h-0.8zM172.17 230.54h0.8v0.8h-0.8zM173.12 228.62h0.8v0.8h-0.8zM173.09 224.68h0.8v0.8h-0.8zM174.18 222.12h0.8v0.8h-0.8zM172.67 224.01h0.8v0.8h-0.8zM173.51 227.51h0.8v0.8h-0.8zM173.16 224.08h0.8v0.8h-0.8zM174.77 224.37h0.8v0.8h-0.8zM172.66 229.03h0.8v0.8h-0.8zM174.79 225.78h0.8v0.8h-0.8zM175.21 225.00h0.8v0.8h-0.8zM174.08 227.29h0.8v0.8h-0.8zM173.75 228.53h0.8v0.8h-0.8zM173.89 227.70h0.8v0.8h-0.8zM172.88 227.53h0.8v0.8h-0.8zM173.46 228.69h0.8v0.8h-0.8zM172.36 222.65h0.8v0.8h-0.8zM173.74 226.40h0.8v0.8h-0.8zM173.39 229.16h0.8v0.8h-0.8zM173.15 221.12h0.8v0.8h-0.8zM173.97 224.03h0.8v0.8h-0.8zM175.04 230.30h0.8v0.8h-0.8zM174.66 222.75h0.8v0.8h-0.8zM173.71 222.10h0.8v0.8h-0.8zM174.03 226.43h0.8v0.8h-0.8zM174.76 223.40h0.8v0.8h-0.8zM173.38 225.69h0.8v0.8h-0.8zM172.32 225.07h0.8v0.8h-0.8zM173.74 228.15h0.8v0.8h-0.8zM175.30 227.32h0.8v0.8h-0.8zM173.11 223.19h0.8v0.8h-0.8zM174.27 225.92h0.8v0.8h-0.8zM174.35 225.34h0.8v0.8h-0.8zM171.61 227.33h0.8v0.8h-0.8zM171.33 223.77h0.8v0.8h-0.8zM172.98 225.01h0.8v0.8h-0.8zM173.57 227.74h0.8v0.8h-0.8zM174.69 225.70h0.8v0.8h-0.8zM172.15 227.76h0.8v0.8h-0.8zM173.73 223.75h0.8v0.8h-0.8zM173.20 231.22h0.8v0.8h-0.8zM173.67 225.37h0.8v0.8h-0.8zM173.31 228.35h0.8v0.8h-0.8zM172.97 226.82h0.8v0.8h-0.8zM172.59 224.18h0.8v0.8h-0.8zM172.83 227.96h0.8v0.8h-0.8zM173.81 227.62h0.8v0.8h-0.8zM172.16 222.88h0.8v0.8h-0.8zM174.22 225.39h0.8v0.8h-0.8zM174.79 230.70h0.8v0.8h-0.8zM173.00 227.09h0.8v0.8h-0.8zM171.17 227.56h0.8v0.8h-0.8zM173.41 228.79h0.8v0.8h-0.8zM172.34 227.82h0.8v0.8h-0.8zM172.74 222.50h0.8v0.8h-0.8zM173.76 225.77h0.8v0.8h-0.8zM173.76 224.80h0.8v0.8h-0.8zM172.21 228.02h0.8v0.8h-0.8zM171.80 225.58h0.8v0.8h-0.8zM174.33 224.20h0.8v0.8h-0.8zM175.31 223.68h0.8v0.8h-0.8zM174.31 227.47h0.8v0.8h-0.8zM174.29 226.22h0.8v0.8h-0.8zM173.51 229.30h0.8v0.8h-0.8zM172.84 224.25h0.8v0.8h-0.8zM172.93 225.33h0.8v0.8h-0.8zM171.68 223.69h0.8v0.8h-0.8zM173.73 224.34h0.8v0.8h-0.8zM172.63 224.38h0.8v0.8h-0.8zM173.87 227.18h0.8v0.8h-0.8zM173.71 224.54h0.8v0.8h-0.8zM174.28 222.86h0.8v0.8h-0.8zM173.06 222.82h0.8v0.8h-0.8zM172.97 226.33h0.8v0.8h-0.8zM175.54 222.32h0.8v0.8h-0.8zM171.62 230.64h0.8v0.8h-0.8zM172.11 226.28h0.8v0.8h-0.8zM172.07 226.88h0.8v0.8h-0.8zM173.94 227.72h0.8v0.8h-0.8zM174.63 231.24h0.8v0.8h-0.8zM174.37 224.47h0.8v0.8h-0.8zM173.28 224.47h0.8v0.8h-0.8zM171.60 224.34h0.8v0.8h-0.8zM171.32 227.79h0.8v0.8h-0.8zM173.94 225.16h0.8v0.8h-0.8zM171.79 226.26h0.8v0.8h-0.8zM174.10 223.87h0.8v0.8h-0.8zM175.03 229.34h0.8v0.8h-0.8zM172.91 227.33h0.8v0.8h-0.8zM171.67 228.28h0.8v0.8h-0.8zM174.13 225.46h0.8v0.8h-0.8zM173.03 223.89h0.8v0.8h-0.8zM174.54 222.85h0.8v0.8h-0.8zM172.46 221.77h0.8v0.8h-0.8zM173.08 224.87h0.8v0.8h-0.8zM172.55 226.76h0.8v0.8h-0.8zM173.75 227.72h0.8v0.8h-0.8zM173.33 226.78h0.8v0.8h-0.8zM172.20 227.35h0.8v0.8h-0.8zM172.96 222.14h0.8v0.8h-0.8zM174.12 222.45h0.8v0.8h-0.8zM173.86 229.75h0.8v0.8h-0.8zM172.70 226.95h0.8v0.8h-0.8zM173.96 221.85h0.8v0.8h-0.8zM173.71 221.29h0.8v0.8h-0.8zM174.17 225.46h0.8v0.8h-0.8zM173.51 226.06h0.8v0.8h-0.8zM171.63 224.09h0.8v0.8h-0.8zM174.11 224.83h0.8v0.8h-0.8zM174.81 229.16h0.8v0.8h-0.8zM172.44 222.80h0.8v0.8h-0.8zM172.93 228.09h0.8v0.8h-0.8zM171.85 226.88h0.8v0.8h-0.8zM175.01 224.17h0.8v0.8h-0.8zM171.98 226.38h0.8v0.8h-0.8zM172.94 230.89h0.8v0.8h-0.8zM171.65 222.69h0.8v0.8h-0.8zM175.64 224.42h0.8v0.8h-0.8zM173.13 226.21h0.8v0.8h-0.8zM173.75 222.28h0.8v0.8h-0.8zM172.53 224.43h0.8v0.8h-0.8zM173.85 230.21h0.8v0.8h-0.8zM174.92 223.13h0.8v0.8h-0.8zM173.92 225.73h0.8v0.8h-0.8zM174.61 226.36h0.8v0.8h-0.8zM173.04 227.82h0.8v0.8h-0.8zM173.00 228.14h0.8v0.8h-0.8zM175.08 226.32h0.8v0.8h-0.8zM172.34 222.59h0.8v0.8h-0.8zM172.89 224.65h0.8v0.8h-0.8zM171.77 229.96h0.8v0.8h-0.8zM172.94 230.86h0.8v0.8h-0.8zM173.03 226.48h0.8v0.8h-0.8zM174.08 228.00h0.8v0.8h-0.8zM174.18 228.25h0.8v0.8h-0.8zM174.12 225.37h0.8v0.8h-0.8zM173.44 225.32h0.8v0.8h-0.8zM173.35 226.59h0.8v0.8h-0.8zM172.53 226.98h0.8v0.8h-0.8zM172.78 225.42h0.8v0.8h-0.8zM172.67 222.26h0.8v0.8h-0.8zM173.25 224.35h0.8v0.8h-0.8zM172.24 225.10h0.8v0.8h-0.8zM173.59 223.34h0.8v0.8h-0.8zM173.69 229.37h0.8v0.8h-0.8zM172.95 224.37h0.8v0.8h-0.8zM171.74 230.09h0.8v0.8h-0.8zM171.86 229.47h0.8v0.8h-0.8zM173.45 223.92h0.8v0.8h-0.8zM175.10 225.21h0.8v0.8h-0.8zM173.35 227.45h0.8v0.8h-0.8zM173.44 228.89h0.8v0.8h-0.8zM174.55 223.38h0.8v0.8h-0.8z" fill="#000" fill-opacity="0.85"/>
<line x1="146.00" y1="194.70" x2="146.00" y2="258.00" stroke="#000" stroke-width="1" />
<line x1="145.50" y1="258.00" x2="184.10" y2="258.00" stroke="#000" stroke-width="1" />
<line x1="142.30" y1="197.20" x2="146.00" y2="197.20" stroke="#000" stroke-width="0.8" />
<text x="139.80" y="199.40" font-size="6.0" fill="#222" text-anchor="end" >10</text>
<line x1="142.30" y1="211.70" x2="146.00" y2="211.70" stroke="#000" stroke-width="0.8" />
<text x="139.80" y="213.90" font-size="6.0" fill="#222" text-anchor="end" >5</text>
<line x1="142.30" y1="226.20" x2="146.00" y2="226.20" stroke="#000" stroke-width="0.8" />
<text x="139.80" y="228.40" font-size="6.0" fill="#222" text-anchor="end" >0</text>
<line x1="142.30" y1="240.70" x2="146.00" y2="240.70" stroke="#000" stroke-width="0.8" />
<text x="139.80" y="242.90" font-size="6.0" fill="#222" text-anchor="end" >−5</text>
<line x1="142.30" y1="255.20" x2="146.00" y2="255.20" stroke="#000" stroke-width="0.8" />
<text x="139.80" y="257.40" font-size="6.0" fill="#222" text-anchor="end" >−10</text>
<line x1="155.80" y1="258.00" x2="155.80" y2="260.30" stroke="#000" stroke-width="0.8" />
<line x1="173.80" y1="258.00" x2="173.80" y2="260.30" stroke="#000" stroke-width="0.8" />
<text x="123.90" y="225.70" font-size="6.7" fill="#1a1a1a" text-anchor="middle" textLength="42.60" lengthAdjust="spacingAndGlyphs" transform="rotate(-90 123.90 225.70)" stroke="#1a1a1a" stroke-width="0.25">Log2 fold change</text>
<text x="156.50" y="190.80" font-size="6.7" fill="#1a1a1a" textLength="26.00" lengthAdjust="spacingAndGlyphs" transform="rotate(-45 156.50 190.80)" >CLL/NBC</text>
<text x="174.80" y="187.20" font-size="5.9" fill="#1a1a1a" textLength="21.00" lengthAdjust="spacingAndGlyphs" transform="rotate(-45 174.80 187.20)" >ibrutinib/</text>
<text x="178.50" y="191.50" font-size="5.9" fill="#1a1a1a" textLength="21.50" lengthAdjust="spacingAndGlyphs" transform="rotate(-45 178.50 191.50)" >baseline</text>
<text x="159.20" y="266.40" font-size="6.4" fill="#1a1a1a" text-anchor="end" textLength="10.50" lengthAdjust="spacingAndGlyphs" transform="rotate(-45 159.20 266.40)" >CLL</text>
<text x="177.00" y="266.20" font-size="6.0" fill="#1a1a1a" text-anchor="end" textLength="20.50" lengthAdjust="spacingAndGlyphs" transform="rotate(-45 177.00 266.20)" >ibrutinib</text>
<text x="126.80" y="291.20" font-size="5.8" fill="#222" textLength="58.40" lengthAdjust="spacingAndGlyphs" >Genes associated with</text>
<text x="126.80" y="298.50" font-size="5.8" fill="#222" textLength="69.50" lengthAdjust="spacingAndGlyphs" >increased enhancer activity</text>
<text x="256.40" y="63.70" font-size="8.5" fill="#1a1a1a" text-anchor="middle" textLength="11.20" lengthAdjust="spacingAndGlyphs" >IL6</text>
<text x="222.60" y="93.20" font-size="7.0" fill="#1a1a1a" text-anchor="middle" textLength="45.00" lengthAdjust="spacingAndGlyphs" transform="rotate(-90 222.60 93.20)" stroke="#1a1a1a" stroke-width="0.25">Normalized counts</text>
<rect x="247.30" y="96.80" width="8.30" height="17.40" fill="#f5a3c6" />
<line x1="247.30" y1="96.90" x2="255.60" y2="96.90" stroke="#f08cb8" stroke-width="0.6" />
<line x1="250.60" y1="93.10" x2="250.60" y2="101.40" stroke="#7a4a60" stroke-width="0.8" />
<line x1="248.90" y1="93.10" x2="252.30" y2="93.10" stroke="#7a4a60" stroke-width="0.8" />
<line x1="248.90" y1="101.40" x2="252.30" y2="101.40" stroke="#7a4a60" stroke-width="0.6" />
<circle cx="250.6" cy="83.6" r="0.75" fill="#e4508f"/>
<circle cx="250.6" cy="89" r="0.75" fill="#e4508f"/>
<circle cx="250.4" cy="104.6" r="0.75" fill="#e4508f"/>
<circle cx="252.4" cy="104.6" r="0.75" fill="#e4508f"/>
<circle cx="250.6" cy="108.9" r="0.75" fill="#e4508f"/>
<line x1="258.80" y1="113.40" x2="266.60" y2="113.40" stroke="#f06aa6" stroke-width="1.0" />
<circle cx="262.4" cy="113.2" r="0.7" fill="#e4508f"/>
<line x1="250.10" y1="77.00" x2="262.40" y2="77.00" stroke="#555" stroke-width="0.7" />
<line x1="250.10" y1="77.00" x2="250.10" y2="80.20" stroke="#555" stroke-width="0.7" />
<line x1="262.40" y1="77.00" x2="262.40" y2="112.30" stroke="#999" stroke-width="0.8" />
<text x="256.30" y="77.50" font-size="6.3" fill="#222" text-anchor="middle" >**</text>
<line x1="243.20" y1="72.60" x2="243.20" y2="114.70" stroke="#000" stroke-width="1" />
<line x1="242.70" y1="114.20" x2="270.50" y2="114.20" stroke="#000" stroke-width="1" />
<line x1="239.40" y1="74.30" x2="243.20" y2="74.30" stroke="#000" stroke-width="0.8" />
<text x="237.30" y="76.50" font-size="6.3" fill="#222" text-anchor="end" >400</text>
<line x1="239.40" y1="84.30" x2="243.20" y2="84.30" stroke="#000" stroke-width="0.8" />
<text x="237.30" y="86.50" font-size="6.3" fill="#222" text-anchor="end" >300</text>
<line x1="239.40" y1="94.30" x2="243.20" y2="94.30" stroke="#000" stroke-width="0.8" />
<text x="237.30" y="96.50" font-size="6.3" fill="#222" text-anchor="end" >200</text>
<line x1="239.40" y1="104.30" x2="243.20" y2="104.30" stroke="#000" stroke-width="0.8" />
<text x="237.30" y="106.50" font-size="6.3" fill="#222" text-anchor="end" >100</text>
<line x1="239.40" y1="114.20" x2="243.20" y2="114.20" stroke="#000" stroke-width="0.8" />
<text x="237.30" y="116.40" font-size="6.3" fill="#222" text-anchor="end" >0</text>
<line x1="250.60" y1="114.20" x2="250.60" y2="116.50" stroke="#000" stroke-width="0.8" />
<line x1="262.40" y1="114.20" x2="262.40" y2="116.50" stroke="#000" stroke-width="0.8" />
<text x="253.90" y="123.00" font-size="6.5" fill="#1a1a1a" text-anchor="end" textLength="13.00" lengthAdjust="spacingAndGlyphs" transform="rotate(-45 253.90 123.00)" >NBC</text>
<text x="264.90" y="123.00" font-size="6.5" fill="#1a1a1a" text-anchor="end" textLength="10.50" lengthAdjust="spacingAndGlyphs" transform="rotate(-45 264.90 123.00)" >CLL</text>
<text x="256.00" y="203.40" font-size="8.5" fill="#1a1a1a" text-anchor="middle" textLength="17.50" lengthAdjust="spacingAndGlyphs" >LEF1</text>
<text x="217.80" y="233.20" font-size="7.0" fill="#1a1a1a" text-anchor="middle" textLength="45.00" lengthAdjust="spacingAndGlyphs" transform="rotate(-90 217.80 233.20)" stroke="#1a1a1a" stroke-width="0.25">Normalized counts</text>
<rect x="258.10" y="227.30" width="7.60" height="27.10" fill="#f5a3c6" />
<line x1="258.10" y1="227.40" x2="265.70" y2="227.40" stroke="#f08cb8" stroke-width="0.6" />
<line x1="261.90" y1="222.00" x2="261.90" y2="230.60" stroke="#7a4a60" stroke-width="0.8" />
<line x1="260.20" y1="222.00" x2="263.60" y2="222.00" stroke="#7a4a60" stroke-width="0.7" />
<line x1="260.20" y1="230.60" x2="263.60" y2="230.60" stroke="#7a4a60" stroke-width="0.6" />
<circle cx="259.0" cy="221.8" r="0.75" fill="#d83a78"/>
<circle cx="263.6" cy="221.8" r="0.75" fill="#d83a78"/>
<circle cx="262.0" cy="224.6" r="0.75" fill="#d83a78"/>
<circle cx="262.0" cy="228.8" r="0.75" fill="#d83a78"/>
<circle cx="262.4" cy="232.2" r="0.75" fill="#d83a78"/>
<circle cx="262.0" cy="235.6" r="0.75" fill="#d83a78"/>
<circle cx="262.0" cy="239.8" r="0.75" fill="#d83a78"/>
<line x1="247.00" y1="253.60" x2="254.60" y2="253.60" stroke="#c03070" stroke-width="0.9" />
<circle cx="248.0" cy="253.4" r="0.7" fill="#a02060"/>
<circle cx="250.0" cy="253.4" r="0.7" fill="#a02060"/>
<circle cx="251.5" cy="253.4" r="0.7" fill="#a02060"/>
<circle cx="253.5" cy="253.4" r="0.7" fill="#a02060"/>
<line x1="250.50" y1="217.50" x2="261.60" y2="217.50" stroke="#555" stroke-width="0.7" />
<line x1="250.50" y1="217.50" x2="250.50" y2="252.00" stroke="#666" stroke-width="0.7" />
<line x1="261.60" y1="217.50" x2="261.60" y2="221.00" stroke="#555" stroke-width="0.7" />
<text x="256.40" y="216.60" font-size="6.3" fill="#222" text-anchor="middle" >****</text>
<line x1="242.90" y1="211.50" x2="242.90" y2="254.90" stroke="#000" stroke-width="1" />
<line x1="242.40" y1="254.40" x2="270.20" y2="254.40" stroke="#000" stroke-width="1" />
<line x1="239.10" y1="214.00" x2="242.90" y2="214.00" stroke="#000" stroke-width="0.8" />
<text x="237.00" y="216.20" font-size="6.3" fill="#222" text-anchor="end" >4000</text>
<line x1="239.10" y1="224.10" x2="242.90" y2="224.10" stroke="#000" stroke-width="0.8" />
<text x="237.00" y="226.30" font-size="6.3" fill="#222" text-anchor="end" >3000</text>
<line x1="239.10" y1="234.20" x2="242.90" y2="234.20" stroke="#000" stroke-width="0.8" />
<text x="237.00" y="236.40" font-size="6.3" fill="#222" text-anchor="end" >2000</text>
<line x1="239.10" y1="244.30" x2="242.90" y2="244.30" stroke="#000" stroke-width="0.8" />
<text x="237.00" y="246.50" font-size="6.3" fill="#222" text-anchor="end" >1000</text>
<line x1="239.10" y1="254.40" x2="242.90" y2="254.40" stroke="#000" stroke-width="0.8" />
<text x="237.00" y="256.60" font-size="6.3" fill="#222" text-anchor="end" >0</text>
<line x1="250.60" y1="254.40" x2="250.60" y2="256.70" stroke="#000" stroke-width="0.8" />
<line x1="261.90" y1="254.40" x2="261.90" y2="256.70" stroke="#000" stroke-width="0.8" />
<text x="253.90" y="263.20" font-size="6.5" fill="#1a1a1a" text-anchor="end" textLength="13.00" lengthAdjust="spacingAndGlyphs" transform="rotate(-45 253.90 263.20)" >NBC</text>
<text x="264.40" y="263.20" font-size="6.5" fill="#1a1a1a" text-anchor="end" textLength="10.50" lengthAdjust="spacingAndGlyphs" transform="rotate(-45 264.40 263.20)" >CLL</text>
<text x="323.90" y="63.80" font-size="8.5" fill="#1a1a1a" text-anchor="middle" textLength="31.30" lengthAdjust="spacingAndGlyphs" >BTKi_IL6</text>
<text x="290.00" y="93.20" font-size="7.0" fill="#1a1a1a" text-anchor="middle" textLength="45.00" lengthAdjust="spacingAndGlyphs" transform="rotate(-90 290.00 93.20)" stroke="#1a1a1a" stroke-width="0.25">Normalized counts</text>
<line x1="318.40" y1="72.90" x2="329.80" y2="72.90" stroke="#555" stroke-width="0.7" />
<line x1="318.40" y1="72.90" x2="318.40" y2="75.50" stroke="#555" stroke-width="0.7" />
<line x1="329.80" y1="72.90" x2="329.80" y2="84.00" stroke="#555" stroke-width="0.7" />
<text x="324.10" y="70.90" font-size="6.3" fill="#222" text-anchor="middle" >ns</text>
<line x1="318.40" y1="77.30" x2="329.80" y2="85.90" stroke="#5a8a90" stroke-width="0.6" />
<line x1="318.40" y1="77.30" x2="329.80" y2="96.00" stroke="#e0609a" stroke-width="0.6" />
<line x1="318.40" y1="99.80" x2="329.80" y2="96.50" stroke="#5a8a90" stroke-width="0.6" />
<line x1="318.40" y1="109.30" x2="329.80" y2="85.90" stroke="#e0609a" stroke-width="0.6" />
<line x1="318.40" y1="109.30" x2="329.80" y2="99.00" stroke="#5a8a90" stroke-width="0.6" />
<line x1="318.40" y1="109.30" x2="329.80" y2="109.30" stroke="#d05090" stroke-width="0.6" />
<circle cx="318.4" cy="77.3" r="0.7" fill="#e0609a"/><circle cx="329.8" cy="85.9" r="0.7" fill="#e0609a"/>
<circle cx="318.4" cy="77.3" r="0.7" fill="#e0609a"/><circle cx="329.8" cy="96.0" r="0.7" fill="#e0609a"/>
<circle cx="318.4" cy="99.8" r="0.7" fill="#e0609a"/><circle cx="329.8" cy="96.5" r="0.7" fill="#e0609a"/>
<circle cx="318.4" cy="109.3" r="0.7" fill="#e0609a"/><circle cx="329.8" cy="85.9" r="0.7" fill="#e0609a"/>
<circle cx="318.4" cy="109.3" r="0.7" fill="#e0609a"/><circle cx="329.8" cy="99.0" r="0.7" fill="#e0609a"/>
<circle cx="318.4" cy="109.3" r="0.7" fill="#e0609a"/><circle cx="329.8" cy="109.3" r="0.7" fill="#e0609a"/>
<line x1="310.80" y1="72.00" x2="310.80" y2="114.80" stroke="#000" stroke-width="1" />
<line x1="310.30" y1="114.30" x2="332.70" y2="114.30" stroke="#000" stroke-width="1" />
<line x1="307.70" y1="74.30" x2="310.80" y2="74.30" stroke="#000" stroke-width="0.8" />
<text x="305.30" y="76.30" font-size="5.7" fill="#222" text-anchor="end" >128</text>
<line x1="307.70" y1="79.30" x2="310.80" y2="79.30" stroke="#000" stroke-width="0.8" />
<text x="305.30" y="81.30" font-size="5.7" fill="#222" text-anchor="end" >64</text>
<line x1="307.70" y1="84.30" x2="310.80" y2="84.30" stroke="#000" stroke-width="0.8" />
<text x="305.30" y="86.30" font-size="5.7" fill="#222" text-anchor="end" >32</text>
<line x1="307.70" y1="89.20" x2="310.80" y2="89.20" stroke="#000" stroke-width="0.8" />
<text x="305.30" y="91.20" font-size="5.7" fill="#222" text-anchor="end" >16</text>
<line x1="307.70" y1="94.20" x2="310.80" y2="94.20" stroke="#000" stroke-width="0.8" />
<text x="305.30" y="96.20" font-size="5.7" fill="#222" text-anchor="end" >8</text>
<line x1="307.70" y1="99.20" x2="310.80" y2="99.20" stroke="#000" stroke-width="0.8" />
<text x="305.30" y="101.20" font-size="5.7" fill="#222" text-anchor="end" >4</text>
<line x1="307.70" y1="104.20" x2="310.80" y2="104.20" stroke="#000" stroke-width="0.8" />
<text x="305.30" y="106.20" font-size="5.7" fill="#222" text-anchor="end" >2</text>
<line x1="307.70" y1="109.20" x2="310.80" y2="109.20" stroke="#000" stroke-width="0.8" />
<text x="305.30" y="111.20" font-size="5.7" fill="#222" text-anchor="end" >1</text>
<line x1="307.70" y1="114.30" x2="310.80" y2="114.30" stroke="#000" stroke-width="0.8" />
<text x="305.30" y="116.30" font-size="5.7" fill="#222" text-anchor="end" >0.5</text>
<line x1="318.40" y1="114.30" x2="318.40" y2="116.60" stroke="#000" stroke-width="0.8" />
<line x1="329.80" y1="114.30" x2="329.80" y2="116.60" stroke="#000" stroke-width="0.8" />
<text x="321.40" y="123.70" font-size="6.0" fill="#1a1a1a" text-anchor="end" textLength="20.50" lengthAdjust="spacingAndGlyphs" transform="rotate(-45 321.40 123.70)" >baseline</text>
<text x="332.20" y="124.30" font-size="6.0" fill="#1a1a1a" text-anchor="end" textLength="19.50" lengthAdjust="spacingAndGlyphs" transform="rotate(-45 332.20 124.30)" >ibrutinib</text>
<text x="323.70" y="204.00" font-size="8.5" fill="#1a1a1a" text-anchor="middle" textLength="36.80" lengthAdjust="spacingAndGlyphs" >BTKi_LEF1</text>
<text x="285.90" y="233.20" font-size="7.0" fill="#1a1a1a" text-anchor="middle" textLength="45.00" lengthAdjust="spacingAndGlyphs" transform="rotate(-90 285.90 233.20)" stroke="#1a1a1a" stroke-width="0.25">Normalized counts</text>
<line x1="318.30" y1="212.30" x2="330.00" y2="212.30" stroke="#555" stroke-width="0.7" />
<line x1="318.30" y1="212.30" x2="318.30" y2="217.00" stroke="#555" stroke-width="0.7" />
<line x1="330.00" y1="212.30" x2="330.00" y2="222.70" stroke="#777" stroke-width="0.7" />
<text x="324.20" y="212.30" font-size="6.3" fill="#222" text-anchor="middle" >*</text>
<line x1="318.40" y1="217.20" x2="329.80" y2="225.00" stroke="#d0607e" stroke-width="0.6" />
<line x1="318.40" y1="220.00" x2="329.80" y2="229.60" stroke="#3a3438" stroke-width="0.6" />
<line x1="318.40" y1="228.70" x2="329.80" y2="226.40" stroke="#c86a88" stroke-width="0.6" />
<line x1="318.40" y1="228.70" x2="329.80" y2="237.00" stroke="#c85a80" stroke-width="0.6" />
<line x1="318.40" y1="232.10" x2="329.80" y2="229.60" stroke="#c87090" stroke-width="0.6" />
<line x1="318.40" y1="232.10" x2="329.80" y2="241.10" stroke="#c05a7a" stroke-width="0.6" />
<line x1="318.40" y1="235.10" x2="329.80" y2="233.70" stroke="#c87090" stroke-width="0.6" />
<circle cx="318.4" cy="217.2" r="0.7" fill="#e0609a"/><circle cx="329.8" cy="225.0" r="0.7" fill="#e0609a"/>
<circle cx="318.4" cy="220.0" r="0.7" fill="#e0609a"/><circle cx="329.8" cy="229.6" r="0.7" fill="#e0609a"/>
<circle cx="318.4" cy="228.7" r="0.7" fill="#e0609a"/><circle cx="329.8" cy="226.4" r="0.7" fill="#e0609a"/>
<circle cx="318.4" cy="228.7" r="0.7" fill="#e0609a"/><circle cx="329.8" cy="237.0" r="0.7" fill="#e0609a"/>
<circle cx="318.4" cy="232.1" r="0.7" fill="#e0609a"/><circle cx="329.8" cy="229.6" r="0.7" fill="#e0609a"/>
<circle cx="318.4" cy="232.1" r="0.7" fill="#e0609a"/><circle cx="329.8" cy="241.1" r="0.7" fill="#e0609a"/>
<circle cx="318.4" cy="235.1" r="0.7" fill="#e0609a"/><circle cx="329.8" cy="233.7" r="0.7" fill="#e0609a"/>
<line x1="311.00" y1="212.00" x2="311.00" y2="254.80" stroke="#000" stroke-width="1" />
<line x1="310.50" y1="254.30" x2="332.70" y2="254.30" stroke="#000" stroke-width="1" />
<line x1="307.90" y1="214.50" x2="311.00" y2="214.50" stroke="#000" stroke-width="0.8" />
<text x="305.50" y="216.50" font-size="6.1" fill="#222" text-anchor="end" >8000</text>
<line x1="307.90" y1="224.50" x2="311.00" y2="224.50" stroke="#000" stroke-width="0.8" />
<text x="305.50" y="226.50" font-size="6.1" fill="#222" text-anchor="end" >6000</text>
<line x1="307.90" y1="234.40" x2="311.00" y2="234.40" stroke="#000" stroke-width="0.8" />
<text x="305.50" y="236.40" font-size="6.1" fill="#222" text-anchor="end" >4000</text>
<line x1="307.90" y1="244.30" x2="311.00" y2="244.30" stroke="#000" stroke-width="0.8" />
<text x="305.50" y="246.30" font-size="6.1" fill="#222" text-anchor="end" >2000</text>
<line x1="307.90" y1="254.30" x2="311.00" y2="254.30" stroke="#000" stroke-width="0.8" />
<text x="305.50" y="256.30" font-size="6.1" fill="#222" text-anchor="end" >0</text>
<line x1="318.40" y1="254.30" x2="318.40" y2="256.60" stroke="#000" stroke-width="0.8" />
<line x1="329.80" y1="254.30" x2="329.80" y2="256.60" stroke="#000" stroke-width="0.8" />
<text x="321.40" y="263.70" font-size="6.0" fill="#1a1a1a" text-anchor="end" textLength="20.50" lengthAdjust="spacingAndGlyphs" transform="rotate(-45 321.40 263.70)" >baseline</text>
<text x="332.20" y="264.30" font-size="6.0" fill="#1a1a1a" text-anchor="end" textLength="19.50" lengthAdjust="spacingAndGlyphs" transform="rotate(-45 332.20 264.30)" >ibrutinib</text>
<text x="391.40" y="30.60" font-size="6.0" fill="#1a1a1a" text-anchor="middle" textLength="25.50" lengthAdjust="spacingAndGlyphs" >H3K4me1</text>
<text x="459.50" y="30.60" font-size="6.0" fill="#1a1a1a" text-anchor="middle" textLength="25.00" lengthAdjust="spacingAndGlyphs" >H3K27ac</text>
<text x="377.30" y="38.80" font-size="6.2" fill="#1a1a1a" text-anchor="middle" textLength="18.20" lengthAdjust="spacingAndGlyphs" >CLL19</text>
<line x1="368.10" y1="40.30" x2="386.50" y2="40.30" stroke="#333" stroke-width="0.6" />
<text x="407.00" y="38.80" font-size="6.2" fill="#1a1a1a" text-anchor="middle" textLength="18.20" lengthAdjust="spacingAndGlyphs" >CLL20</text>
<line x1="397.80" y1="40.30" x2="416.20" y2="40.30" stroke="#333" stroke-width="0.6" />
<text x="444.30" y="38.80" font-size="6.2" fill="#1a1a1a" text-anchor="middle" textLength="18.20" lengthAdjust="spacingAndGlyphs" >CLL19</text>
<line x1="435.10" y1="40.30" x2="453.50" y2="40.30" stroke="#333" stroke-width="0.6" />
<text x="474.20" y="38.80" font-size="6.2" fill="#1a1a1a" text-anchor="middle" textLength="18.20" lengthAdjust="spacingAndGlyphs" >CLL20</text>
<line x1="465.00" y1="40.30" x2="483.40" y2="40.30" stroke="#333" stroke-width="0.6" />
<text x="371.00" y="64.50" font-size="5.6" fill="#1a1a1a" textLength="20.60" lengthAdjust="spacingAndGlyphs" transform="rotate(-90 371.00 64.50)" >baseline</text>
<rect x="363.20" y="68.1" width="11.60" height="10.20" fill="#f6fbf9" fill-opacity="0.6" stroke="none"/>
<line x1="363.20" y1="68.10" x2="374.80" y2="68.10" stroke="#777" stroke-width="0.5" />
<line x1="363.20" y1="78.30" x2="374.80" y2="78.30" stroke="#444" stroke-width="0.8" />
<line x1="363.20" y1="68.10" x2="363.20" y2="78.30" stroke="#555" stroke-width="0.7" stroke-dasharray="1.2 1.0"/>
<line x1="374.80" y1="68.10" x2="374.80" y2="78.30" stroke="#555" stroke-width="0.7" stroke-dasharray="1.2 1.0"/>
<line x1="366.10" y1="67.20" x2="366.10" y2="68.10" stroke="#666" stroke-width="0.5" />
<line x1="366.10" y1="78.30" x2="366.10" y2="79.20" stroke="#444" stroke-width="0.5" />
<line x1="369.00" y1="67.20" x2="369.00" y2="68.10" stroke="#666" stroke-width="0.5" />
<line x1="369.00" y1="78.30" x2="369.00" y2="79.20" stroke="#444" stroke-width="0.5" />
<line x1="371.90" y1="67.20" x2="371.90" y2="68.10" stroke="#666" stroke-width="0.5" />
<line x1="371.90" y1="78.30" x2="371.90" y2="79.20" stroke="#444" stroke-width="0.5" />
<path d="M363.60 77.6 L365.80 77.4 L367.60 75.17 L369.00 72.90 L370.40 75.17 L372.20 77.4 L374.40 77.6" fill="none" stroke="#3f625c" stroke-width="0.6"/>
<rect x="363.50" y="81.50" width="11.00" height="62.40" fill="#ffffff" />
<rect x="364.40" y="81.90" width="9.20" height="61.60" fill="url(#k4b)" />
<rect x="364.40" y="81.90" width="9.20" height="61.60" fill="url(#hmask)" />
<rect x="363.50" y="81.5" width="11.0" height="62.40" fill="none" stroke="#a4a4a4" stroke-width="0.75"/>
<rect x="363.50" y="146.10" width="11.00" height="65.20" fill="#ffffff" />
<rect x="364.40" y="146.50" width="9.20" height="64.40" fill="url(#k4b2)" />
<rect x="364.40" y="146.50" width="9.20" height="64.40" fill="url(#hmask)" />
<rect x="363.50" y="146.1" width="11.0" height="65.20" fill="none" stroke="#a4a4a4" stroke-width="0.75"/>
<path d="M364.50 82 L372.50 82 L368.45 116 L365.10 102.4 Z" fill="url(#vk4)" filter="url(#bl)"/>
<rect x="364.00" y="81.10" width="10.00" height="1.40" fill="#1f6a82" />
<line x1="363.50" y1="145.00" x2="374.50" y2="145.00" stroke="#a0a0a0" stroke-width="1.4" />
<line x1="363.50" y1="211.30" x2="363.50" y2="212.80" stroke="#777" stroke-width="0.5" />
<line x1="369.00" y1="211.30" x2="369.00" y2="212.80" stroke="#777" stroke-width="0.5" />
<line x1="374.50" y1="211.30" x2="374.50" y2="212.80" stroke="#777" stroke-width="0.5" />
<text x="386.00" y="64.50" font-size="5.6" fill="#1a1a1a" textLength="20.40" lengthAdjust="spacingAndGlyphs" transform="rotate(-90 386.00 64.50)" >ibrutinib</text>
<rect x="378.20" y="68.1" width="11.60" height="10.20" fill="#f6fbf9" fill-opacity="0.6" stroke="none"/>
<line x1="378.20" y1="68.10" x2="389.80" y2="68.10" stroke="#777" stroke-width="0.5" />
<line x1="378.20" y1="78.30" x2="389.80" y2="78.30" stroke="#444" stroke-width="0.8" />
<line x1="378.20" y1="68.10" x2="378.20" y2="78.30" stroke="#555" stroke-width="0.7" stroke-dasharray="1.2 1.0"/>
<line x1="389.80" y1="68.10" x2="389.80" y2="78.30" stroke="#555" stroke-width="0.7" stroke-dasharray="1.2 1.0"/>
<line x1="381.10" y1="67.20" x2="381.10" y2="68.10" stroke="#666" stroke-width="0.5" />
<line x1="381.10" y1="78.30" x2="381.10" y2="79.20" stroke="#444" stroke-width="0.5" />
<line x1="384.00" y1="67.20" x2="384.00" y2="68.10" stroke="#666" stroke-width="0.5" />
<line x1="384.00" y1="78.30" x2="384.00" y2="79.20" stroke="#444" stroke-width="0.5" />
<line x1="386.90" y1="67.20" x2="386.90" y2="68.10" stroke="#666" stroke-width="0.5" />
<line x1="386.90" y1="78.30" x2="386.90" y2="79.20" stroke="#444" stroke-width="0.5" />
<path d="M378.60 77.6 L380.80 77.4 L382.60 76.48 L384.00 75.80 L385.40 76.48 L387.20 77.4 L389.40 77.6" fill="none" stroke="#3f625c" stroke-width="0.6"/>
<rect x="378.50" y="81.50" width="11.00" height="62.40" fill="#ffffff" />
<rect x="379.40" y="81.90" width="9.20" height="61.60" fill="url(#k4i)" />
<rect x="379.40" y="81.90" width="9.20" height="61.60" fill="url(#hmask)" />
<rect x="378.50" y="81.5" width="11.0" height="62.40" fill="none" stroke="#a4a4a4" stroke-width="0.75"/>
<rect x="378.50" y="146.10" width="11.00" height="65.20" fill="#ffffff" />
<rect x="379.40" y="146.50" width="9.20" height="64.40" fill="url(#k4i2)" />
<rect x="379.40" y="146.50" width="9.20" height="64.40" fill="url(#hmask)" />
<rect x="378.50" y="146.1" width="11.0" height="65.20" fill="none" stroke="#a4a4a4" stroke-width="0.75"/>
<path d="M379.50 82 L387.50 82 L383.45 104 L380.10 95.2 Z" fill="url(#vk4i)" filter="url(#bl)"/>
<rect x="379.00" y="81.10" width="10.00" height="1.40" fill="#5a9fb5" />
<line x1="378.50" y1="145.00" x2="389.50" y2="145.00" stroke="#a0a0a0" stroke-width="1.4" />
<line x1="378.50" y1="211.30" x2="378.50" y2="212.80" stroke="#777" stroke-width="0.5" />
<line x1="384.00" y1="211.30" x2="384.00" y2="212.80" stroke="#777" stroke-width="0.5" />
<line x1="389.50" y1="211.30" x2="389.50" y2="212.80" stroke="#777" stroke-width="0.5" />
<text x="401.00" y="64.50" font-size="5.6" fill="#1a1a1a" textLength="20.60" lengthAdjust="spacingAndGlyphs" transform="rotate(-90 401.00 64.50)" >baseline</text>
<rect x="393.20" y="68.1" width="11.60" height="10.20" fill="#f6fbf9" fill-opacity="0.6" stroke="none"/>
<line x1="393.20" y1="68.10" x2="404.80" y2="68.10" stroke="#777" stroke-width="0.5" />
<line x1="393.20" y1="78.30" x2="404.80" y2="78.30" stroke="#444" stroke-width="0.8" />
<line x1="393.20" y1="68.10" x2="393.20" y2="78.30" stroke="#555" stroke-width="0.7" stroke-dasharray="1.2 1.0"/>
<line x1="404.80" y1="68.10" x2="404.80" y2="78.30" stroke="#555" stroke-width="0.7" stroke-dasharray="1.2 1.0"/>
<line x1="396.10" y1="67.20" x2="396.10" y2="68.10" stroke="#666" stroke-width="0.5" />
<line x1="396.10" y1="78.30" x2="396.10" y2="79.20" stroke="#444" stroke-width="0.5" />
<line x1="399.00" y1="67.20" x2="399.00" y2="68.10" stroke="#666" stroke-width="0.5" />
<line x1="399.00" y1="78.30" x2="399.00" y2="79.20" stroke="#444" stroke-width="0.5" />
<line x1="401.90" y1="67.20" x2="401.90" y2="68.10" stroke="#666" stroke-width="0.5" />
<line x1="401.90" y1="78.30" x2="401.90" y2="79.20" stroke="#444" stroke-width="0.5" />
<path d="M393.60 77.6 L395.80 77.4 L397.60 75.22 L399.00 73.00 L400.40 75.22 L402.20 77.4 L404.40 77.6" fill="none" stroke="#3f625c" stroke-width="0.6"/>
<rect x="393.50" y="81.50" width="11.00" height="62.40" fill="#ffffff" />
<rect x="394.40" y="81.90" width="9.20" height="61.60" fill="url(#k4b)" />
<rect x="394.40" y="81.90" width="9.20" height="61.60" fill="url(#hmask)" />
<rect x="393.50" y="81.5" width="11.0" height="62.40" fill="none" stroke="#a4a4a4" stroke-width="0.75"/>
<rect x="393.50" y="146.10" width="11.00" height="65.20" fill="#ffffff" />
<rect x="394.40" y="146.50" width="9.20" height="64.40" fill="url(#k4b2)" />
<rect x="394.40" y="146.50" width="9.20" height="64.40" fill="url(#hmask)" />
<rect x="393.50" y="146.1" width="11.0" height="65.20" fill="none" stroke="#a4a4a4" stroke-width="0.75"/>
<path d="M394.50 82 L402.50 82 L398.45 118 L395.10 103.6 Z" fill="url(#vk4)" filter="url(#bl)"/>
<rect x="394.00" y="81.10" width="10.00" height="1.40" fill="#1f6a82" />
<line x1="393.50" y1="145.00" x2="404.50" y2="145.00" stroke="#a0a0a0" stroke-width="1.4" />
<line x1="393.50" y1="211.30" x2="393.50" y2="212.80" stroke="#777" stroke-width="0.5" />
<line x1="399.00" y1="211.30" x2="399.00" y2="212.80" stroke="#777" stroke-width="0.5" />
<line x1="404.50" y1="211.30" x2="404.50" y2="212.80" stroke="#777" stroke-width="0.5" />
<text x="416.00" y="64.50" font-size="5.6" fill="#1a1a1a" textLength="20.40" lengthAdjust="spacingAndGlyphs" transform="rotate(-90 416.00 64.50)" >ibrutinib</text>
<rect x="408.20" y="68.1" width="11.60" height="10.20" fill="#f6fbf9" fill-opacity="0.6" stroke="none"/>
<line x1="408.20" y1="68.10" x2="419.80" y2="68.10" stroke="#777" stroke-width="0.5" />
<line x1="408.20" y1="78.30" x2="419.80" y2="78.30" stroke="#444" stroke-width="0.8" />
<line x1="408.20" y1="68.10" x2="408.20" y2="78.30" stroke="#555" stroke-width="0.7" stroke-dasharray="1.2 1.0"/>
<line x1="419.80" y1="68.10" x2="419.80" y2="78.30" stroke="#555" stroke-width="0.7" stroke-dasharray="1.2 1.0"/>
<line x1="411.10" y1="67.20" x2="411.10" y2="68.10" stroke="#666" stroke-width="0.5" />
<line x1="411.10" y1="78.30" x2="411.10" y2="79.20" stroke="#444" stroke-width="0.5" />
<line x1="414.00" y1="67.20" x2="414.00" y2="68.10" stroke="#666" stroke-width="0.5" />
<line x1="414.00" y1="78.30" x2="414.00" y2="79.20" stroke="#444" stroke-width="0.5" />
<line x1="416.90" y1="67.20" x2="416.90" y2="68.10" stroke="#666" stroke-width="0.5" />
<line x1="416.90" y1="78.30" x2="416.90" y2="79.20" stroke="#444" stroke-width="0.5" />
<path d="M408.60 77.6 L410.80 77.4 L412.60 76.34 L414.00 75.50 L415.40 76.34 L417.20 77.4 L419.40 77.6" fill="none" stroke="#3f625c" stroke-width="0.6"/>
<rect x="408.50" y="81.50" width="11.00" height="62.40" fill="#ffffff" />
<rect x="409.40" y="81.90" width="9.20" height="61.60" fill="url(#k4i)" />
<rect x="409.40" y="81.90" width="9.20" height="61.60" fill="url(#hmask)" />
<rect x="408.50" y="81.5" width="11.0" height="62.40" fill="none" stroke="#a4a4a4" stroke-width="0.75"/>
<rect x="408.50" y="146.10" width="11.00" height="65.20" fill="#ffffff" />
<rect x="409.40" y="146.50" width="9.20" height="64.40" fill="url(#k4i2)" />
<rect x="409.40" y="146.50" width="9.20" height="64.40" fill="url(#hmask)" />
<rect x="408.50" y="146.1" width="11.0" height="65.20" fill="none" stroke="#a4a4a4" stroke-width="0.75"/>
<path d="M409.50 82 L417.50 82 L413.45 106 L410.10 96.4 Z" fill="url(#vk4i)" filter="url(#bl)"/>
<rect x="409.00" y="81.10" width="10.00" height="1.40" fill="#5a9fb5" />
<line x1="408.50" y1="145.00" x2="419.50" y2="145.00" stroke="#a0a0a0" stroke-width="1.4" />
<line x1="408.50" y1="211.30" x2="408.50" y2="212.80" stroke="#777" stroke-width="0.5" />
<line x1="414.00" y1="211.30" x2="414.00" y2="212.80" stroke="#777" stroke-width="0.5" />
<line x1="419.50" y1="211.30" x2="419.50" y2="212.80" stroke="#777" stroke-width="0.5" />
<text x="439.00" y="64.50" font-size="5.6" fill="#1a1a1a" textLength="20.60" lengthAdjust="spacingAndGlyphs" transform="rotate(-90 439.00 64.50)" >baseline</text>
<rect x="431.20" y="68.1" width="11.60" height="10.20" fill="#f6fbf9" fill-opacity="0.6" stroke="none"/>
<line x1="431.20" y1="68.10" x2="442.80" y2="68.10" stroke="#777" stroke-width="0.5" />
<line x1="431.20" y1="78.30" x2="442.80" y2="78.30" stroke="#444" stroke-width="0.8" />
<line x1="431.20" y1="68.10" x2="431.20" y2="78.30" stroke="#555" stroke-width="0.7" stroke-dasharray="1.2 1.0"/>
<line x1="442.80" y1="68.10" x2="442.80" y2="78.30" stroke="#555" stroke-width="0.7" stroke-dasharray="1.2 1.0"/>
<line x1="434.10" y1="67.20" x2="434.10" y2="68.10" stroke="#666" stroke-width="0.5" />
<line x1="434.10" y1="78.30" x2="434.10" y2="79.20" stroke="#444" stroke-width="0.5" />
<line x1="437.00" y1="67.20" x2="437.00" y2="68.10" stroke="#666" stroke-width="0.5" />
<line x1="437.00" y1="78.30" x2="437.00" y2="79.20" stroke="#444" stroke-width="0.5" />
<line x1="439.90" y1="67.20" x2="439.90" y2="68.10" stroke="#666" stroke-width="0.5" />
<line x1="439.90" y1="78.30" x2="439.90" y2="79.20" stroke="#444" stroke-width="0.5" />
<path d="M431.60 77.6 L433.80 77.4 L435.60 74.64 L437.00 71.70 L438.40 74.64 L440.20 77.4 L442.40 77.6" fill="none" stroke="#3f625c" stroke-width="0.6"/>
<rect x="431.50" y="81.50" width="11.00" height="62.40" fill="#ffffff" />
<rect x="432.40" y="81.90" width="9.20" height="61.60" fill="url(#acb)" />
<rect x="432.40" y="81.90" width="9.20" height="61.60" fill="url(#hmask)" />
<rect x="431.50" y="81.5" width="11.0" height="62.40" fill="none" stroke="#a4a4a4" stroke-width="0.75"/>
<rect x="431.50" y="146.10" width="11.00" height="65.20" fill="#ffffff" />
<rect x="432.40" y="146.50" width="9.20" height="64.40" fill="url(#acb2)" />
<rect x="432.40" y="146.50" width="9.20" height="64.40" fill="url(#hmask)" />
<rect x="431.50" y="146.1" width="11.0" height="65.20" fill="none" stroke="#a4a4a4" stroke-width="0.75"/>
<path d="M432.50 82 L440.50 82 L436.45 112 L433.10 100.0 Z" fill="url(#vac)" filter="url(#bl)"/>
<rect x="432.00" y="81.10" width="10.00" height="1.40" fill="#a4a4d4" />
<line x1="431.50" y1="145.00" x2="442.50" y2="145.00" stroke="#a0a0a0" stroke-width="1.4" />
<line x1="431.50" y1="211.30" x2="431.50" y2="212.80" stroke="#777" stroke-width="0.5" />
<line x1="437.00" y1="211.30" x2="437.00" y2="212.80" stroke="#777" stroke-width="0.5" />
<line x1="442.50" y1="211.30" x2="442.50" y2="212.80" stroke="#777" stroke-width="0.5" />
<text x="454.00" y="64.50" font-size="5.6" fill="#1a1a1a" textLength="20.40" lengthAdjust="spacingAndGlyphs" transform="rotate(-90 454.00 64.50)" >ibrutinib</text>
<rect x="446.20" y="68.1" width="11.60" height="10.20" fill="#f6fbf9" fill-opacity="0.6" stroke="none"/>
<line x1="446.20" y1="68.10" x2="457.80" y2="68.10" stroke="#777" stroke-width="0.5" />
<line x1="446.20" y1="78.30" x2="457.80" y2="78.30" stroke="#444" stroke-width="0.8" />
<line x1="446.20" y1="68.10" x2="446.20" y2="78.30" stroke="#555" stroke-width="0.7" stroke-dasharray="1.2 1.0"/>
<line x1="457.80" y1="68.10" x2="457.80" y2="78.30" stroke="#555" stroke-width="0.7" stroke-dasharray="1.2 1.0"/>
<line x1="449.10" y1="67.20" x2="449.10" y2="68.10" stroke="#666" stroke-width="0.5" />
<line x1="449.10" y1="78.30" x2="449.10" y2="79.20" stroke="#444" stroke-width="0.5" />
<line x1="452.00" y1="67.20" x2="452.00" y2="68.10" stroke="#666" stroke-width="0.5" />
<line x1="452.00" y1="78.30" x2="452.00" y2="79.20" stroke="#444" stroke-width="0.5" />
<line x1="454.90" y1="67.20" x2="454.90" y2="68.10" stroke="#666" stroke-width="0.5" />
<line x1="454.90" y1="78.30" x2="454.90" y2="79.20" stroke="#444" stroke-width="0.5" />
<path d="M446.60 77.6 L448.80 77.4 L450.60 76.34 L452.00 75.50 L453.40 76.34 L455.20 77.4 L457.40 77.6" fill="none" stroke="#3f625c" stroke-width="0.6"/>
<rect x="446.50" y="81.50" width="11.00" height="62.40" fill="#ffffff" />
<rect x="447.40" y="81.90" width="9.20" height="61.60" fill="url(#aci)" />
<rect x="447.40" y="81.90" width="9.20" height="61.60" fill="url(#hmask)" />
<rect x="446.50" y="81.5" width="11.0" height="62.40" fill="none" stroke="#a4a4a4" stroke-width="0.75"/>
<rect x="446.50" y="146.10" width="11.00" height="65.20" fill="#ffffff" />
<rect x="447.40" y="146.50" width="9.20" height="64.40" fill="url(#aci2)" />
<rect x="447.40" y="146.50" width="9.20" height="64.40" fill="url(#hmask)" />
<rect x="446.50" y="146.1" width="11.0" height="65.20" fill="none" stroke="#a4a4a4" stroke-width="0.75"/>
<rect x="447.00" y="81.10" width="10.00" height="1.40" fill="#c8c8e6" />
<line x1="446.50" y1="145.00" x2="457.50" y2="145.00" stroke="#a0a0a0" stroke-width="1.4" />
<line x1="446.50" y1="211.30" x2="446.50" y2="212.80" stroke="#777" stroke-width="0.5" />
<line x1="452.00" y1="211.30" x2="452.00" y2="212.80" stroke="#777" stroke-width="0.5" />
<line x1="457.50" y1="211.30" x2="457.50" y2="212.80" stroke="#777" stroke-width="0.5" />
<text x="469.00" y="64.50" font-size="5.6" fill="#1a1a1a" textLength="20.60" lengthAdjust="spacingAndGlyphs" transform="rotate(-90 469.00 64.50)" >baseline</text>
<rect x="461.20" y="68.1" width="11.60" height="10.20" fill="#f6fbf9" fill-opacity="0.6" stroke="none"/>
<line x1="461.20" y1="68.10" x2="472.80" y2="68.10" stroke="#777" stroke-width="0.5" />
<line x1="461.20" y1="78.30" x2="472.80" y2="78.30" stroke="#444" stroke-width="0.8" />
<line x1="461.20" y1="68.10" x2="461.20" y2="78.30" stroke="#555" stroke-width="0.7" stroke-dasharray="1.2 1.0"/>
<line x1="472.80" y1="68.10" x2="472.80" y2="78.30" stroke="#555" stroke-width="0.7" stroke-dasharray="1.2 1.0"/>
<line x1="464.10" y1="67.20" x2="464.10" y2="68.10" stroke="#666" stroke-width="0.5" />
<line x1="464.10" y1="78.30" x2="464.10" y2="79.20" stroke="#444" stroke-width="0.5" />
<line x1="467.00" y1="67.20" x2="467.00" y2="68.10" stroke="#666" stroke-width="0.5" />
<line x1="467.00" y1="78.30" x2="467.00" y2="79.20" stroke="#444" stroke-width="0.5" />
<line x1="469.90" y1="67.20" x2="469.90" y2="68.10" stroke="#666" stroke-width="0.5" />
<line x1="469.90" y1="78.30" x2="469.90" y2="79.20" stroke="#444" stroke-width="0.5" />
<path d="M461.60 77.6 L463.80 77.4 L465.60 74.68 L467.00 71.80 L468.40 74.68 L470.20 77.4 L472.40 77.6" fill="none" stroke="#3f625c" stroke-width="0.6"/>
<rect x="461.50" y="81.50" width="11.00" height="62.40" fill="#ffffff" />
<rect x="462.40" y="81.90" width="9.20" height="61.60" fill="url(#acb)" />
<rect x="462.40" y="81.90" width="9.20" height="61.60" fill="url(#hmask)" />
<rect x="461.50" y="81.5" width="11.0" height="62.40" fill="none" stroke="#a4a4a4" stroke-width="0.75"/>
<rect x="461.50" y="146.10" width="11.00" height="65.20" fill="#ffffff" />
<rect x="462.40" y="146.50" width="9.20" height="64.40" fill="url(#acb2)" />
<rect x="462.40" y="146.50" width="9.20" height="64.40" fill="url(#hmask)" />
<rect x="461.50" y="146.1" width="11.0" height="65.20" fill="none" stroke="#a4a4a4" stroke-width="0.75"/>
<path d="M462.50 82 L470.50 82 L466.45 114 L463.10 101.2 Z" fill="url(#vac)" filter="url(#bl)"/>
<rect x="462.00" y="81.10" width="10.00" height="1.40" fill="#a4a4d4" />
<line x1="461.50" y1="145.00" x2="472.50" y2="145.00" stroke="#a0a0a0" stroke-width="1.4" />
<line x1="461.50" y1="211.30" x2="461.50" y2="212.80" stroke="#777" stroke-width="0.5" />
<line x1="467.00" y1="211.30" x2="467.00" y2="212.80" stroke="#777" stroke-width="0.5" />
<line x1="472.50" y1="211.30" x2="472.50" y2="212.80" stroke="#777" stroke-width="0.5" />
<text x="484.00" y="64.50" font-size="5.6" fill="#1a1a1a" textLength="20.40" lengthAdjust="spacingAndGlyphs" transform="rotate(-90 484.00 64.50)" >ibrutinib</text>
<rect x="476.20" y="68.1" width="11.60" height="10.20" fill="#f6fbf9" fill-opacity="0.6" stroke="none"/>
<line x1="476.20" y1="68.10" x2="487.80" y2="68.10" stroke="#777" stroke-width="0.5" />
<line x1="476.20" y1="78.30" x2="487.80" y2="78.30" stroke="#444" stroke-width="0.8" />
<line x1="476.20" y1="68.10" x2="476.20" y2="78.30" stroke="#555" stroke-width="0.7" stroke-dasharray="1.2 1.0"/>
<line x1="487.80" y1="68.10" x2="487.80" y2="78.30" stroke="#555" stroke-width="0.7" stroke-dasharray="1.2 1.0"/>
<line x1="479.10" y1="67.20" x2="479.10" y2="68.10" stroke="#666" stroke-width="0.5" />
<line x1="479.10" y1="78.30" x2="479.10" y2="79.20" stroke="#444" stroke-width="0.5" />
<line x1="482.00" y1="67.20" x2="482.00" y2="68.10" stroke="#666" stroke-width="0.5" />
<line x1="482.00" y1="78.30" x2="482.00" y2="79.20" stroke="#444" stroke-width="0.5" />
<line x1="484.90" y1="67.20" x2="484.90" y2="68.10" stroke="#666" stroke-width="0.5" />
<line x1="484.90" y1="78.30" x2="484.90" y2="79.20" stroke="#444" stroke-width="0.5" />
<path d="M476.60 77.6 L478.80 77.4 L480.60 76.03 L482.00 74.80 L483.40 76.03 L485.20 77.4 L487.40 77.6" fill="none" stroke="#3f625c" stroke-width="0.6"/>
<rect x="476.50" y="81.50" width="11.00" height="62.40" fill="#ffffff" />
<rect x="477.40" y="81.90" width="9.20" height="61.60" fill="url(#aci8)" />
<rect x="477.40" y="81.90" width="9.20" height="61.60" fill="url(#hmask)" />
<rect x="476.50" y="81.5" width="11.0" height="62.40" fill="none" stroke="#a4a4a4" stroke-width="0.75"/>
<rect x="476.50" y="146.10" width="11.00" height="65.20" fill="#ffffff" />
<rect x="477.40" y="146.50" width="9.20" height="64.40" fill="url(#aci2)" />
<rect x="477.40" y="146.50" width="9.20" height="64.40" fill="url(#hmask)" />
<rect x="476.50" y="146.1" width="11.0" height="65.20" fill="none" stroke="#a4a4a4" stroke-width="0.75"/>
<path d="M477.50 82 L485.50 82 L481.45 104 L478.10 95.2 Z" fill="url(#vaci)" filter="url(#bl)"/>
<rect x="477.00" y="81.10" width="10.00" height="1.40" fill="#b4b4dc" />
<line x1="476.50" y1="145.00" x2="487.50" y2="145.00" stroke="#a0a0a0" stroke-width="1.4" />
<line x1="476.50" y1="211.30" x2="476.50" y2="212.80" stroke="#777" stroke-width="0.5" />
<line x1="482.00" y1="211.30" x2="482.00" y2="212.80" stroke="#777" stroke-width="0.5" />
<line x1="487.50" y1="211.30" x2="487.50" y2="212.80" stroke="#777" stroke-width="0.5" />
<text x="357.80" y="70.60" font-size="5.8" fill="#222" text-anchor="middle" >15</text>
<text x="358.30" y="80.20" font-size="5.8" fill="#222" text-anchor="middle" >0</text>
<text x="426.80" y="70.60" font-size="5.8" fill="#222" text-anchor="middle" >6</text>
<text x="426.80" y="80.20" font-size="5.8" fill="#222" text-anchor="middle" >0</text>
<line x1="490.50" y1="81.00" x2="490.50" y2="212.00" stroke="#999" stroke-width="0.8" />
<line x1="491.50" y1="110.60" x2="495.80" y2="110.60" stroke="#111" stroke-width="0.8" />
<path d="M490.4 110.6 L493.0 109.0 L493.0 112.19999999999999 Z" fill="#111"/>
<line x1="491.50" y1="172.80" x2="495.80" y2="172.80" stroke="#111" stroke-width="0.8" />
<path d="M490.4 172.8 L493.0 171.20000000000002 L493.0 174.4 Z" fill="#111"/>
<text x="504.80" y="137.30" font-size="5.6" fill="#1a1a1a" textLength="51.50" lengthAdjust="spacingAndGlyphs" transform="rotate(-90 504.80 137.30)" >H3K4me1/H3K27ac</text>
<text x="513.40" y="110.70" font-size="5.6" fill="#1a1a1a" text-anchor="middle" transform="rotate(-90 513.40 110.70)" >up</text>
<text x="504.80" y="202.80" font-size="5.6" fill="#1a1a1a" textLength="51.00" lengthAdjust="spacingAndGlyphs" transform="rotate(-90 504.80 202.80)" >H3K4me1/H3K27ac</text>
<text x="513.40" y="177.00" font-size="5.6" fill="#1a1a1a" text-anchor="middle" transform="rotate(-90 513.40 177.00)" >down</text>
<text x="363.60" y="231.00" font-size="5.6" fill="#1a1a1a" text-anchor="end" >−5Kb</text>
<line x1="368.80" y1="226.30" x2="368.80" y2="240.70" stroke="#333" stroke-width="0.6" />
<text x="371.40" y="231.00" font-size="5.6" fill="#1a1a1a" >5Kb</text>
<text x="354.00" y="247.20" font-size="5.8" fill="#1a1a1a" textLength="30.30" lengthAdjust="spacingAndGlyphs" >Peak center</text>
<rect x="390.00" y="232.60" width="28.80" height="2.60" fill="url(#cb1)" stroke="#555" stroke-width="0.4"/>
<line x1="391.20" y1="235.20" x2="391.20" y2="236.70" stroke="#444" stroke-width="0.5" />
<line x1="400.50" y1="235.20" x2="400.50" y2="236.70" stroke="#444" stroke-width="0.5" />
<line x1="409.50" y1="235.20" x2="409.50" y2="236.70" stroke="#444" stroke-width="0.5" />
<line x1="417.60" y1="235.20" x2="417.60" y2="236.70" stroke="#444" stroke-width="0.5" />
<text x="391.00" y="241.80" font-size="5.4" fill="#222" text-anchor="middle" >0</text>
<text x="417.80" y="241.80" font-size="5.4" fill="#222" text-anchor="middle" >8</text>
<rect x="434.00" y="232.60" width="28.80" height="2.60" fill="url(#cb2)" stroke="#555" stroke-width="0.4"/>
<line x1="435.20" y1="235.20" x2="435.20" y2="236.70" stroke="#444" stroke-width="0.5" />
<line x1="444.50" y1="235.20" x2="444.50" y2="236.70" stroke="#444" stroke-width="0.5" />
<line x1="453.50" y1="235.20" x2="453.50" y2="236.70" stroke="#444" stroke-width="0.5" />
<line x1="461.60" y1="235.20" x2="461.60" y2="236.70" stroke="#444" stroke-width="0.5" />
<text x="435.00" y="241.80" font-size="5.4" fill="#222" text-anchor="middle" >0</text>
<text x="461.80" y="241.80" font-size="5.4" fill="#222" text-anchor="middle" >8</text>
<path d="M114.6 334.60 L114.6 334.60L116.6 334.60L117.1 334.51L117.6 333.92L118.1 332.07L118.6 329.87L119.1 330.19L119.6 332.54L120.1 334.12L120.6 334.31L121.1 334.51L121.6 334.60L122.1 334.60L122.6 334.12L123.1 332.54L123.6 330.19L124.1 329.87L124.6 332.07L125.1 332.54L125.6 330.19L126.1 329.87L126.6 332.07L127.1 333.92L127.6 333.00L128.1 332.63L128.6 333.39L129.1 334.23L129.6 334.44L130.1 334.39L130.6 334.49L131.1 334.46L131.6 334.09L132.1 333.65L132.6 333.72L133.1 334.19L133.6 334.49L134.1 334.11L134.6 333.40L135.1 333.12L135.6 333.69L136.1 334.15L136.6 333.81L137.1 334.08L137.6 334.48L138.1 334.60L138.6 334.60L139.1 334.28L139.6 333.80L140.1 333.61L140.6 333.99L141.1 334.41L141.6 334.60L143.6 334.60L144.1 334.21L144.6 333.64L145.1 333.42L145.6 333.87L146.1 334.38L146.6 334.60L149.1 334.60L149.6 334.31L150.1 334.11L150.6 334.09L151.1 334.36L151.6 334.10L152.1 333.74L152.6 334.06L153.1 334.29L153.6 334.49L154.1 334.60L161.1 334.60L161.6 334.13L162.1 332.83L162.6 331.29L163.1 331.51L163.6 333.16L164.1 334.06L164.6 334.06L165.1 334.40L165.6 334.60L168.1 334.60L168.6 334.50L169.1 334.11L169.6 333.40L170.1 333.12L170.6 333.69L171.1 334.32L171.6 334.60L173.6 334.60L174.1 334.21L174.6 333.64L175.1 333.42L175.6 333.87L176.1 334.38L176.6 334.60L178.1 334.60L178.6 334.33L179.1 333.59L179.6 332.71L180.1 332.84L180.6 333.78L181.1 334.41L181.6 334.60L184.1 334.60L184.6 334.13L185.1 333.08L185.6 332.13L186.1 332.60L186.6 333.79L187.1 334.21L187.6 333.90L188.1 334.14L188.6 334.49L189.1 334.60L189.6 334.40L190.1 333.84L190.6 333.18L191.1 333.28L191.6 333.98L192.1 334.46L192.6 334.60L193.1 334.60L193.6 334.50L194.1 334.11L194.6 333.40L195.1 333.12L195.6 333.69L196.1 334.15L196.6 334.43L197.1 334.13L197.6 334.01L198.1 334.33L198.6 334.40L199.1 333.63L199.6 332.20L200.1 331.64L200.6 332.78L201.1 334.04L201.6 334.47L202.1 333.95L202.6 333.00L203.1 332.63L203.6 333.39L204.1 333.79L204.6 332.60L205.1 332.13L205.6 333.08L206.1 333.30L206.6 331.40L207.1 330.66L207.6 332.17L208.1 333.85L208.6 332.87L209.1 330.35L209.6 327.54L210.1 326.66L210.6 328.56L211.1 331.49L211.6 331.40L212.1 330.66L212.6 332.17L213.1 333.85L213.6 334.49L214.1 334.60L216.6 334.60L217.1 334.21L217.6 333.64L218.1 333.42L218.6 333.87L219.1 334.38L219.6 334.34L220.1 334.29L220.6 334.43L221.1 334.02L221.6 333.88L222.1 334.27L222.6 334.60L227.1 334.60L227.6 334.50L228.1 334.11L228.6 333.40L229.1 333.12L229.6 333.69L230.1 334.32L230.6 334.60L231.1 334.60L231.6 334.50L232.1 334.11L232.6 333.40L233.1 333.12L233.6 333.69L234.1 334.32L234.6 334.60L236.1 334.60L236.6 334.50L237.1 334.11L237.6 333.40L238.1 333.12L238.6 333.69L239.1 334.32L239.6 334.27L240.1 334.26L240.6 334.47L241.1 334.11L241.6 333.40L242.1 333.12L242.6 333.69L243.1 334.32L243.6 334.60L244.1 334.60L244.6 334.45L245.1 334.18L245.6 334.16L246.1 334.43L246.6 334.47L247.1 333.95L247.6 333.00L248.1 332.63L248.6 333.39L249.1 334.23L249.6 334.44L250.1 333.79L250.6 332.60L251.1 332.13L251.6 333.08L252.1 334.03L252.6 334.34L253.1 333.63L253.6 332.20L254.1 331.64L254.6 332.78L255.1 333.95L255.6 333.00L256.1 332.63L256.6 333.39L257.1 334.23L257.6 334.60L258.1 334.60L258.6 334.32L259.1 333.88L259.6 333.92L260.1 334.36L260.6 334.50L261.1 334.11L261.6 333.40L262.1 333.12L262.6 333.69L263.1 334.32L263.6 334.60L264.1 334.60L264.6 334.47L265.1 333.95L265.6 333.00L266.1 332.63L266.6 333.39L267.1 334.23L267.6 334.34L268.1 334.11L268.6 334.13L269.1 334.31L269.6 334.47L270.1 333.95L270.6 333.00L271.1 332.63L271.6 333.39L272.1 334.23L272.6 334.60L273.1 334.60L273.6 334.50L274.1 334.11L274.6 333.40L275.1 333.12L275.6 333.69L276.1 334.32L276.6 334.36L277.1 333.91L277.6 333.87L278.1 334.32L278.6 334.60L278.6 334.60Z" fill="#233f8c"/>
<line x1="114.60" y1="334.35" x2="278.60" y2="334.35" stroke="#233f8c" stroke-width="0.5" />
<path d="M114.6 345.40 L114.6 345.40L117.1 345.40L117.6 344.99L118.1 343.88L118.6 342.56L119.1 342.75L119.6 344.17L120.1 345.11L120.6 345.19L121.1 345.30L121.6 345.27L122.1 344.75L122.6 343.80L123.1 343.43L123.6 344.19L124.1 344.75L124.6 343.80L125.1 343.43L125.6 344.19L126.1 345.03L126.6 344.75L127.1 343.80L127.6 343.43L128.1 344.19L128.6 345.03L129.1 345.40L133.6 345.40L134.1 345.08L134.6 344.60L135.1 344.41L135.6 344.79L136.1 345.21L136.6 345.40L148.6 345.40L149.1 345.08L149.6 344.60L150.1 344.41L150.6 344.79L151.1 345.21L151.6 345.40L152.6 345.40L153.1 345.21L153.6 345.22L154.1 345.40L161.1 345.40L161.6 345.27L162.1 344.75L162.6 343.80L163.1 343.43L163.6 344.19L164.1 345.03L164.6 345.40L167.1 345.40L167.6 345.17L168.1 345.14L168.6 345.29L169.1 345.08L169.6 344.60L170.1 344.41L170.6 344.79L171.1 345.21L171.6 345.30L172.1 344.94L172.6 344.61L173.1 344.90L173.6 345.28L174.1 345.40L175.6 345.40L176.1 345.21L176.6 344.80L177.1 344.71L177.6 345.11L178.1 345.40L183.1 345.40L183.6 345.27L184.1 344.75L184.6 343.80L185.1 343.43L185.6 344.19L186.1 345.03L186.6 345.40L187.1 345.16L187.6 345.04L188.1 345.20L188.6 345.40L189.1 345.40L189.6 345.19L190.1 344.91L190.6 344.98L191.1 345.01L191.6 344.44L192.1 344.22L192.6 344.67L193.1 345.18L193.6 345.40L194.1 345.23L194.6 344.82L195.1 344.67L195.6 345.07L196.1 345.09L196.6 344.73L197.1 344.86L197.6 345.08L198.1 344.65L198.6 344.75L199.1 344.75L199.6 343.80L200.1 343.43L200.6 344.19L201.1 344.94L201.6 345.24L202.1 345.40L203.1 345.40L203.6 345.24L204.1 344.59L204.6 343.40L205.1 342.93L205.6 343.88L206.1 344.93L206.6 345.20L207.1 344.43L207.6 343.00L208.1 342.44L208.6 343.58L209.1 344.26L209.6 342.60L210.1 341.95L210.6 343.28L211.1 344.75L211.6 343.80L212.1 343.43L212.6 344.19L213.1 345.03L213.6 344.97L214.1 344.85L214.6 345.14L215.1 345.40L216.6 345.40L217.1 345.08L217.6 344.60L218.1 344.41L218.6 344.79L219.1 345.21L219.6 345.40L223.1 345.40L223.6 345.30L224.1 345.09L224.6 345.04L225.1 345.10L225.6 345.17L226.1 345.40L227.6 345.40L228.1 345.08L228.6 344.60L229.1 344.41L229.6 344.79L230.1 345.21L230.6 345.40L232.1 345.40L232.6 344.99L233.1 344.61L233.6 344.85L234.1 345.26L234.6 344.90L235.1 344.66L235.6 345.00L236.1 345.40L237.1 345.40L237.6 345.13L238.1 344.80L238.6 344.90L239.1 345.08L239.6 344.60L240.1 344.41L240.6 344.79L241.1 345.21L241.6 345.40L249.1 345.40L249.6 345.30L250.1 344.91L250.6 344.20L251.1 343.92L251.6 344.49L252.1 344.99L252.6 345.30L253.1 344.91L253.6 344.20L254.1 343.92L254.6 344.49L255.1 345.12L255.6 345.40L260.1 345.40L260.6 345.03L261.1 344.72L261.6 344.95L262.1 344.93L262.6 345.08L263.1 345.40L264.1 345.40L264.6 345.30L265.1 344.91L265.6 344.20L266.1 343.92L266.6 344.49L267.1 345.12L267.6 345.40L269.1 345.40L269.6 345.20L270.1 344.91L270.6 344.44L271.1 344.22L271.6 344.67L272.1 345.12L272.6 345.14L273.1 345.30L273.6 345.40L278.6 345.40L278.6 345.40Z" fill="#233f8c"/>
<line x1="114.60" y1="345.15" x2="278.60" y2="345.15" stroke="#233f8c" stroke-width="0.5" />
<path d="M114.6 356.90 L114.6 356.90L115.1 356.90L115.6 356.82L116.1 356.40L116.6 355.75L117.1 355.94L117.6 356.11L118.1 356.04L118.6 356.56L119.1 356.90L120.1 356.90L120.6 356.70L121.1 356.09L121.6 355.66L122.1 356.21L122.6 356.76L123.1 356.90L127.6 356.90L128.1 356.75L128.6 356.22L129.1 355.74L129.6 356.17L130.1 356.73L130.6 356.90L134.6 356.90L135.1 356.73L135.6 356.42L136.1 356.41L136.6 356.51L137.1 356.48L137.6 356.73L138.1 356.90L143.6 356.90L144.1 356.64L144.6 356.38L145.1 356.25L145.6 356.27L146.1 356.68L146.6 356.38L147.1 356.23L147.6 356.59L148.1 356.90L150.6 356.90L151.1 356.65L151.6 356.56L152.1 356.73L152.6 356.80L153.1 356.41L153.6 356.05L154.1 356.36L154.6 356.77L155.1 356.61L155.6 356.20L156.1 356.29L156.6 356.63L157.1 356.42L157.6 356.59L158.1 356.90L158.6 356.80L159.1 356.41L159.6 355.70L160.1 355.42L160.6 355.99L161.1 356.62L161.6 356.66L162.1 356.48L162.6 355.86L163.1 355.96L163.6 356.33L164.1 356.31L164.6 356.68L165.1 356.53L165.6 356.03L166.1 355.55L166.6 356.13L167.1 356.40L167.6 356.34L168.1 356.67L168.6 356.90L169.1 356.55L169.6 356.01L170.1 356.06L170.6 356.61L171.1 356.32L171.6 356.25L172.1 356.00L172.6 356.30L173.1 356.75L173.6 356.68L174.1 356.36L174.6 356.39L175.1 355.99L175.6 356.15L176.1 356.66L176.6 356.90L178.1 356.90L178.6 356.55L179.1 355.90L179.6 355.85L180.1 356.50L180.6 356.90L181.1 356.80L181.6 356.59L182.1 356.46L182.6 356.02L183.1 356.26L183.6 356.73L184.1 356.90L184.6 356.52L185.1 355.93L185.6 355.99L186.1 356.59L186.6 356.65L187.1 355.97L187.6 355.60L188.1 356.23L188.6 356.77L189.1 356.79L189.6 356.41L190.1 356.08L190.6 356.39L191.1 356.79L191.6 356.90L196.1 356.90L196.6 356.61L197.1 355.87L197.6 355.54L198.1 356.24L198.6 356.72L199.1 356.90L199.6 356.60L200.1 355.99L200.6 355.89L201.1 356.49L201.6 356.49L202.1 356.71L202.6 356.90L203.6 356.90L204.1 356.76L204.6 356.69L205.1 356.79L205.6 356.56L206.1 356.04L206.6 356.09L207.1 356.62L207.6 356.06L208.1 355.86L208.6 356.43L209.1 356.90L209.6 356.56L210.1 355.85L210.6 355.70L211.1 356.39L211.6 356.36L212.1 356.41L212.6 356.72L213.1 356.67L213.6 356.79L214.1 356.72L214.6 356.52L215.1 356.61L215.6 356.67L216.1 356.81L216.6 356.73L217.1 356.33L217.6 356.16L218.1 356.32L218.6 355.69L219.1 355.97L219.6 356.45L220.1 356.00L220.6 356.24L221.1 356.72L221.6 356.90L223.6 356.90L224.1 356.70L224.6 356.51L225.1 355.86L225.6 355.59L226.1 355.86L226.6 355.65L227.1 356.34L227.6 356.81L228.1 356.90L228.6 356.70L229.1 356.58L229.6 356.71L230.1 356.16L230.6 355.82L231.1 356.29L231.6 355.63L232.1 355.93L232.6 355.68L233.1 356.31L233.6 356.79L234.1 356.90L234.6 356.90L235.1 356.81L235.6 356.34L236.1 355.08L236.6 353.94L237.1 354.50L237.6 355.93L238.1 356.69L238.6 356.19L239.1 356.03L239.6 356.51L240.1 356.90L240.6 356.80L241.1 356.68L241.6 356.72L242.1 356.90L243.6 356.90L244.1 356.70L244.6 356.41L245.1 356.46L245.6 356.76L246.1 356.51L246.6 355.91L247.1 355.78L247.6 356.43L248.1 356.82L248.6 356.90L249.6 356.90L250.1 356.71L250.6 356.24L251.1 356.04L251.6 356.18L252.1 356.27L252.6 356.70L253.1 356.90L253.6 356.74L254.1 356.14L254.6 355.52L255.1 355.52L255.6 355.60L256.1 355.85L256.6 356.14L257.1 356.48L257.6 356.66L258.1 356.69L258.6 356.01L259.1 355.53L259.6 356.12L260.1 356.34L260.6 356.74L261.1 356.54L261.6 356.25L262.1 356.46L262.6 356.23L263.1 356.05L263.6 356.50L264.1 356.90L267.6 356.90L268.1 356.65L268.6 356.20L269.1 356.18L269.6 356.10L270.1 355.91L270.6 356.29L271.1 356.71L271.6 356.90L272.1 356.72L272.6 356.32L273.1 356.21L273.6 356.60L274.1 356.71L274.6 356.26L275.1 356.11L275.6 356.54L276.1 356.90L276.6 356.90L277.1 356.68L277.6 356.25L278.1 356.20L278.6 356.62L278.6 356.90Z" fill="#23a06a"/>
<line x1="114.60" y1="356.65" x2="278.60" y2="356.65" stroke="#23a06a" stroke-width="0.5" />
<path d="M114.6 367.70 L114.6 367.57L115.1 367.05L115.6 366.10L116.1 365.73L116.6 366.49L117.1 367.33L117.6 367.12L118.1 367.36L118.6 367.70L119.1 367.50L119.6 367.21L120.1 367.26L120.6 366.96L121.1 366.93L121.6 366.59L122.1 366.70L122.6 366.97L123.1 367.48L123.6 367.28L124.1 367.41L124.6 367.21L125.1 367.18L125.6 366.99L126.1 367.34L126.6 367.70L133.1 367.70L133.6 367.60L134.1 367.22L134.6 366.82L135.1 367.10L135.6 367.55L136.1 367.70L136.6 367.70L137.1 367.61L137.6 367.46L138.1 367.47L138.6 367.62L139.1 367.70L139.6 367.70L140.1 367.60L140.6 367.31L141.1 367.11L141.6 367.37L142.1 367.61L142.6 367.42L143.1 367.33L143.6 366.92L144.1 367.11L144.6 367.53L145.1 367.70L147.6 367.70L148.1 367.56L148.6 367.04L149.1 366.39L149.6 366.37L150.1 366.58L150.6 367.36L151.1 367.61L151.6 367.49L152.1 366.83L152.6 366.37L153.1 366.96L153.6 367.07L154.1 367.01L154.6 367.11L155.1 366.52L155.6 366.27L156.1 367.06L156.6 367.60L157.1 367.70L157.6 367.51L158.1 366.85L158.6 366.30L159.1 366.85L159.6 367.51L160.1 367.15L160.6 366.81L161.1 367.17L161.6 367.55L162.1 367.21L162.6 366.50L163.1 366.22L163.6 366.79L164.1 367.42L164.6 367.43L165.1 366.87L165.6 366.75L166.1 367.30L166.6 367.24L167.1 366.79L167.6 367.04L168.1 367.52L168.6 367.53L169.1 367.31L169.6 366.73L170.1 366.82L170.6 367.41L171.1 367.70L171.6 367.70L172.1 367.43L172.6 366.79L173.1 366.58L173.6 367.19L174.1 367.61L174.6 367.70L175.6 367.70L176.1 367.56L176.6 366.97L177.1 366.27L177.6 366.67L178.1 367.43L178.6 367.70L179.1 367.43L179.6 367.30L180.1 367.48L180.6 367.70L181.1 367.32L181.6 366.52L182.1 366.37L182.6 367.15L183.1 367.57L183.6 367.70L186.1 367.70L186.6 367.61L187.1 367.40L187.6 367.34L188.1 367.54L188.6 367.70L190.6 367.70L191.1 367.51L191.6 367.15L192.1 367.11L192.6 367.45L193.1 367.70L194.6 367.70L195.1 367.53L195.6 367.38L196.1 367.48L196.6 367.70L197.1 367.43L197.6 367.14L198.1 366.99L198.6 367.36L199.1 367.70L201.6 367.70L202.1 367.37L202.6 367.14L203.1 367.35L203.6 367.54L204.1 367.21L204.6 367.15L205.1 367.47L205.6 367.70L211.6 367.70L212.1 367.43L212.6 367.01L213.1 367.05L213.6 366.87L214.1 366.67L214.6 367.23L215.1 367.70L215.6 367.31L216.1 366.60L216.6 366.57L217.1 367.27L217.6 367.52L218.1 367.21L218.6 366.81L219.1 366.94L219.6 367.46L220.1 367.70L220.6 367.70L221.1 367.46L221.6 366.88L222.1 366.64L222.6 367.20L223.1 367.61L223.6 367.58L224.1 367.45L224.6 367.51L225.1 367.46L225.6 367.31L226.1 367.46L226.6 367.70L233.1 367.70L233.6 367.54L234.1 366.95L234.6 366.39L235.1 366.25L235.6 366.79L236.1 367.45L236.6 366.72L237.1 366.31L237.6 366.97L238.1 367.56L238.6 367.70L239.1 367.56L239.6 367.08L240.1 366.70L240.6 367.11L241.1 367.17L241.6 366.98L242.1 367.34L242.6 367.32L243.1 367.03L243.6 367.26L244.1 366.62L244.6 366.72L245.1 367.22L245.6 366.69L246.1 366.93L246.6 367.48L247.1 367.70L247.6 367.30L248.1 366.84L248.6 367.02L249.1 367.50L249.6 367.49L250.1 366.86L250.6 366.46L251.1 366.92L251.6 367.39L252.1 367.70L253.1 367.70L253.6 367.60L254.1 367.21L254.6 366.50L255.1 366.22L255.6 366.79L256.1 367.42L256.6 367.70L258.1 367.70L258.6 367.21L259.1 366.50L259.6 366.61L260.1 367.34L260.6 367.45L261.1 366.71L261.6 366.10L262.1 365.73L262.6 366.49L263.1 367.19L263.6 366.76L264.1 367.06L264.6 367.01L265.1 366.46L265.6 365.70L266.1 365.23L266.6 366.18L267.1 366.92L267.6 366.56L268.1 366.51L268.6 367.24L269.1 367.05L269.6 366.10L270.1 365.73L270.6 366.49L271.1 367.33L271.6 367.42L272.1 367.48L272.6 366.86L273.1 366.51L273.6 366.43L274.1 366.41L274.6 367.22L275.1 367.25L275.6 366.95L276.1 367.18L276.6 366.88L277.1 366.98L277.6 367.30L278.1 367.25L278.6 367.39L278.6 367.70Z" fill="#23a06a"/>
<line x1="114.60" y1="367.45" x2="278.60" y2="367.45" stroke="#23a06a" stroke-width="0.5" />
<path d="M114.6 378.50 L114.6 377.37L115.1 377.28L115.6 377.77L116.1 377.84L116.6 377.61L117.1 377.70L117.6 377.28L118.1 376.47L118.6 374.72L119.1 374.97L119.6 376.86L120.1 377.65L120.6 377.07L121.1 377.62L121.6 378.30L122.1 378.50L122.6 378.39L123.1 377.88L123.6 377.16L124.1 377.43L124.6 375.62L125.1 372.30L125.6 370.50L126.1 372.30L126.6 375.62L127.1 375.66L127.6 375.85L128.1 377.27L128.6 378.21L129.1 377.96L129.6 377.86L130.1 378.15L130.6 378.37L131.1 377.85L131.6 376.90L132.1 376.53L132.6 377.29L133.1 378.13L133.6 378.50L137.6 378.50L138.1 378.29L138.6 377.68L139.1 377.20L139.6 376.90L140.1 376.53L140.6 377.29L141.1 378.13L141.6 378.34L142.1 378.50L142.6 378.50L143.1 378.41L143.6 377.91L144.1 377.14L144.6 377.34L145.1 378.01L145.6 377.30L146.1 377.02L146.6 377.44L147.1 377.48L147.6 377.78L148.1 377.10L148.6 377.49L149.1 378.04L149.6 378.29L150.1 378.50L150.6 378.40L151.1 378.01L151.6 377.30L152.1 377.02L152.6 377.59L153.1 378.22L153.6 378.50L154.1 378.50L154.6 378.41L155.1 377.99L155.6 377.45L156.1 377.70L156.6 378.28L157.1 378.50L159.1 378.50L159.6 378.16L160.1 377.39L160.6 377.18L161.1 377.93L161.6 377.53L162.1 377.06L162.6 377.01L163.1 373.65L163.6 370.61L164.1 372.09L164.6 375.90L165.1 377.97L165.6 378.26L166.1 377.80L166.6 377.74L167.1 378.20L167.6 378.50L168.1 378.50L168.6 378.37L169.1 377.85L169.6 376.90L170.1 376.53L170.6 377.26L171.1 377.84L171.6 377.47L172.1 377.23L172.6 377.86L173.1 378.11L173.6 377.43L174.1 377.41L174.6 377.55L175.1 377.86L175.6 377.30L176.1 377.02L176.6 377.10L177.1 377.90L177.6 378.40L178.1 378.50L179.6 378.50L180.1 378.36L180.6 378.15L181.1 378.00L181.6 378.15L182.1 378.41L182.6 378.50L184.1 378.50L184.6 378.13L185.1 377.29L185.6 376.53L186.1 376.90L186.6 377.85L187.1 378.37L187.6 378.50L188.1 378.50L188.6 378.24L189.1 377.83L189.6 377.85L190.1 377.62L190.6 377.25L191.1 377.85L191.6 377.30L192.1 377.02L192.6 377.59L193.1 377.93L193.6 378.11L194.1 377.88L194.6 377.36L195.1 377.72L195.6 376.90L196.1 376.53L196.6 377.29L197.1 378.13L197.6 378.50L198.1 378.50L198.6 378.30L199.1 377.53L199.6 376.10L200.1 375.54L200.6 376.68L201.1 377.69L201.6 378.30L202.1 377.53L202.6 376.10L203.1 375.54L203.6 376.68L204.1 377.73L204.6 378.20L205.1 377.20L205.6 375.30L206.1 374.56L206.6 376.07L207.1 377.75L207.6 378.39L208.1 378.50L208.6 378.11L209.1 376.55L209.6 373.70L210.1 372.58L210.6 374.86L211.1 377.38L211.6 376.10L212.1 375.54L212.6 376.68L213.1 377.94L213.6 378.41L214.1 377.94L214.6 377.19L215.1 377.37L215.6 378.14L216.1 378.01L216.6 377.39L217.1 377.58L217.6 377.59L218.1 377.31L218.6 377.92L219.1 378.40L219.6 378.50L220.1 378.01L220.6 377.34L221.1 377.49L221.6 377.30L222.1 377.02L222.6 377.59L223.1 377.64L223.6 377.34L224.1 377.92L224.6 378.39L225.1 378.50L226.1 378.50L226.6 378.32L227.1 377.64L227.6 377.01L228.1 377.20L228.6 378.01L229.1 378.01L229.6 377.30L230.1 377.02L230.6 377.59L231.1 378.22L231.6 378.50L233.1 378.50L233.6 378.30L234.1 377.62L234.6 377.07L235.1 377.64L235.6 377.22L236.1 377.17L236.6 377.91L237.1 377.66L237.6 377.20L238.1 377.77L238.6 378.35L239.1 378.50L239.6 378.29L240.1 378.10L240.6 377.52L241.1 377.54L241.6 377.41L242.1 377.72L242.6 377.33L243.1 377.33L243.6 378.07L244.1 378.01L244.6 377.30L245.1 377.02L245.6 377.34L246.1 378.08L246.6 378.50L247.6 378.50L248.1 378.22L248.6 377.76L249.1 377.78L249.6 378.24L250.1 378.50L251.1 378.50L251.6 378.28L252.1 378.13L252.6 378.27L253.1 378.50L253.6 378.37L254.1 377.85L254.6 376.90L255.1 376.53L255.6 377.29L256.1 378.13L256.6 378.05L257.1 377.46L257.6 377.62L258.1 378.23L258.6 378.50L260.1 378.50L260.6 377.97L261.1 375.90L261.6 372.09L262.1 370.61L262.6 373.65L263.1 374.26L263.6 372.50L264.1 374.26L264.6 375.30L265.1 374.56L265.6 376.07L266.1 377.75L266.6 377.57L267.1 377.08L267.6 376.55L268.1 373.70L268.6 372.58L269.1 374.86L269.6 377.38L270.1 378.20L270.6 378.50L271.1 378.31L271.6 377.77L272.1 377.50L272.6 377.99L273.1 378.41L273.6 378.36L274.1 377.77L274.6 377.08L275.1 377.48L275.6 377.20L276.1 377.50L276.6 377.66L277.1 378.15L277.6 378.23L278.1 377.53L278.6 377.23L278.6 378.50Z" fill="#c5307e"/>
<line x1="114.60" y1="378.25" x2="278.60" y2="378.25" stroke="#c5307e" stroke-width="0.5" />
<path d="M114.6 389.50 L114.6 388.52L115.1 388.81L115.6 389.32L116.1 389.50L117.1 389.50L117.6 389.23L118.1 388.49L118.6 387.61L119.1 387.74L119.6 388.38L120.1 388.90L120.6 389.38L121.1 389.50L122.1 389.50L122.6 389.32L123.1 388.93L123.6 388.83L124.1 389.19L124.6 387.75L125.1 384.55L125.6 382.50L126.1 384.55L126.6 387.75L127.1 389.19L127.6 389.15L128.1 388.63L128.6 388.71L129.1 389.15L129.6 388.50L130.1 388.45L130.6 389.06L131.1 388.87L131.6 388.30L132.1 388.02L132.6 388.59L133.1 388.46L133.6 388.55L134.1 388.71L134.6 388.70L135.1 388.33L135.6 388.21L136.1 388.97L136.6 388.66L137.1 388.17L137.6 388.72L138.1 388.68L138.6 388.64L139.1 388.85L139.6 387.90L140.1 387.53L140.6 388.29L141.1 389.13L141.6 389.50L142.1 389.50L142.6 389.30L143.1 389.30L143.6 389.50L144.6 389.50L145.1 389.11L145.6 388.54L146.1 388.19L146.6 388.54L147.1 388.83L147.6 388.52L148.1 388.97L148.6 388.63L149.1 388.28L149.6 388.87L150.1 389.38L150.6 389.50L155.1 389.50L155.6 389.30L156.1 388.91L156.6 388.87L157.1 389.25L157.6 389.37L158.1 388.98L158.6 388.74L159.1 388.45L159.6 388.50L160.1 388.50L160.6 389.07L161.1 389.50L161.6 389.42L162.1 389.31L162.6 388.38L163.1 385.86L163.6 383.58L164.1 384.70L164.6 387.55L165.1 389.11L165.6 389.10L166.1 389.13L166.6 389.37L167.1 389.50L167.6 389.50L168.1 389.38L168.6 388.87L169.1 388.24L169.6 388.30L170.1 388.02L170.6 388.59L171.1 389.22L171.6 389.50L172.1 389.50L172.6 389.38L173.1 388.86L173.6 388.21L174.1 388.22L174.6 388.90L175.1 389.08L175.6 388.46L176.1 388.56L176.6 388.85L177.1 389.18L177.6 389.50L178.6 389.50L179.1 389.29L179.6 388.86L180.1 388.76L180.6 389.19L181.1 389.35L181.6 389.20L182.1 389.28L182.6 389.50L186.6 389.50L187.1 389.21L187.6 388.55L188.1 388.36L188.6 388.19L189.1 388.62L189.6 389.23L190.1 388.55L190.6 388.25L191.1 388.90L191.6 388.42L192.1 388.59L192.6 389.18L193.1 389.13L193.6 389.21L194.1 388.78L194.6 388.36L195.1 388.77L195.6 388.30L196.1 388.02L196.6 388.59L197.1 389.22L197.6 389.50L198.1 389.50L198.6 389.37L199.1 388.85L199.6 387.90L200.1 387.53L200.6 388.29L201.1 389.13L201.6 389.50L202.1 389.20L202.6 388.63L203.1 388.57L203.6 389.14L204.1 389.50L204.6 389.30L205.1 388.53L205.6 387.10L206.1 386.54L206.6 387.68L207.1 388.94L207.6 389.41L208.1 389.50L208.6 389.24L209.1 388.20L209.6 386.30L210.1 385.56L210.6 387.07L211.1 388.75L211.6 389.27L212.1 389.50L212.6 389.28L213.1 388.97L213.6 388.93L214.1 389.13L214.6 389.16L215.1 388.81L215.6 388.98L216.1 388.99L216.6 389.01L217.1 389.10L217.6 388.53L218.1 388.64L218.6 388.97L219.1 389.08L219.6 389.12L220.1 388.55L220.6 388.62L221.1 389.11L221.6 388.54L222.1 388.32L222.6 388.17L223.1 388.48L223.6 389.21L224.1 388.60L224.6 388.25L225.1 388.86L225.6 389.38L226.1 389.50L227.1 389.50L227.6 389.16L228.1 388.52L228.6 388.45L229.1 389.09L229.6 389.37L230.1 389.50L233.1 389.50L233.6 389.23L234.1 388.85L234.6 388.92L235.1 389.31L235.6 389.50L236.1 389.36L236.6 389.00L237.1 388.84L237.6 389.17L238.1 389.50L241.1 389.50L241.6 389.20L242.1 388.81L242.6 388.51L243.1 388.42L243.6 389.06L244.1 388.89L244.6 388.22L245.1 388.32L245.6 388.77L246.1 388.60L246.6 388.16L247.1 388.50L247.6 389.23L248.1 389.50L251.6 389.50L252.1 389.41L252.6 389.11L253.1 388.90L253.6 389.16L254.1 389.01L254.6 388.30L255.1 388.02L255.6 388.59L256.1 389.22L256.6 389.50L257.6 389.50L258.1 389.15L258.6 388.64L259.1 388.71L259.6 389.16L260.1 389.40L260.6 389.05L261.1 388.20L261.6 386.30L262.1 385.56L262.6 387.07L263.1 388.53L263.6 387.10L264.1 386.54L264.6 387.68L265.1 388.94L265.6 389.02L266.1 388.87L266.6 389.19L267.1 389.24L267.6 388.20L268.1 386.30L268.6 385.56L269.1 387.07L269.6 388.75L270.1 388.98L270.6 388.59L271.1 388.92L271.6 389.36L272.1 389.50L273.6 389.50L274.1 389.39L274.6 388.88L275.1 388.25L275.6 388.58L276.1 389.25L276.6 389.50L278.6 389.50L278.6 389.50Z" fill="#c5307e"/>
<line x1="114.60" y1="389.25" x2="278.60" y2="389.25" stroke="#c5307e" stroke-width="0.5" />
<path d="M114.6 401.10 L114.6 401.10L117.1 401.10L117.6 400.94L118.1 400.70L118.6 400.74L119.1 400.98L119.6 401.10L120.1 400.92L120.6 400.70L121.1 400.57L121.6 400.82L122.1 401.10L123.1 401.10L123.6 400.83L124.1 400.65L124.6 400.55L125.1 400.80L125.6 400.94L126.1 400.86L126.6 400.96L127.1 401.10L133.6 401.10L134.1 401.01L134.6 400.84L135.1 400.81L135.6 400.98L136.1 401.10L137.1 401.10L137.6 400.99L138.1 400.85L138.6 400.90L139.1 400.79L139.6 400.66L140.1 400.87L140.6 401.10L143.1 401.10L143.6 400.88L144.1 400.63L144.6 400.72L145.1 400.99L145.6 401.10L153.6 401.10L154.1 400.82L154.6 400.61L155.1 400.79L155.6 401.10L164.1 401.10L164.6 400.80L165.1 400.50L165.6 400.66L166.1 400.61L166.6 400.79L167.1 400.97L167.6 400.83L168.1 400.90L168.6 401.10L176.6 401.10L177.1 400.94L177.6 400.64L178.1 400.62L178.6 400.92L179.1 401.10L182.1 401.10L182.6 400.80L183.1 400.53L183.6 400.70L184.1 400.50L184.6 400.64L185.1 400.97L185.6 401.10L187.6 401.10L188.1 401.01L188.6 400.82L189.1 400.77L189.6 400.96L190.1 401.10L191.1 401.10L191.6 400.93L192.1 400.63L192.6 400.63L193.1 400.93L193.6 401.10L199.6 401.10L200.1 400.81L200.6 400.48L201.1 400.61L201.6 400.96L202.1 400.82L202.6 400.73L203.1 400.92L203.6 401.10L204.1 400.91L204.6 400.88L205.1 401.01L205.6 401.10L208.1 401.10L208.6 400.93L209.1 400.72L209.6 400.68L210.1 400.79L210.6 401.01L211.1 401.10L216.1 401.10L216.6 400.97L217.1 400.61L217.6 400.44L218.1 400.77L218.6 400.99L219.1 400.77L219.6 400.75L220.1 400.78L220.6 400.43L221.1 400.57L221.6 400.89L222.1 401.10L225.1 401.10L225.6 400.89L226.1 400.69L226.6 400.81L227.1 401.10L227.6 401.10L228.1 400.82L228.6 400.60L229.1 400.78L229.6 401.10L233.1 401.10L233.6 400.94L234.1 400.77L234.6 400.84L235.1 401.10L238.6 401.10L239.1 401.00L239.6 400.74L240.1 400.63L240.6 400.87L241.1 401.10L243.6 401.10L244.1 400.94L244.6 400.63L245.1 400.60L245.6 400.91L246.1 401.10L248.1 401.10L248.6 401.00L249.1 400.81L249.6 400.79L250.1 400.97L250.6 401.10L251.1 401.10L251.6 400.88L252.1 400.51L252.6 400.50L253.1 400.88L253.6 401.10L254.1 401.10L254.6 401.00L255.1 400.81L255.6 400.78L256.1 400.97L256.6 401.10L257.1 401.10L257.6 400.92L258.1 400.75L258.6 400.85L259.1 401.10L273.6 401.10L274.1 400.99L274.6 400.88L275.1 400.87L275.6 400.87L276.1 401.02L276.6 401.10L278.6 401.10L278.6 401.10Z" fill="#8a8a8a"/>
<line x1="114.60" y1="400.85" x2="278.60" y2="400.85" stroke="#9a9a9a" stroke-width="0.5" />
<path d="M114.6 411.20 L114.6 411.20L117.1 411.20L117.6 410.98L118.1 410.97L118.6 411.11L119.1 411.20L127.6 411.20L128.1 411.04L128.6 410.95L129.1 410.97L129.6 411.00L130.1 411.20L134.1 411.20L134.6 411.08L135.1 410.89L135.6 410.91L136.1 411.10L136.6 411.20L145.1 411.20L145.6 410.99L146.1 410.83L146.6 410.97L147.1 411.20L150.6 411.20L151.1 411.04L151.6 410.83L152.1 410.88L152.6 411.10L153.1 411.20L180.1 411.20L180.6 411.11L181.1 410.91L181.6 410.83L182.1 411.03L182.6 411.20L188.1 411.20L188.6 410.95L189.1 410.92L189.6 411.08L190.1 411.20L218.6 411.20L219.1 411.11L219.6 410.95L220.1 410.94L220.6 411.10L221.1 411.20L277.6 411.20L278.1 411.01L278.6 410.97L278.6 411.20Z" fill="#c8c8c8"/>
<line x1="114.60" y1="410.95" x2="278.60" y2="410.95" stroke="#e4e4e4" stroke-width="0.4" />
<path d="M388.7 335.40 L388.7 335.12L389.2 335.21L389.7 335.40L390.7 335.40L391.2 335.30L391.7 335.09L392.2 335.04L392.7 335.25L393.2 335.40L397.7 335.40L398.2 335.08L398.7 334.88L399.2 335.08L399.7 335.25L400.2 334.86L400.7 333.37L401.2 331.62L401.7 331.87L402.2 333.76L402.7 331.76L403.2 329.48L403.7 330.60L404.2 333.45L404.7 332.75L405.2 332.56L405.7 333.88L406.2 334.99L406.7 334.90L407.2 333.99L407.7 333.40L408.2 333.99L408.7 334.90L409.2 335.01L409.7 335.10L410.2 335.23L410.7 335.40L412.7 335.40L413.2 335.31L413.7 334.90L414.2 333.99L414.7 333.40L415.2 333.99L415.7 334.90L416.2 335.31L416.7 335.21L417.2 334.58L417.7 333.64L418.2 333.51L418.7 334.39L419.2 335.13L419.7 335.11L420.2 334.17L420.7 332.75L421.2 332.56L421.7 333.88L422.2 334.73L422.7 332.52L423.2 329.22L423.7 328.78L424.2 331.86L424.7 331.87L425.2 331.62L425.7 333.37L426.2 334.86L426.7 335.40L436.2 335.40L436.7 335.13L437.2 334.87L437.7 335.02L438.2 335.09L438.7 334.98L439.2 335.09L439.7 335.23L440.2 335.40L442.7 335.40L443.2 335.19L443.7 334.95L444.2 335.05L444.7 334.97L445.2 335.13L445.7 335.00L446.2 334.99L446.7 335.21L447.2 335.20L447.7 335.40L457.2 335.40L457.7 335.07L458.2 334.88L458.7 335.10L459.2 335.40L459.7 335.40L460.2 335.20L460.7 334.97L461.2 335.06L461.7 335.30L462.2 335.40L464.2 335.40L464.7 335.26L465.2 335.18L465.7 335.27L466.2 335.40L472.2 335.40L472.7 335.19L473.2 335.04L473.7 335.17L474.2 335.40L480.2 335.40L480.7 335.21L481.2 334.95L481.7 335.01L482.2 335.06L482.7 335.24L483.2 335.40L488.2 335.40L488.7 335.12L489.2 335.02L489.7 335.21L490.2 335.14L490.7 335.02L491.2 335.19L491.7 335.40L493.2 335.40L493.7 335.18L494.2 334.89L494.7 334.97L495.2 335.26L495.7 335.40L496.2 335.26L496.7 334.93L497.2 334.84L497.7 335.16L498.2 335.07L498.7 334.80L499.0 335.40Z" fill="#233f8c"/>
<line x1="388.70" y1="335.15" x2="499.00" y2="335.15" stroke="#233f8c" stroke-width="0.5" />
<path d="M388.7 346.40 L388.7 346.40L389.2 346.27L389.7 346.08L390.2 346.11L390.7 346.30L391.2 346.40L394.2 346.40L394.7 346.07L395.2 345.87L395.7 345.92L396.2 346.24L396.7 345.97L397.2 345.99L397.7 346.26L398.2 346.40L400.2 346.40L400.7 346.14L401.2 346.04L401.7 346.21L402.2 345.58L402.7 344.64L403.2 344.51L403.7 345.39L404.2 344.64L404.7 344.51L405.2 345.39L405.7 346.13L406.2 345.99L406.7 345.85L407.2 346.01L407.7 345.89L408.2 346.15L408.7 346.40L413.2 346.40L413.7 346.21L414.2 345.58L414.7 344.64L415.2 344.51L415.7 345.39L416.2 346.13L416.7 346.16L417.2 345.37L417.7 344.19L418.2 344.04L418.7 345.13L419.2 345.95L419.7 346.11L420.2 345.17L420.7 343.75L421.2 343.56L421.7 344.88L422.2 344.76L422.7 342.87L423.2 342.62L423.7 344.37L424.2 345.58L424.7 344.64L425.2 344.51L425.7 345.39L426.2 346.11L426.7 346.31L427.2 346.31L427.7 346.11L428.2 346.08L428.7 346.27L429.2 345.99L429.7 345.52L430.2 345.45L430.7 345.89L431.2 346.19L431.7 346.29L432.2 346.25L432.7 346.05L433.2 346.10L433.7 346.31L434.2 346.40L438.2 346.40L438.7 346.30L439.2 345.99L439.7 345.52L440.2 345.45L440.7 345.89L441.2 345.96L441.7 346.20L442.2 346.40L443.7 346.40L444.2 346.29L444.7 346.17L445.2 346.22L445.7 346.40L449.2 346.40L449.7 346.16L450.2 345.94L450.7 346.08L451.2 346.32L451.7 346.40L453.2 346.40L453.7 346.27L454.2 346.05L454.7 346.06L455.2 346.28L455.7 346.40L456.2 346.40L456.7 346.25L457.2 346.14L457.7 346.22L458.2 346.40L461.2 346.40L461.7 346.25L462.2 346.14L462.7 346.24L463.2 346.40L463.7 346.40L464.2 346.18L464.7 345.94L465.2 346.04L465.7 346.19L466.2 346.30L466.7 346.40L467.7 346.40L468.2 346.12L468.7 345.83L469.2 345.96L469.7 346.28L470.2 346.40L480.7 346.40L481.2 346.25L481.7 346.20L482.2 346.29L482.7 346.40L495.2 346.40L495.7 346.22L496.2 345.97L496.7 346.02L497.2 345.97L497.7 345.84L498.2 346.13L498.7 346.40L499.0 346.40Z" fill="#233f8c"/>
<line x1="388.70" y1="346.15" x2="499.00" y2="346.15" stroke="#233f8c" stroke-width="0.5" />
<path d="M388.7 357.60 L388.7 357.60L389.2 357.60L389.7 357.45L390.2 357.29L390.7 357.38L391.2 357.60L393.2 357.60L393.7 357.46L394.2 356.98L394.7 356.28L395.2 356.18L395.7 356.84L396.2 357.40L396.7 357.60L400.2 357.60L400.7 357.50L401.2 357.19L401.7 356.72L402.2 356.65L402.7 357.09L403.2 357.21L403.7 357.14L404.2 357.38L404.7 357.09L405.2 357.15L405.7 357.46L406.2 357.60L408.2 357.60L408.7 357.42L409.2 357.19L409.7 356.72L410.2 356.65L410.7 357.09L411.2 357.21L411.7 357.42L412.2 357.60L415.7 357.60L416.2 357.34L416.7 357.16L417.2 357.10L417.7 356.72L418.2 356.65L418.7 357.09L419.2 357.46L419.7 357.60L420.2 357.60L420.7 357.37L421.2 357.23L421.7 357.37L422.2 357.60L422.7 357.48L423.2 357.36L423.7 357.42L424.2 357.60L427.7 357.60L428.2 357.45L428.7 357.25L429.2 357.19L429.7 356.72L430.2 356.65L430.7 357.09L431.2 357.46L431.7 357.60L436.7 357.60L437.2 357.41L437.7 357.33L438.2 357.47L438.7 357.50L439.2 357.19L439.7 356.72L440.2 356.65L440.7 357.09L441.2 357.46L441.7 357.41L442.2 357.13L442.7 357.18L443.2 357.46L443.7 357.60L446.2 357.60L446.7 357.46L447.2 357.32L447.7 357.39L448.2 357.60L448.7 357.60L449.2 357.37L449.7 357.12L450.2 357.22L450.7 357.26L451.2 357.28L451.7 357.49L452.2 357.60L454.2 357.60L454.7 357.50L455.2 357.30L455.7 357.27L456.2 357.47L456.7 357.41L457.2 356.78L457.7 355.84L458.2 355.71L458.7 356.59L459.2 357.33L459.7 357.60L460.2 357.60L460.7 357.22L461.2 355.96L461.7 354.07L462.2 353.82L462.7 355.57L463.2 355.54L463.7 353.19L464.2 352.87L464.7 355.02L465.2 353.24L465.7 351.86L466.2 351.72L466.7 352.90L467.2 352.52L467.7 350.91L468.2 350.74L468.7 352.12L469.2 354.19L469.7 353.19L470.2 352.87L470.7 355.07L471.2 356.37L471.7 354.95L472.2 354.76L472.7 356.08L473.2 357.19L473.7 357.31L474.2 356.37L474.7 354.95L475.2 354.76L475.7 356.08L476.2 357.19L476.7 357.60L477.2 357.46L477.7 357.17L478.2 357.11L478.7 357.23L479.2 357.09L479.7 356.72L480.2 356.65L480.7 357.09L481.2 357.17L481.7 357.39L482.2 357.60L488.2 357.60L488.7 357.50L489.2 357.19L489.7 356.72L490.2 356.65L490.7 357.09L491.2 357.46L491.7 357.60L492.2 357.60L492.7 357.41L493.2 357.13L493.7 357.16L494.2 357.45L494.7 357.60L495.2 357.60L495.7 357.50L496.2 357.19L496.7 356.72L497.2 356.65L497.7 357.09L498.2 357.46L498.7 357.60L499.0 357.60Z" fill="#23a06a"/>
<line x1="388.70" y1="357.35" x2="499.00" y2="357.35" stroke="#23a06a" stroke-width="0.5" />
<path d="M388.7 368.40 L388.7 368.40L390.2 368.40L390.7 368.30L391.2 367.99L391.7 367.52L392.2 367.45L392.7 367.89L393.2 368.26L393.7 368.40L396.7 368.40L397.2 368.29L397.7 368.14L398.2 368.17L398.7 368.26L399.2 367.78L399.7 367.08L400.2 366.98L400.7 367.64L401.2 368.20L401.7 368.11L402.2 368.07L402.7 368.17L403.2 368.40L405.7 368.40L406.2 368.22L406.7 367.97L407.2 368.02L407.7 368.27L408.2 368.25L408.7 368.16L409.2 367.99L409.7 367.52L410.2 367.45L410.7 367.89L411.2 368.26L411.7 368.40L412.2 368.13L412.7 367.89L413.2 368.04L413.7 368.31L414.2 368.40L416.2 368.40L416.7 368.22L417.2 367.93L417.7 367.95L418.2 368.18L418.7 368.10L419.2 367.99L419.7 367.52L420.2 367.45L420.7 367.89L421.2 368.26L421.7 368.07L422.2 367.93L422.7 368.16L423.2 368.40L431.2 368.40L431.7 368.24L432.2 367.95L432.7 367.95L433.2 368.23L433.7 368.40L438.2 368.40L438.7 368.30L439.2 367.99L439.7 367.52L440.2 367.45L440.7 367.89L441.2 368.26L441.7 368.40L442.7 368.40L443.2 368.31L443.7 368.18L444.2 368.20L444.7 368.40L448.2 368.40L448.7 368.28L449.2 368.02L449.7 367.97L450.2 368.22L450.7 368.40L452.7 368.40L453.2 368.11L453.7 367.95L454.2 367.58L454.7 366.64L455.2 366.51L455.7 367.39L456.2 368.06L456.7 368.40L457.2 368.40L457.7 368.29L458.2 368.16L458.7 368.11L459.2 367.17L459.7 365.75L460.2 365.56L460.7 366.88L461.2 367.99L461.7 368.40L462.2 368.40L462.7 367.92L463.2 366.34L463.7 363.99L464.2 363.67L464.7 365.87L465.2 365.52L465.7 362.22L466.2 361.78L466.7 361.86L467.2 359.80L467.7 359.58L468.2 361.36L468.7 364.02L469.2 362.22L469.7 361.78L470.2 364.86L470.7 364.87L471.2 364.62L471.7 366.37L472.2 367.86L472.7 368.40L474.2 368.40L474.7 368.21L475.2 367.58L475.7 366.64L476.2 366.51L476.7 367.39L477.2 368.13L477.7 368.40L478.2 368.40L478.7 368.19L479.2 368.19L479.7 368.40L480.2 368.40L480.7 368.30L481.2 367.99L481.7 367.52L482.2 367.45L482.7 367.89L483.2 368.26L483.7 368.40L484.2 368.40L484.7 368.15L485.2 367.99L485.7 368.16L486.2 368.40L487.2 368.40L487.7 368.16L488.2 368.06L488.7 368.22L489.2 368.40L493.2 368.40L493.7 368.21L494.2 367.58L494.7 366.64L495.2 366.51L495.7 367.39L496.2 368.13L496.7 368.05L497.2 368.24L497.7 368.07L498.2 368.07L498.7 368.28L499.0 368.40Z" fill="#23a06a"/>
<line x1="388.70" y1="368.15" x2="499.00" y2="368.15" stroke="#23a06a" stroke-width="0.5" />
<path d="M388.7 379.60 L388.7 379.60L389.7 379.60L390.2 379.47L390.7 379.36L391.2 379.43L391.7 379.60L400.7 379.60L401.2 379.43L401.7 379.40L402.2 379.52L402.7 379.60L404.2 379.60L404.7 379.38L405.2 378.87L405.7 378.42L406.2 378.64L406.7 379.21L407.2 379.19L407.7 378.72L408.2 378.65L408.7 379.09L409.2 379.46L409.7 379.60L413.2 379.60L413.7 379.40L414.2 379.26L414.7 379.39L415.2 379.30L415.7 379.44L416.2 379.60L416.7 379.60L417.2 379.45L417.7 379.33L418.2 379.42L418.7 379.60L419.2 379.27L419.7 378.89L420.2 378.84L420.7 379.19L421.2 379.19L421.7 378.72L422.2 378.65L422.7 379.09L423.2 379.27L423.7 378.89L424.2 378.84L424.7 379.19L425.2 379.49L425.7 379.60L434.2 379.60L434.7 379.42L435.2 379.39L435.7 379.51L436.2 379.60L438.7 379.60L439.2 379.48L439.7 379.14L440.2 378.75L440.7 378.81L441.2 379.23L441.7 379.51L442.2 379.35L442.7 379.12L443.2 379.26L443.7 379.41L444.2 379.35L444.7 379.48L445.2 379.60L448.7 379.60L449.2 379.48L449.7 379.31L450.2 379.33L450.7 379.34L451.2 379.21L451.7 379.15L452.2 379.41L452.7 379.60L458.7 379.60L459.2 379.48L459.7 379.30L460.2 379.33L460.7 379.51L461.2 379.60L463.7 379.60L464.2 379.43L464.7 379.21L465.2 379.27L465.7 379.50L466.2 379.47L466.7 379.32L467.2 379.39L467.7 379.60L468.7 379.60L469.2 379.50L469.7 379.37L470.2 379.40L470.7 379.60L475.7 379.60L476.2 379.43L476.7 379.33L477.2 379.45L477.7 379.60L482.2 379.60L482.7 379.34L483.2 379.10L483.7 379.16L484.2 379.16L484.7 379.44L485.2 379.36L485.7 379.20L486.2 379.35L486.7 379.38L487.2 379.50L487.7 379.60L489.7 379.60L490.2 379.39L490.7 379.25L491.2 379.38L491.7 379.60L492.2 379.51L492.7 379.23L493.2 378.81L493.7 378.75L494.2 379.14L494.7 379.47L495.2 379.40L495.7 379.48L496.2 379.60L496.7 379.60L497.2 379.43L497.7 379.41L498.2 379.60L498.7 379.60L499.0 379.60Z" fill="#d0508e"/>
<line x1="388.70" y1="379.35" x2="499.00" y2="379.35" stroke="#eaa0c4" stroke-width="0.5" />
<path d="M388.7 390.70 L388.7 390.70L389.2 390.56L389.7 390.42L390.2 390.48L390.7 390.70L391.2 390.50L391.7 390.36L392.2 390.49L392.7 390.70L394.7 390.70L395.2 390.57L395.7 390.34L396.2 390.34L396.7 390.57L397.2 390.70L400.2 390.70L400.7 390.57L401.2 390.27L401.7 389.73L402.2 389.21L402.7 389.15L403.2 389.49L403.7 388.84L404.2 388.76L404.7 389.34L405.2 389.30L405.7 389.25L406.2 389.68L406.7 390.21L407.2 390.54L407.7 390.70L412.2 390.70L412.7 390.60L413.2 390.44L413.7 390.44L414.2 390.52L414.7 390.46L415.2 390.58L415.7 390.70L416.2 390.39L416.7 390.23L417.2 390.26L417.7 390.21L418.2 389.64L418.7 389.56L419.2 390.09L419.7 390.17L420.2 389.55L420.7 389.47L421.2 390.04L421.7 390.52L422.2 390.36L422.7 390.47L423.2 390.70L424.7 390.70L425.2 390.54L425.7 390.46L426.2 390.57L426.7 390.45L427.2 390.39L427.7 390.56L428.2 390.44L428.7 390.37L429.2 390.54L429.7 390.70L432.7 390.70L433.2 390.54L433.7 390.32L434.2 390.38L434.7 390.37L435.2 390.50L435.7 390.70L440.2 390.70L440.7 390.38L441.2 389.90L441.7 389.71L442.2 390.09L442.7 390.51L443.2 390.70L455.2 390.70L455.7 390.54L456.2 390.36L456.7 390.44L457.2 390.57L457.7 390.42L458.2 390.48L458.7 390.61L459.2 390.36L459.7 390.22L460.2 390.45L460.7 390.70L468.2 390.70L468.7 390.53L469.2 390.51L469.7 390.70L470.2 390.52L470.7 390.41L471.2 390.52L471.7 390.70L474.7 390.70L475.2 390.44L475.7 390.22L476.2 390.37L476.7 390.40L477.2 390.50L477.7 390.31L478.2 390.42L478.7 390.70L480.7 390.70L481.2 390.46L481.7 390.36L482.2 390.52L482.7 390.70L488.7 390.70L489.2 390.62L489.7 390.43L490.2 390.37L490.7 390.56L491.2 390.70L494.7 390.70L495.2 390.62L495.7 390.38L496.2 390.26L496.7 390.47L497.2 390.70L498.7 390.70L499.0 390.70Z" fill="#d0508e"/>
<line x1="388.70" y1="390.45" x2="499.00" y2="390.45" stroke="#eaa0c4" stroke-width="0.5" />
<path d="M388.7 401.70 L388.7 401.70L389.7 401.70L390.2 401.47L390.7 401.35L391.2 401.47L391.7 401.35L392.2 401.50L392.7 401.70L393.2 401.25L393.7 400.36L394.2 400.22L394.7 400.63L395.2 400.54L395.7 399.97L396.2 399.69L396.7 400.50L397.2 400.18L397.7 400.99L398.2 400.30L398.7 399.96L399.2 400.90L399.7 401.57L400.2 401.41L400.7 400.83L401.2 400.74L401.7 401.03L402.2 400.55L402.7 400.88L403.2 400.29L403.7 400.80L404.2 400.82L404.7 400.91L405.2 401.41L405.7 401.01L406.2 401.10L406.7 401.11L407.2 400.39L407.7 400.63L408.2 400.46L408.7 400.38L409.2 401.09L409.7 400.43L410.2 400.74L410.7 400.98L411.2 400.77L411.7 401.25L412.2 401.10L412.7 400.67L413.2 400.22L413.7 400.92L414.2 400.82L414.7 400.79L415.2 401.35L415.7 401.70L416.2 401.17L416.7 400.11L417.2 399.94L417.7 400.98L418.2 400.94L418.7 400.19L419.2 400.54L419.7 399.37L420.2 399.97L420.7 401.23L421.2 400.61L421.7 398.41L422.2 398.06L422.7 400.02L423.2 397.59L423.7 397.98L424.2 400.46L424.7 399.36L425.2 398.13L425.7 399.70L426.2 400.01L426.7 399.52L427.2 397.71L427.7 399.01L428.2 398.79L428.7 399.46L429.2 399.29L429.7 399.04L430.2 399.84L430.7 399.99L431.2 399.41L431.7 400.57L432.2 400.51L432.7 399.75L433.2 400.17L433.7 399.20L434.2 400.20L434.7 398.12L435.2 398.49L435.7 398.79L436.2 398.20L436.7 400.15L437.2 400.61L437.7 399.58L438.2 400.18L438.7 400.62L439.2 398.72L439.7 398.65L440.2 400.55L440.7 398.89L441.2 398.48L441.7 400.34L442.2 399.64L442.7 400.39L443.2 401.40L443.7 401.44L444.2 401.39L444.7 401.57L445.2 401.70L445.7 401.43L446.2 401.18L446.7 401.34L447.2 401.44L447.7 401.40L448.2 401.15L448.7 401.33L449.2 400.74L449.7 398.80L450.2 398.50L450.7 398.79L451.2 398.70L451.7 397.28L452.2 397.18L452.7 400.00L453.2 396.92L453.7 395.95L454.2 399.16L454.7 399.75L455.2 398.47L455.7 399.73L456.2 400.14L456.7 398.31L457.2 399.00L457.7 397.76L458.2 399.35L458.7 399.50L459.2 398.83L459.7 398.44L460.2 397.42L460.7 399.63L461.2 399.15L461.7 397.31L462.2 398.92L462.7 397.86L463.2 397.99L463.7 395.47L464.2 397.00L464.7 400.34L465.2 397.21L465.7 396.23L466.2 399.16L466.7 397.14L467.2 398.68L467.7 396.48L468.2 397.45L468.7 399.77L469.2 397.76L469.7 398.74L470.2 400.88L470.7 401.46L471.2 401.42L471.7 401.58L472.2 401.70L472.7 401.41L473.2 401.12L473.7 399.96L474.2 399.78L474.7 399.87L475.2 399.64L475.7 400.85L476.2 400.54L476.7 400.44L477.2 400.10L477.7 399.64L478.2 400.22L478.7 400.25L479.2 401.18L479.7 400.90L480.2 400.32L480.7 400.82L481.2 399.79L481.7 399.48L482.2 400.75L482.7 401.45L483.2 401.24L483.7 400.33L484.2 400.19L484.7 400.90L485.2 399.97L485.7 400.32L486.2 400.07L486.7 400.28L487.2 400.60L487.7 400.25L488.2 401.00L488.7 400.81L489.2 400.71L489.7 401.29L490.2 400.49L490.7 400.39L491.2 401.18L491.7 400.96L492.2 400.23L492.7 400.62L493.2 401.41L493.7 401.48L494.2 401.43L494.7 401.39L495.2 401.53L495.7 401.70L498.7 401.70L499.0 401.70Z" fill="#6a6a6a"/>
<line x1="388.70" y1="401.45" x2="499.00" y2="401.45" stroke="#b0b0b0" stroke-width="0.5" />
<path d="M388.7 412.60 L388.7 412.40L389.2 412.07L389.7 412.09L390.2 412.42L390.7 412.60L391.2 412.34L391.7 411.81L392.2 411.73L392.7 412.25L393.2 412.05L393.7 411.69L394.2 412.04L394.7 411.82L395.2 411.38L395.7 411.89L396.2 412.36L396.7 411.92L397.2 411.91L397.7 412.34L398.2 412.60L398.7 412.60L399.2 412.40L399.7 412.14L400.2 412.22L400.7 412.44L401.2 412.16L401.7 411.29L402.2 411.15L402.7 411.78L403.2 410.40L403.7 410.42L404.2 411.80L404.7 410.19L405.2 409.95L405.7 410.26L406.2 409.92L406.7 411.29L407.2 410.61L407.7 411.49L408.2 412.31L408.7 412.14L409.2 412.32L409.7 412.60L410.2 412.45L410.7 412.19L411.2 412.18L411.7 412.44L412.2 411.55L412.7 409.45L413.2 409.12L413.7 409.56L414.2 410.43L414.7 410.22L415.2 408.18L415.7 409.57L416.2 408.03L416.7 409.75L417.2 410.19L417.7 410.16L418.2 411.43L418.7 408.97L419.2 408.47L419.7 410.68L420.2 408.88L420.7 409.94L421.2 410.15L421.7 408.51L422.2 410.09L422.7 410.30L423.2 408.14L423.7 409.41L424.2 410.46L424.7 410.59L425.2 409.54L425.7 410.89L426.2 408.55L426.7 407.72L427.2 410.44L427.7 409.36L428.2 410.40L428.7 412.05L429.2 412.60L429.7 412.43L430.2 411.19L430.7 408.35L431.2 407.90L431.7 410.69L432.2 409.78L432.7 410.10L433.2 410.95L433.7 408.03L434.2 407.95L434.7 410.86L435.2 410.03L435.7 409.37L436.2 409.72L436.7 409.26L437.2 410.35L437.7 410.41L438.2 409.59L438.7 407.83L439.2 409.81L439.7 410.49L440.2 409.18L440.7 410.57L441.2 411.77L441.7 410.28L442.2 410.22L442.7 410.14L443.2 409.86L443.7 410.65L444.2 408.00L444.7 408.61L445.2 411.33L445.7 412.45L446.2 412.34L446.7 412.08L447.2 412.22L447.7 412.25L448.2 412.19L448.7 412.35L449.2 410.58L449.7 406.52L450.2 405.88L450.7 409.87L451.2 409.58L451.7 407.05L452.2 408.84L452.7 410.23L453.2 406.00L453.7 405.82L454.2 410.04L454.7 408.54L455.2 409.37L455.7 408.28L456.2 410.47L456.7 409.43L457.2 409.98L457.7 407.75L458.2 407.47L458.7 407.70L459.2 405.89L459.7 409.22L460.2 407.59L460.7 407.30L461.2 410.43L461.7 407.06L462.2 407.40L462.7 409.79L463.2 408.58L463.7 410.49L464.2 409.76L464.7 409.34L465.2 407.86L465.7 408.82L466.2 406.00L466.7 407.12L467.2 407.32L467.7 408.68L468.2 410.06L468.7 407.43L469.2 408.73L469.7 411.53L470.2 412.31L470.7 412.60L471.7 412.60L472.2 412.27L472.7 411.62L473.2 411.51L473.7 411.36L474.2 411.34L474.7 411.30L475.2 410.78L475.7 411.27L476.2 410.79L476.7 411.70L477.2 412.43L477.7 412.60L483.2 412.60L483.7 412.26L484.2 412.02L484.7 412.16L485.2 412.10L485.7 412.39L486.2 412.60L488.7 412.60L489.2 412.05L489.7 410.95L490.2 410.77L490.7 411.86L491.2 411.82L491.7 411.49L492.2 412.02L492.7 411.12L493.2 410.54L493.7 411.55L494.2 412.40L494.7 412.60L498.7 412.60L499.0 412.60Z" fill="#6a6a6a"/>
<line x1="388.70" y1="412.35" x2="499.00" y2="412.35" stroke="#b0b0b0" stroke-width="0.5" />
<line x1="114.60" y1="415.40" x2="124.50" y2="415.40" stroke="#111" stroke-width="0.6" />
<line x1="137.50" y1="415.40" x2="272.00" y2="415.40" stroke="#111" stroke-width="0.6" />
<path d="M136.6 415.4 L138.8 413.7 L138.8 417.1 Z" fill="#111"/>
<rect x="115.60" y="414.30" width="0.80" height="2.20" fill="#111" rx="0.5"/>
<rect x="120.60" y="413.70" width="3.20" height="3.40" fill="#111" rx="0.5"/>
<rect x="154.30" y="414.00" width="1.00" height="2.80" fill="#111" rx="0.5"/>
<rect x="161.40" y="414.30" width="0.80" height="2.20" fill="#111" rx="0.5"/>
<rect x="169.40" y="414.30" width="0.80" height="2.20" fill="#111" rx="0.5"/>
<rect x="171.50" y="414.30" width="0.80" height="2.20" fill="#111" rx="0.5"/>
<rect x="173.50" y="414.30" width="0.80" height="2.20" fill="#111" rx="0.5"/>
<rect x="177.60" y="414.50" width="0.60" height="1.80" fill="#111" rx="0.5"/>
<rect x="258.60" y="413.90" width="5.60" height="3.00" fill="#111" rx="0.5"/>
<rect x="267.40" y="414.20" width="1.40" height="2.40" fill="#111" rx="0.5"/>
<rect x="270.80" y="414.20" width="1.20" height="2.40" fill="#111" rx="0.5"/>
<path d="M142.9 414.5 L142 415.4 L142.9 416.3" fill="none" stroke="#111" stroke-width="0.4"/>
<path d="M147.9 414.5 L147 415.4 L147.9 416.3" fill="none" stroke="#111" stroke-width="0.4"/>
<path d="M182.9 414.5 L182 415.4 L182.9 416.3" fill="none" stroke="#111" stroke-width="0.4"/>
<path d="M188.9 414.5 L188 415.4 L188.9 416.3" fill="none" stroke="#111" stroke-width="0.4"/>
<path d="M194.9 414.5 L194 415.4 L194.9 416.3" fill="none" stroke="#111" stroke-width="0.4"/>
<path d="M200.9 414.5 L200 415.4 L200.9 416.3" fill="none" stroke="#111" stroke-width="0.4"/>
<path d="M206.9 414.5 L206 415.4 L206.9 416.3" fill="none" stroke="#111" stroke-width="0.4"/>
<path d="M212.9 414.5 L212 415.4 L212.9 416.3" fill="none" stroke="#111" stroke-width="0.4"/>
<path d="M218.9 414.5 L218 415.4 L218.9 416.3" fill="none" stroke="#111" stroke-width="0.4"/>
<path d="M224.9 414.5 L224 415.4 L224.9 416.3" fill="none" stroke="#111" stroke-width="0.4"/>
<path d="M230.9 414.5 L230 415.4 L230.9 416.3" fill="none" stroke="#111" stroke-width="0.4"/>
<path d="M236.9 414.5 L236 415.4 L236.9 416.3" fill="none" stroke="#111" stroke-width="0.4"/>
<path d="M242.9 414.5 L242 415.4 L242.9 416.3" fill="none" stroke="#111" stroke-width="0.4"/>
<path d="M248.9 414.5 L248 415.4 L248.9 416.3" fill="none" stroke="#111" stroke-width="0.4"/>
<path d="M254.9 414.5 L254 415.4 L254.9 416.3" fill="none" stroke="#111" stroke-width="0.4"/>
<line x1="414.00" y1="416.20" x2="447.00" y2="416.20" stroke="#555" stroke-width="0.5" />
<rect x="414.10" y="415.10" width="6.30" height="2.20" fill="#111" />
<path d="M422.6 416.2 L424.6 414.8 L425.3 414.8 L425.3 417.6 L424.6 417.6 Z" fill="#111"/>
<path d="M429.3 415.3 L430.4 416.2 L429.3 417.1 M431.6 415.3 L430.5 416.2 L431.6 417.1" fill="none" stroke="#555" stroke-width="0.4"/>
<path d="M434.3 415.1 L440.6 415.1 L442.2 416.2 L440.6 417.3 L434.3 417.3 Z" fill="#111"/>
<path d="M444.0 415.0 L445.2 415.0 L447.0 416.2 L445.2 417.4 L444.0 417.4 Z" fill="#111"/>
<text x="234.60" y="427.50" font-size="6.2" fill="#1a1a1a" text-anchor="middle" font-style="italic" >LEF1</text>
<text x="434.00" y="427.60" font-size="6.2" fill="#1a1a1a" text-anchor="middle" font-style="italic" >IL6</text>
<line x1="225.60" y1="319.50" x2="277.60" y2="319.50" stroke="#222" stroke-width="0.8" />
<text x="251.20" y="317.70" font-size="6.5" fill="#1a1a1a" text-anchor="middle" textLength="16.20" lengthAdjust="spacingAndGlyphs" >50 Kb</text>
<line x1="472.20" y1="319.30" x2="497.00" y2="319.30" stroke="#222" stroke-width="0.8" />
<text x="485.00" y="317.90" font-size="6.5" fill="#1a1a1a" text-anchor="middle" textLength="12.60" lengthAdjust="spacingAndGlyphs" >5 Kb</text>
<text x="58.90" y="337.60" font-size="6.1" fill="#1a1a1a" text-anchor="end" >H3K4me1</text>
<line x1="61.80" y1="328.20" x2="61.80" y2="342.50" stroke="#999" stroke-width="1.3" />
<text x="65.10" y="333.40" font-size="5.8" fill="#1a1a1a" >baseline</text>
<text x="65.10" y="343.30" font-size="5.8" fill="#1a1a1a" textLength="19.80" lengthAdjust="spacingAndGlyphs" >ibrutinib</text>
<text x="111.20" y="333.40" font-size="5.8" fill="#1a1a1a" text-anchor="end" >[0-100]</text>
<text x="111.20" y="343.30" font-size="5.8" fill="#1a1a1a" text-anchor="end" >[0-100]</text>
<text x="58.90" y="359.00" font-size="6.1" fill="#1a1a1a" text-anchor="end" >H3K9me3</text>
<line x1="61.80" y1="349.50" x2="61.80" y2="363.60" stroke="#999" stroke-width="1.3" />
<text x="65.10" y="354.70" font-size="5.8" fill="#1a1a1a" >baseline</text>
<text x="65.10" y="364.40" font-size="5.8" fill="#1a1a1a" textLength="19.80" lengthAdjust="spacingAndGlyphs" >ibrutinib</text>
<text x="111.20" y="354.70" font-size="5.8" fill="#1a1a1a" text-anchor="end" >[0-20]</text>
<text x="111.20" y="364.40" font-size="5.8" fill="#1a1a1a" text-anchor="end" >[0-20]</text>
<text x="58.90" y="380.10" font-size="6.1" fill="#1a1a1a" text-anchor="end" >H3K27ac</text>
<line x1="61.80" y1="371.00" x2="61.80" y2="384.30" stroke="#999" stroke-width="1.3" />
<text x="65.10" y="376.20" font-size="5.8" fill="#1a1a1a" >baseline</text>
<text x="65.10" y="385.10" font-size="5.8" fill="#1a1a1a" textLength="19.80" lengthAdjust="spacingAndGlyphs" >ibrutinib</text>
<text x="111.20" y="376.20" font-size="5.8" fill="#1a1a1a" text-anchor="end" >[0-30]</text>
<text x="111.20" y="385.10" font-size="5.8" fill="#1a1a1a" text-anchor="end" >[0-30]</text>
<text x="58.90" y="401.40" font-size="6.1" fill="#1a1a1a" text-anchor="end" >H3K27me3</text>
<line x1="61.80" y1="392.40" x2="61.80" y2="406.10" stroke="#999" stroke-width="1.3" />
<text x="65.10" y="397.60" font-size="5.8" fill="#1a1a1a" >baseline</text>
<text x="65.10" y="406.90" font-size="5.8" fill="#1a1a1a" textLength="19.80" lengthAdjust="spacingAndGlyphs" >ibrutinib</text>
<text x="111.20" y="397.60" font-size="5.8" fill="#1a1a1a" text-anchor="end" >[0-20]</text>
<text x="111.20" y="406.90" font-size="5.8" fill="#1a1a1a" text-anchor="end" >[0-20]</text>
<text x="335.40" y="336.90" font-size="6.1" fill="#1a1a1a" text-anchor="end" >H3K4me1</text>
<line x1="337.60" y1="327.80" x2="337.60" y2="341.60" stroke="#999" stroke-width="1.3" />
<text x="341.30" y="333.00" font-size="5.8" fill="#1a1a1a" >baseline</text>
<text x="341.30" y="342.40" font-size="5.8" fill="#1a1a1a" textLength="19.80" lengthAdjust="spacingAndGlyphs" >ibrutinib</text>
<text x="384.90" y="333.00" font-size="5.8" fill="#1a1a1a" text-anchor="end" >[0-25]</text>
<text x="384.90" y="342.40" font-size="5.8" fill="#1a1a1a" text-anchor="end" >[0-25]</text>
<text x="335.40" y="359.00" font-size="6.1" fill="#1a1a1a" text-anchor="end" >H3K9me3</text>
<line x1="337.60" y1="349.60" x2="337.60" y2="363.40" stroke="#999" stroke-width="1.3" />
<text x="341.30" y="354.80" font-size="5.8" fill="#1a1a1a" >baseline</text>
<text x="341.30" y="364.20" font-size="5.8" fill="#1a1a1a" textLength="19.80" lengthAdjust="spacingAndGlyphs" >ibrutinib</text>
<text x="384.90" y="354.80" font-size="5.8" fill="#1a1a1a" text-anchor="end" >[0-25]</text>
<text x="384.90" y="364.20" font-size="5.8" fill="#1a1a1a" text-anchor="end" >[0-25]</text>
<text x="335.40" y="379.80" font-size="6.1" fill="#1a1a1a" text-anchor="end" >H3K27ac</text>
<line x1="337.60" y1="370.80" x2="337.60" y2="385.10" stroke="#999" stroke-width="1.3" />
<text x="341.30" y="376.00" font-size="5.8" fill="#1a1a1a" >baseline</text>
<text x="341.30" y="385.90" font-size="5.8" fill="#1a1a1a" textLength="19.80" lengthAdjust="spacingAndGlyphs" >ibrutinib</text>
<text x="384.90" y="376.00" font-size="5.8" fill="#1a1a1a" text-anchor="end" >[0-20]</text>
<text x="384.90" y="385.90" font-size="5.8" fill="#1a1a1a" text-anchor="end" >[0-20]</text>
<text x="335.40" y="401.50" font-size="6.1" fill="#1a1a1a" text-anchor="end" >H3K27me3</text>
<line x1="337.60" y1="392.20" x2="337.60" y2="406.20" stroke="#999" stroke-width="1.3" />
<text x="341.30" y="397.40" font-size="5.8" fill="#1a1a1a" >baseline</text>
<text x="341.30" y="407.00" font-size="5.8" fill="#1a1a1a" textLength="19.80" lengthAdjust="spacingAndGlyphs" >ibrutinib</text>
<text x="384.90" y="397.40" font-size="5.8" fill="#1a1a1a" text-anchor="end" >[0-20]</text>
<text x="384.90" y="407.00" font-size="5.8" fill="#1a1a1a" text-anchor="end" >[0-20]</text>
<rect x="1.5" y="1.5" width="517" height="432" fill="none" stroke="#eaeaea" stroke-width="1"/>
<rect x="0.5" y="0.5" width="519" height="434" fill="none" stroke="#646464" stroke-width="1"/>
<line x1="516.5" y1="2" x2="516.5" y2="433" stroke="#f0f0f0" stroke-width="1"/>
</svg></body></html>
